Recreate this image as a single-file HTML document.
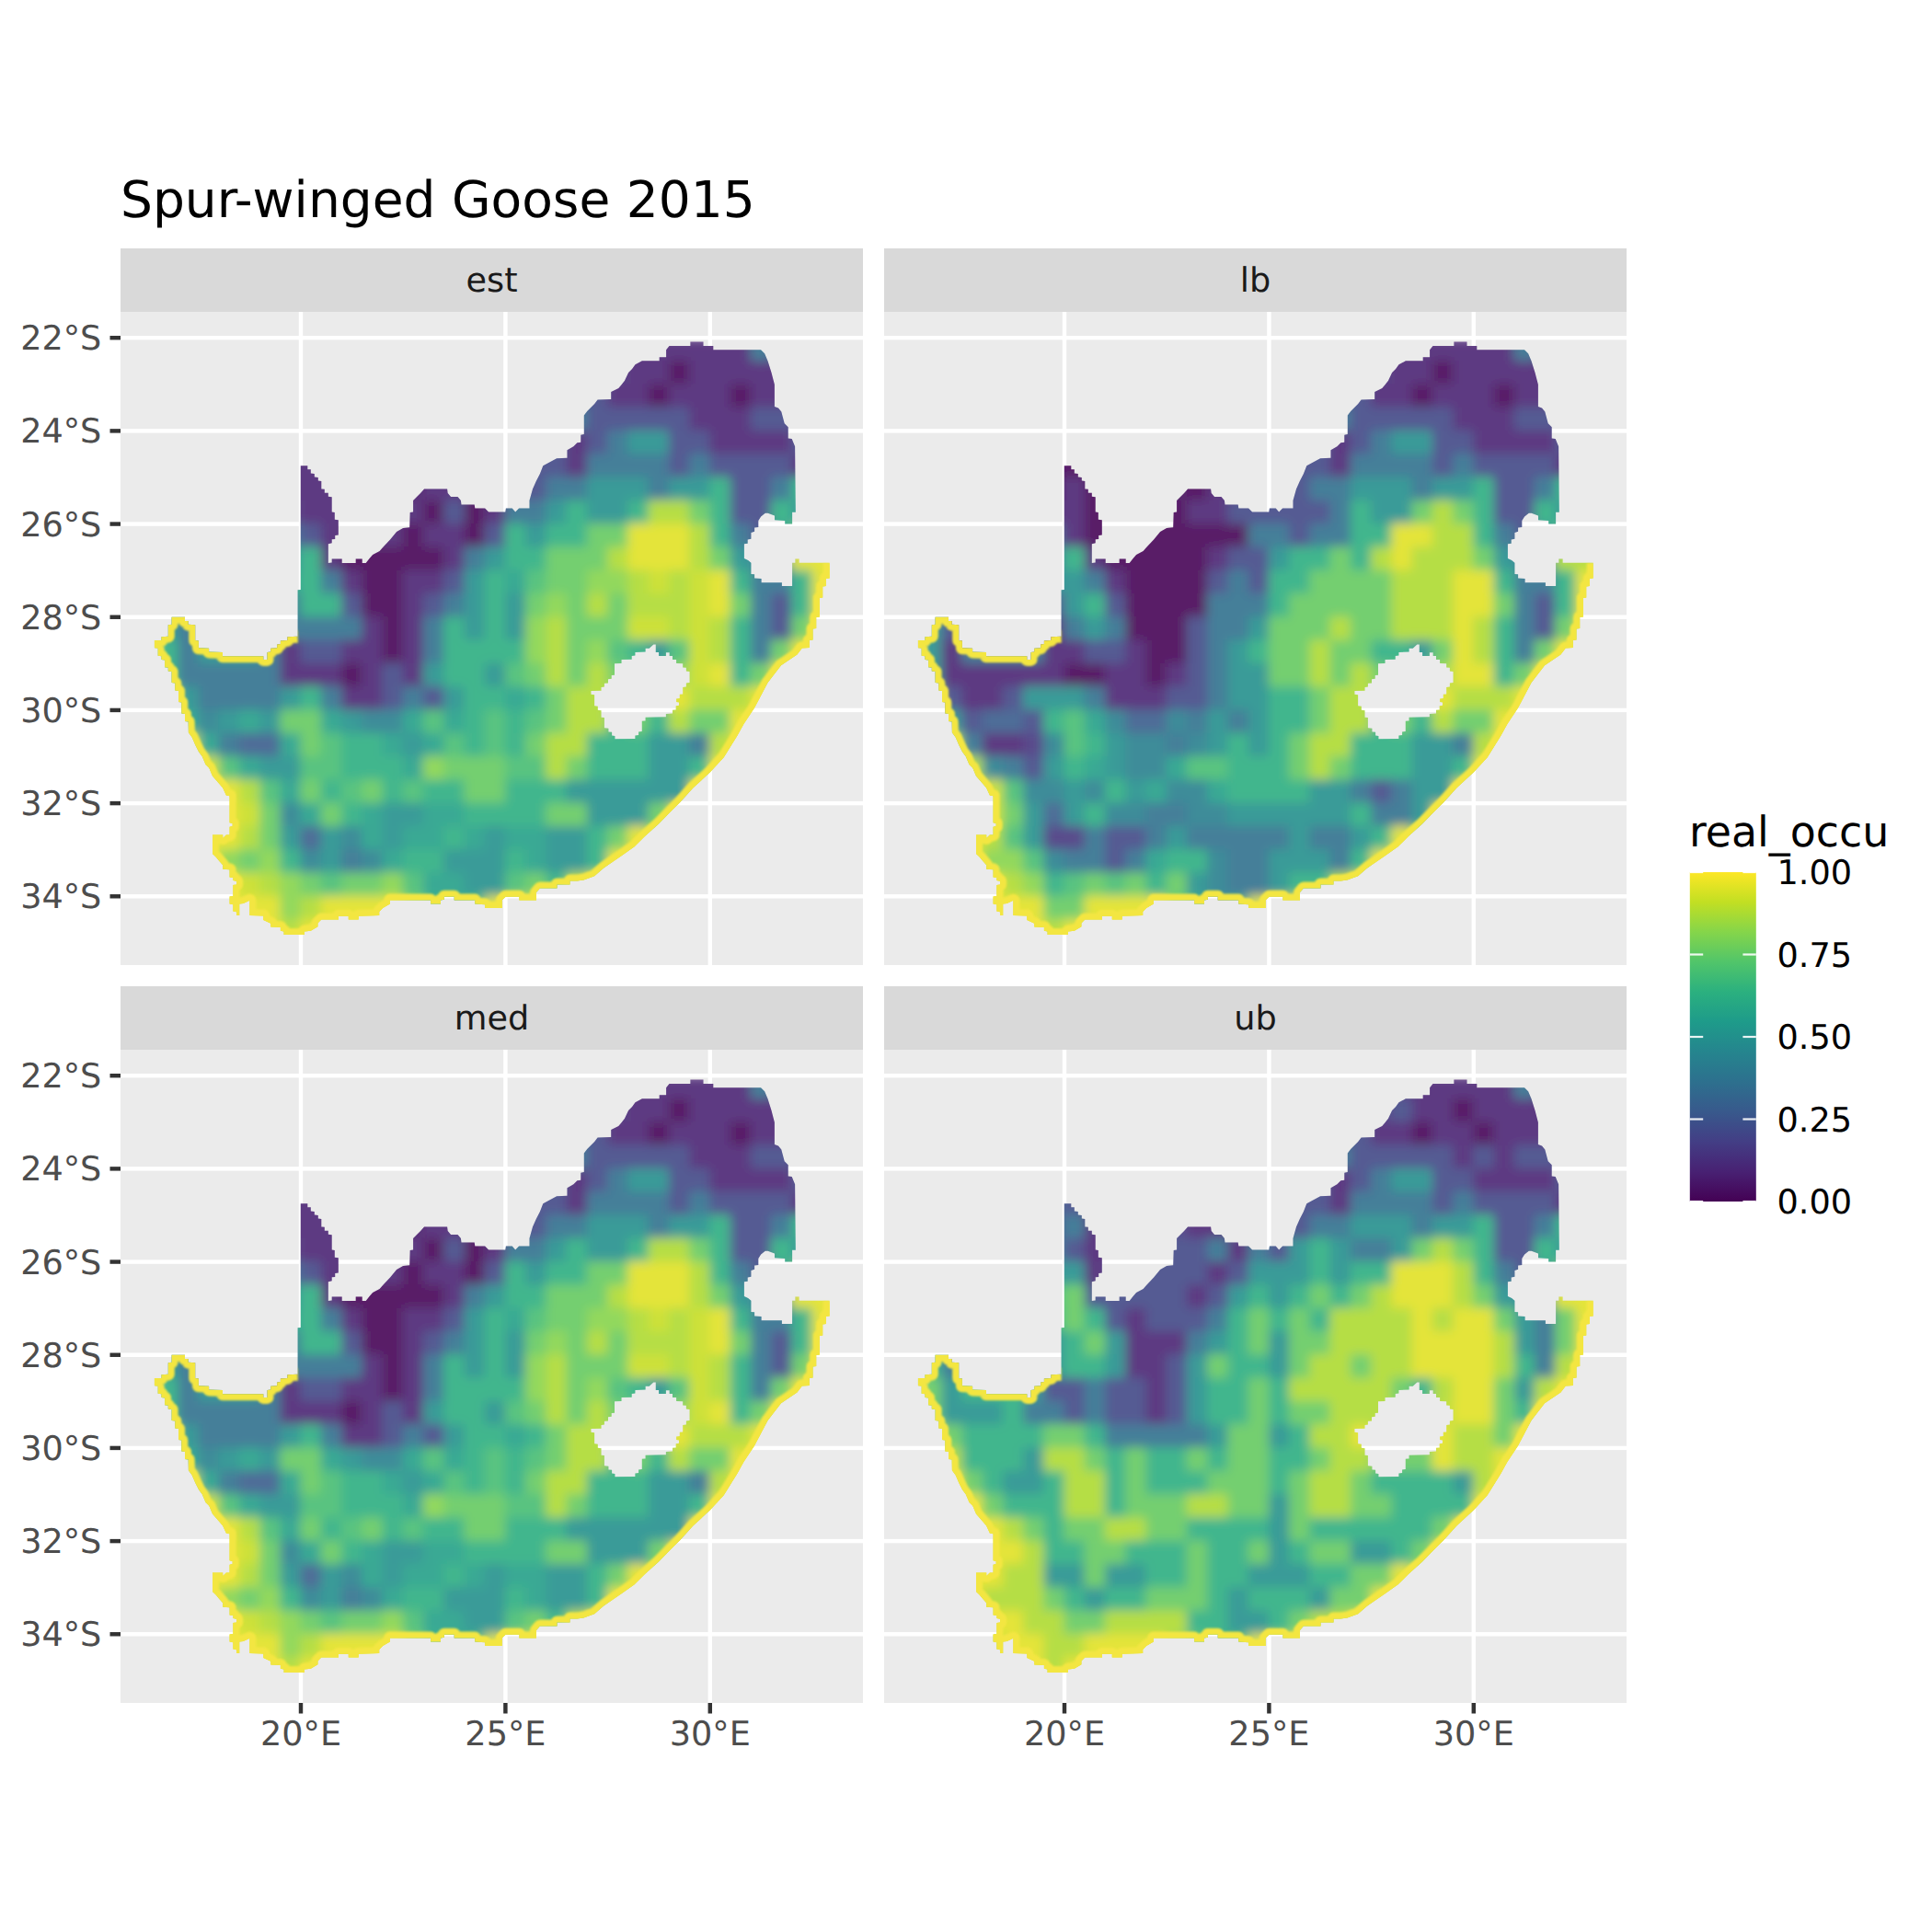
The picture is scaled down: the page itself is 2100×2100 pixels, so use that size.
<!DOCTYPE html>
<html><head><meta charset="utf-8"><title>Spur-winged Goose 2015</title><style>html,body{margin:0;padding:0;background:#fff;}svg{display:block;} text{text-rendering:geometricPrecision;-webkit-font-smoothing:antialiased;}</style></head><body>
<svg width="2100" height="2100" viewBox="0 0 2100 2100">
<defs>
<clipPath id="sa" clipPathUnits="userSpaceOnUse"><path clip-rule="evenodd" d="M727.5 375.9 L750.4 375.9 L750.4 371.4 L764.5 371.4 L764.5 375.9 L775.3 375.9 L775.3 380.2 L827.0 380.2 L831.1 384.2 L834.5 392.3 L838.5 405.0 L841.9 417.9 L841.9 442.1 L846.0 443.4 L849.3 447.5 L852.7 460.3 L856.7 464.3 L856.7 476.4 L860.7 477.1 L864.1 485.2 L864.8 556.8 L861.1 556.8 L861.1 569.4 L853.2 569.4 L853.2 566.1 L842.0 565.2 L842.0 560.5 L834.6 557.7 L831.8 557.7 L827.1 561.4 L824.3 566.1 L824.3 573.1 L820.1 573.6 L820.1 577.7 L816.4 579.1 L816.4 585.7 L812.7 586.6 L812.7 590.8 L808.9 591.3 L808.9 607.1 L813.1 609.0 L816.4 611.8 L816.4 623.9 L820.1 624.3 L820.1 628.5 L827.6 629.0 L827.6 633.2 L849.9 633.2 L849.9 636.9 L861.1 636.9 L861.1 611.8 L864.4 611.8 L864.4 607.6 L868.6 607.6 L868.6 611.8 L901.7 611.8 L901.7 628.5 L897.9 629.0 L897.9 636.9 L894.2 637.4 L894.2 649.5 L890.9 650.0 L890.9 670.5 L887.2 670.9 L887.2 683.1 L883.5 683.5 L883.5 695.6 L879.8 696.1 L879.8 704.0 L871.8 704.5 L866.4 711.6 L849.0 723.2 L834.5 742.0 L820.0 769.6 L808.4 787.0 L801.2 800.0 L786.7 823.2 L772.2 839.1 L753.3 856.5 L738.8 872.5 L727.2 884.1 L715.7 895.7 L701.2 908.7 L689.6 920.3 L675.1 930.4 L656.2 943.5 L646.1 952.2 L634.5 956.5 L627.3 957.6 L619.5 957.6 L619.5 961.5 L605.5 961.5 L605.5 965.4 L586.9 965.4 L583.0 970.1 L583.0 978.6 L564.4 978.6 L564.4 974.7 L549.6 974.7 L545.7 978.6 L545.7 987.1 L527.1 987.1 L527.1 983.3 L516.2 982.5 L516.2 978.6 L493.7 978.6 L493.7 974.7 L482.9 974.7 L482.9 977.8 L479.0 978.6 L479.0 982.5 L468.1 982.5 L468.1 978.6 L423.9 978.6 L423.9 982.5 L416.1 987.1 L412.2 991.0 L412.2 994.9 L389.7 995.7 L389.7 999.6 L378.8 999.6 L378.8 995.7 L368.0 995.7 L368.0 999.6 L349.3 999.6 L345.4 1003.4 L345.4 1007.3 L337.8 1011.7 L331.0 1012.4 L331.0 1016.1 L308.6 1016.1 L308.6 1012.4 L304.9 1011.7 L304.9 1008.0 L294.3 1007.4 L294.3 1003.7 L286.3 999.9 L286.3 995.6 L271.4 995.0 L271.4 978.8 L264.5 981.9 L260.2 982.5 L260.2 995.0 L257.1 995.0 L257.1 991.2 L253.4 990.6 L253.4 983.2 L249.6 982.5 L249.6 974.5 L253.4 973.9 L253.4 962.0 L257.1 961.4 L257.1 957.7 L253.4 957.1 L253.4 954.0 L249.6 953.4 L249.6 945.3 L242.2 944.7 L242.2 940.3 L238.4 936.0 L234.7 931.6 L231.0 927.9 L231.0 907.4 L242.2 907.4 L242.2 911.1 L245.9 907.4 L249.6 907.4 L249.6 898.7 L252.7 898.1 L252.7 895.0 L249.6 894.3 L249.6 865.2 L245.9 864.5 L242.2 856.5 L238.4 852.1 L234.7 847.8 L231.0 843.4 L227.3 834.7 L223.5 831.0 L219.8 822.3 L216.1 817.3 L212.4 809.9 L208.6 801.2 L204.9 796.2 L204.7 784.5 L201.0 784.0 L201.0 776.1 L197.3 775.6 L197.3 763.5 L194.0 763.1 L194.0 751.0 L190.3 750.5 L190.3 742.6 L186.6 742.1 L186.6 730.0 L182.8 729.5 L182.8 725.8 L179.1 725.3 L179.1 717.4 L175.4 716.9 L175.4 713.2 L171.6 712.7 L171.6 704.8 L167.9 704.3 L167.9 696.0 L175.4 696.0 L175.4 692.2 L182.8 691.8 L182.8 679.2 L186.6 678.7 L186.6 670.8 L201.0 670.8 L201.0 675.0 L204.7 675.0 L204.7 678.7 L212.2 679.2 L212.2 696.0 L215.9 696.4 L215.9 704.3 L227.1 704.8 L227.1 708.5 L242.0 709.0 L242.0 713.2 L286.3 713.2 L286.3 716.9 L290.5 716.9 L290.5 709.0 L294.2 708.5 L294.2 704.8 L301.2 704.3 L301.2 700.6 L304.9 700.1 L304.9 696.4 L312.4 696.0 L312.4 692.2 L323.6 691.8 L323.6 641.2 L326.8 641.0 L326.8 506.3 L334.3 506.3 L334.3 510.2 L337.8 510.2 L337.8 514.6 L341.8 515.1 L341.8 518.6 L345.8 519.0 L345.8 522.6 L349.3 523.0 L349.3 531.4 L352.8 531.8 L352.8 535.8 L356.8 535.8 L356.8 539.7 L360.7 540.2 L360.7 556.4 L363.8 556.9 L363.8 564.8 L367.8 565.2 L367.8 581.5 L364.2 582.0 L364.2 585.9 L360.7 586.3 L360.7 590.3 L356.8 591.2 L356.8 611.9 L360.7 611.4 L360.7 607.5 L371.7 607.5 L371.7 611.9 L386.7 611.9 L386.7 607.5 L393.7 607.5 L393.7 611.9 L397.7 611.9 L401.2 607.5 L405.1 603.1 L412.6 599.1 L416.1 595.1 L420.1 590.7 L424.1 586.4 L431.1 578.0 L438.1 574.0 L445.2 573.2 L445.7 557.0 L449.1 556.4 L449.1 543.9 L453.1 539.9 L457.1 535.9 L461.1 531.4 L486.1 531.4 L486.7 535.9 L490.1 539.9 L497.5 539.9 L500.9 543.9 L501.5 548.5 L515.7 548.5 L516.3 552.4 L527.1 552.4 L531.1 556.4 L549.3 556.4 L549.9 552.4 L556.7 552.4 L560.2 556.4 L564.1 552.4 L575.5 552.4 L575.5 543.9 L579.0 531.4 L582.9 522.8 L586.9 514.9 L590.3 506.3 L597.7 502.3 L605.1 498.3 L616.5 497.8 L616.5 489.2 L623.4 485.2 L627.4 481.3 L631.3 480.7 L631.3 472.7 L634.8 472.1 L634.8 451.6 L638.2 447.1 L642.2 443.1 L646.2 439.1 L649.6 434.6 L664.2 434.0 L664.2 425.9 L672.3 421.9 L675.7 417.9 L679.0 413.8 L683.1 405.1 L687.1 401.0 L690.5 396.3 L697.9 392.3 L716.7 392.3 L716.7 388.3 L724.1 388.3 L724.1 380.2 Z M710.3 700.6 L712.8 700.6 L712.8 708.9 L716.1 708.9 L716.1 713.0 L723.9 713.0 L723.9 709.3 L727.7 709.3 L727.7 713.0 L731.0 713.0 L731.0 717.1 L735.1 717.1 L735.1 720.9 L742.2 721.3 L742.2 725.4 L745.9 725.8 L745.9 729.6 L749.6 730.0 L749.6 742.0 L745.9 742.4 L745.9 746.5 L742.2 747.0 L742.2 754.4 L738.8 754.8 L738.8 759.0 L735.1 759.4 L735.1 763.1 L738.0 763.5 L738.0 766.8 L734.7 767.2 L734.7 771.4 L731.0 771.8 L731.0 775.5 L723.9 775.9 L723.9 779.3 L701.6 779.7 L701.6 783.4 L697.8 783.8 L697.8 795.0 L694.1 795.4 L694.1 799.1 L690.4 799.5 L690.4 802.9 L668.4 803.3 L668.4 800.0 L665.1 799.5 L665.1 795.8 L661.4 795.4 L661.4 791.7 L656.9 791.3 L656.9 780.1 L653.5 779.7 L653.5 772.2 L649.8 771.8 L649.8 767.7 L646.1 767.2 L646.1 755.2 L642.4 754.8 L642.4 751.1 L653.5 750.7 L653.5 747.0 L656.9 746.5 L656.9 742.8 L661.0 742.4 L661.0 738.3 L664.7 737.8 L664.7 734.1 L668.0 733.7 L668.0 721.3 L675.5 720.9 L675.5 717.1 L686.7 716.7 L686.7 713.0 L690.4 712.6 L690.4 708.9 L701.6 708.4 L701.6 704.7 L705.7 704.7 Z"/></clipPath>
<filter id="bl" x="-5%" y="-5%" width="110%" height="110%"><feGaussianBlur stdDeviation="6"/></filter>
<filter id="bl2" x="-5%" y="-5%" width="110%" height="110%"><feGaussianBlur stdDeviation="1.2"/></filter>
<linearGradient id="vg" x1="0" y1="1" x2="0" y2="0"><stop offset="0.0000" stop-color="#440154"/><stop offset="0.0909" stop-color="#482173"/><stop offset="0.1818" stop-color="#433E85"/><stop offset="0.2727" stop-color="#38598C"/><stop offset="0.3636" stop-color="#2D708E"/><stop offset="0.4545" stop-color="#25858E"/><stop offset="0.5455" stop-color="#1E9B8A"/><stop offset="0.6364" stop-color="#2BB07F"/><stop offset="0.7273" stop-color="#51C56A"/><stop offset="0.8182" stop-color="#85D54A"/><stop offset="0.9091" stop-color="#C2DF23"/><stop offset="1.0000" stop-color="#FDE725"/></linearGradient>
</defs>
<rect width="2100" height="2100" fill="#FFFFFF"/>
<text x="131" y="236.4" font-family="DejaVu Sans" font-size="55" fill="#000000">Spur-winged Goose 2015</text>
<g transform="translate(0,0)">
<rect x="131" y="270" width="807" height="69" fill="#D9D9D9"/>
<text x="534.5" y="316.8" text-anchor="middle" font-family="DejaVu Sans" font-size="36.67" fill="#1A1A1A">est</text>
<rect x="131" y="339" width="807" height="710" fill="#EBEBEB"/>
<rect x="324.78" y="339" width="4.44" height="710" fill="#FFFFFF"/>
<rect x="547.18" y="339" width="4.44" height="710" fill="#FFFFFF"/>
<rect x="769.58" y="339" width="4.44" height="710" fill="#FFFFFF"/>
<rect x="131" y="364.98" width="807" height="4.44" fill="#FFFFFF"/>
<rect x="131" y="466.16" width="807" height="4.44" fill="#FFFFFF"/>
<rect x="131" y="567.34" width="807" height="4.44" fill="#FFFFFF"/>
<rect x="131" y="668.52" width="807" height="4.44" fill="#FFFFFF"/>
<rect x="131" y="769.70" width="807" height="4.44" fill="#FFFFFF"/>
<rect x="131" y="870.88" width="807" height="4.44" fill="#FFFFFF"/>
<rect x="131" y="972.06" width="807" height="4.44" fill="#FFFFFF"/>
<g clip-path="url(#sa)"><g>
<g filter="url(#bl)">
<rect x="170.8" y="366.7" width="23.2" height="26.3" fill="#482173"/>
<rect x="193.1" y="366.7" width="23.2" height="26.3" fill="#482173"/>
<rect x="215.3" y="366.7" width="23.2" height="26.3" fill="#482173"/>
<rect x="237.5" y="366.7" width="23.2" height="26.3" fill="#482173"/>
<rect x="259.8" y="366.7" width="23.2" height="26.3" fill="#482173"/>
<rect x="282.0" y="366.7" width="23.2" height="26.3" fill="#482173"/>
<rect x="304.3" y="366.7" width="23.2" height="26.3" fill="#482173"/>
<rect x="326.5" y="366.7" width="23.2" height="26.3" fill="#482173"/>
<rect x="348.7" y="366.7" width="23.2" height="26.3" fill="#482173"/>
<rect x="371.0" y="366.7" width="23.2" height="26.3" fill="#482173"/>
<rect x="393.2" y="366.7" width="23.2" height="26.3" fill="#482173"/>
<rect x="415.5" y="366.7" width="23.2" height="26.3" fill="#482173"/>
<rect x="437.7" y="366.7" width="23.2" height="26.3" fill="#482173"/>
<rect x="459.9" y="366.7" width="23.2" height="26.3" fill="#45347F"/>
<rect x="482.2" y="366.7" width="23.2" height="26.3" fill="#404687"/>
<rect x="504.4" y="366.7" width="23.2" height="26.3" fill="#404687"/>
<rect x="526.7" y="366.7" width="23.2" height="26.3" fill="#375B8C"/>
<rect x="548.9" y="366.7" width="23.2" height="26.3" fill="#2D6F8E"/>
<rect x="571.1" y="366.7" width="23.2" height="26.3" fill="#375B8C"/>
<rect x="593.4" y="366.7" width="23.2" height="26.3" fill="#404687"/>
<rect x="615.6" y="366.7" width="23.2" height="26.3" fill="#433D85"/>
<rect x="637.9" y="366.7" width="23.2" height="26.3" fill="#45317D"/>
<rect x="660.1" y="366.7" width="23.2" height="26.3" fill="#482173"/>
<rect x="682.3" y="366.7" width="23.2" height="26.3" fill="#482173"/>
<rect x="704.6" y="366.7" width="23.2" height="26.3" fill="#482173"/>
<rect x="726.8" y="366.7" width="23.2" height="26.3" fill="#482173"/>
<rect x="749.1" y="366.7" width="23.2" height="26.3" fill="#482173"/>
<rect x="771.3" y="366.7" width="23.2" height="26.3" fill="#482173"/>
<rect x="793.5" y="366.7" width="23.2" height="26.3" fill="#482173"/>
<rect x="815.8" y="366.7" width="23.2" height="26.3" fill="#2D6F8E"/>
<rect x="838.0" y="366.7" width="23.2" height="26.3" fill="#443A83"/>
<rect x="860.3" y="366.7" width="23.2" height="26.3" fill="#482173"/>
<rect x="882.5" y="366.7" width="23.2" height="26.3" fill="#482173"/>
<rect x="170.8" y="392.0" width="23.2" height="26.3" fill="#482173"/>
<rect x="193.1" y="392.0" width="23.2" height="26.3" fill="#482173"/>
<rect x="215.3" y="392.0" width="23.2" height="26.3" fill="#482173"/>
<rect x="237.5" y="392.0" width="23.2" height="26.3" fill="#482173"/>
<rect x="259.8" y="392.0" width="23.2" height="26.3" fill="#482173"/>
<rect x="282.0" y="392.0" width="23.2" height="26.3" fill="#482173"/>
<rect x="304.3" y="392.0" width="23.2" height="26.3" fill="#482173"/>
<rect x="326.5" y="392.0" width="23.2" height="26.3" fill="#482173"/>
<rect x="348.7" y="392.0" width="23.2" height="26.3" fill="#482173"/>
<rect x="371.0" y="392.0" width="23.2" height="26.3" fill="#482173"/>
<rect x="393.2" y="392.0" width="23.2" height="26.3" fill="#482173"/>
<rect x="415.5" y="392.0" width="23.2" height="26.3" fill="#482173"/>
<rect x="437.7" y="392.0" width="23.2" height="26.3" fill="#482173"/>
<rect x="459.9" y="392.0" width="23.2" height="26.3" fill="#462B79"/>
<rect x="482.2" y="392.0" width="23.2" height="26.3" fill="#404687"/>
<rect x="504.4" y="392.0" width="23.2" height="26.3" fill="#404687"/>
<rect x="526.7" y="392.0" width="23.2" height="26.3" fill="#404687"/>
<rect x="548.9" y="392.0" width="23.2" height="26.3" fill="#385A8C"/>
<rect x="571.1" y="392.0" width="23.2" height="26.3" fill="#2D6F8E"/>
<rect x="593.4" y="392.0" width="23.2" height="26.3" fill="#385A8C"/>
<rect x="615.6" y="392.0" width="23.2" height="26.3" fill="#404687"/>
<rect x="637.9" y="392.0" width="23.2" height="26.3" fill="#45347F"/>
<rect x="660.1" y="392.0" width="23.2" height="26.3" fill="#462A79"/>
<rect x="682.3" y="392.0" width="23.2" height="26.3" fill="#482173"/>
<rect x="704.6" y="392.0" width="23.2" height="26.3" fill="#482173"/>
<rect x="726.8" y="392.0" width="23.2" height="26.3" fill="#440154"/>
<rect x="749.1" y="392.0" width="23.2" height="26.3" fill="#482173"/>
<rect x="771.3" y="392.0" width="23.2" height="26.3" fill="#482173"/>
<rect x="793.5" y="392.0" width="23.2" height="26.3" fill="#482173"/>
<rect x="815.8" y="392.0" width="23.2" height="26.3" fill="#482173"/>
<rect x="838.0" y="392.0" width="23.2" height="26.3" fill="#482173"/>
<rect x="860.3" y="392.0" width="23.2" height="26.3" fill="#482173"/>
<rect x="882.5" y="392.0" width="23.2" height="26.3" fill="#472575"/>
<rect x="170.8" y="417.3" width="23.2" height="26.3" fill="#482173"/>
<rect x="193.1" y="417.3" width="23.2" height="26.3" fill="#482173"/>
<rect x="215.3" y="417.3" width="23.2" height="26.3" fill="#482173"/>
<rect x="237.5" y="417.3" width="23.2" height="26.3" fill="#482173"/>
<rect x="259.8" y="417.3" width="23.2" height="26.3" fill="#482173"/>
<rect x="282.0" y="417.3" width="23.2" height="26.3" fill="#482173"/>
<rect x="304.3" y="417.3" width="23.2" height="26.3" fill="#482173"/>
<rect x="326.5" y="417.3" width="23.2" height="26.3" fill="#482173"/>
<rect x="348.7" y="417.3" width="23.2" height="26.3" fill="#482173"/>
<rect x="371.0" y="417.3" width="23.2" height="26.3" fill="#482173"/>
<rect x="393.2" y="417.3" width="23.2" height="26.3" fill="#482173"/>
<rect x="415.5" y="417.3" width="23.2" height="26.3" fill="#482173"/>
<rect x="437.7" y="417.3" width="23.2" height="26.3" fill="#482173"/>
<rect x="459.9" y="417.3" width="23.2" height="26.3" fill="#482173"/>
<rect x="482.2" y="417.3" width="23.2" height="26.3" fill="#462E7B"/>
<rect x="504.4" y="417.3" width="23.2" height="26.3" fill="#404687"/>
<rect x="526.7" y="417.3" width="23.2" height="26.3" fill="#404687"/>
<rect x="548.9" y="417.3" width="23.2" height="26.3" fill="#404687"/>
<rect x="571.1" y="417.3" width="23.2" height="26.3" fill="#3A558B"/>
<rect x="593.4" y="417.3" width="23.2" height="26.3" fill="#2D6F8E"/>
<rect x="615.6" y="417.3" width="23.2" height="26.3" fill="#3A558B"/>
<rect x="637.9" y="417.3" width="23.2" height="26.3" fill="#404687"/>
<rect x="660.1" y="417.3" width="23.2" height="26.3" fill="#482173"/>
<rect x="682.3" y="417.3" width="23.2" height="26.3" fill="#482173"/>
<rect x="704.6" y="417.3" width="23.2" height="26.3" fill="#440154"/>
<rect x="726.8" y="417.3" width="23.2" height="26.3" fill="#482173"/>
<rect x="749.1" y="417.3" width="23.2" height="26.3" fill="#482173"/>
<rect x="771.3" y="417.3" width="23.2" height="26.3" fill="#482173"/>
<rect x="793.5" y="417.3" width="23.2" height="26.3" fill="#440154"/>
<rect x="815.8" y="417.3" width="23.2" height="26.3" fill="#482173"/>
<rect x="838.0" y="417.3" width="23.2" height="26.3" fill="#482173"/>
<rect x="860.3" y="417.3" width="23.2" height="26.3" fill="#462D7B"/>
<rect x="882.5" y="417.3" width="23.2" height="26.3" fill="#45327E"/>
<rect x="170.8" y="442.6" width="23.2" height="26.3" fill="#482273"/>
<rect x="193.1" y="442.6" width="23.2" height="26.3" fill="#482173"/>
<rect x="215.3" y="442.6" width="23.2" height="26.3" fill="#482173"/>
<rect x="237.5" y="442.6" width="23.2" height="26.3" fill="#482173"/>
<rect x="259.8" y="442.6" width="23.2" height="26.3" fill="#482173"/>
<rect x="282.0" y="442.6" width="23.2" height="26.3" fill="#482173"/>
<rect x="304.3" y="442.6" width="23.2" height="26.3" fill="#482173"/>
<rect x="326.5" y="442.6" width="23.2" height="26.3" fill="#482173"/>
<rect x="348.7" y="442.6" width="23.2" height="26.3" fill="#482173"/>
<rect x="371.0" y="442.6" width="23.2" height="26.3" fill="#482173"/>
<rect x="393.2" y="442.6" width="23.2" height="26.3" fill="#482173"/>
<rect x="415.5" y="442.6" width="23.2" height="26.3" fill="#482173"/>
<rect x="437.7" y="442.6" width="23.2" height="26.3" fill="#482173"/>
<rect x="459.9" y="442.6" width="23.2" height="26.3" fill="#482173"/>
<rect x="482.2" y="442.6" width="23.2" height="26.3" fill="#482173"/>
<rect x="504.4" y="442.6" width="23.2" height="26.3" fill="#462F7C"/>
<rect x="526.7" y="442.6" width="23.2" height="26.3" fill="#404687"/>
<rect x="548.9" y="442.6" width="23.2" height="26.3" fill="#404687"/>
<rect x="571.1" y="442.6" width="23.2" height="26.3" fill="#404687"/>
<rect x="593.4" y="442.6" width="23.2" height="26.3" fill="#404687"/>
<rect x="615.6" y="442.6" width="23.2" height="26.3" fill="#2D6F8E"/>
<rect x="637.9" y="442.6" width="23.2" height="26.3" fill="#404687"/>
<rect x="660.1" y="442.6" width="23.2" height="26.3" fill="#404687"/>
<rect x="682.3" y="442.6" width="23.2" height="26.3" fill="#404687"/>
<rect x="704.6" y="442.6" width="23.2" height="26.3" fill="#404687"/>
<rect x="726.8" y="442.6" width="23.2" height="26.3" fill="#404687"/>
<rect x="749.1" y="442.6" width="23.2" height="26.3" fill="#482173"/>
<rect x="771.3" y="442.6" width="23.2" height="26.3" fill="#482173"/>
<rect x="793.5" y="442.6" width="23.2" height="26.3" fill="#482173"/>
<rect x="815.8" y="442.6" width="23.2" height="26.3" fill="#404687"/>
<rect x="838.0" y="442.6" width="23.2" height="26.3" fill="#404687"/>
<rect x="860.3" y="442.6" width="23.2" height="26.3" fill="#45347F"/>
<rect x="882.5" y="442.6" width="23.2" height="26.3" fill="#404687"/>
<rect x="170.8" y="467.9" width="23.2" height="26.3" fill="#433C84"/>
<rect x="193.1" y="467.9" width="23.2" height="26.3" fill="#482374"/>
<rect x="215.3" y="467.9" width="23.2" height="26.3" fill="#482274"/>
<rect x="237.5" y="467.9" width="23.2" height="26.3" fill="#482173"/>
<rect x="259.8" y="467.9" width="23.2" height="26.3" fill="#482173"/>
<rect x="282.0" y="467.9" width="23.2" height="26.3" fill="#482173"/>
<rect x="304.3" y="467.9" width="23.2" height="26.3" fill="#482173"/>
<rect x="326.5" y="467.9" width="23.2" height="26.3" fill="#482173"/>
<rect x="348.7" y="467.9" width="23.2" height="26.3" fill="#482173"/>
<rect x="371.0" y="467.9" width="23.2" height="26.3" fill="#482173"/>
<rect x="393.2" y="467.9" width="23.2" height="26.3" fill="#482173"/>
<rect x="415.5" y="467.9" width="23.2" height="26.3" fill="#482173"/>
<rect x="437.7" y="467.9" width="23.2" height="26.3" fill="#482173"/>
<rect x="459.9" y="467.9" width="23.2" height="26.3" fill="#482173"/>
<rect x="482.2" y="467.9" width="23.2" height="26.3" fill="#482173"/>
<rect x="504.4" y="467.9" width="23.2" height="26.3" fill="#482173"/>
<rect x="526.7" y="467.9" width="23.2" height="26.3" fill="#45347F"/>
<rect x="548.9" y="467.9" width="23.2" height="26.3" fill="#404687"/>
<rect x="571.1" y="467.9" width="23.2" height="26.3" fill="#404687"/>
<rect x="593.4" y="467.9" width="23.2" height="26.3" fill="#404687"/>
<rect x="615.6" y="467.9" width="23.2" height="26.3" fill="#482173"/>
<rect x="637.9" y="467.9" width="23.2" height="26.3" fill="#404687"/>
<rect x="660.1" y="467.9" width="23.2" height="26.3" fill="#2D6F8E"/>
<rect x="682.3" y="467.9" width="23.2" height="26.3" fill="#22908C"/>
<rect x="704.6" y="467.9" width="23.2" height="26.3" fill="#22908C"/>
<rect x="726.8" y="467.9" width="23.2" height="26.3" fill="#404687"/>
<rect x="749.1" y="467.9" width="23.2" height="26.3" fill="#404687"/>
<rect x="771.3" y="467.9" width="23.2" height="26.3" fill="#482173"/>
<rect x="793.5" y="467.9" width="23.2" height="26.3" fill="#482173"/>
<rect x="815.8" y="467.9" width="23.2" height="26.3" fill="#482173"/>
<rect x="838.0" y="467.9" width="23.2" height="26.3" fill="#482173"/>
<rect x="860.3" y="467.9" width="23.2" height="26.3" fill="#404687"/>
<rect x="882.5" y="467.9" width="23.2" height="26.3" fill="#45347F"/>
<rect x="170.8" y="493.2" width="23.2" height="26.3" fill="#2D6F8E"/>
<rect x="193.1" y="493.2" width="23.2" height="26.3" fill="#433E85"/>
<rect x="215.3" y="493.2" width="23.2" height="26.3" fill="#472777"/>
<rect x="237.5" y="493.2" width="23.2" height="26.3" fill="#472475"/>
<rect x="259.8" y="493.2" width="23.2" height="26.3" fill="#482274"/>
<rect x="282.0" y="493.2" width="23.2" height="26.3" fill="#482173"/>
<rect x="304.3" y="493.2" width="23.2" height="26.3" fill="#482173"/>
<rect x="326.5" y="493.2" width="23.2" height="26.3" fill="#482173"/>
<rect x="348.7" y="493.2" width="23.2" height="26.3" fill="#482173"/>
<rect x="371.0" y="493.2" width="23.2" height="26.3" fill="#482173"/>
<rect x="393.2" y="493.2" width="23.2" height="26.3" fill="#482173"/>
<rect x="415.5" y="493.2" width="23.2" height="26.3" fill="#481D6F"/>
<rect x="437.7" y="493.2" width="23.2" height="26.3" fill="#482173"/>
<rect x="459.9" y="493.2" width="23.2" height="26.3" fill="#482173"/>
<rect x="482.2" y="493.2" width="23.2" height="26.3" fill="#482173"/>
<rect x="504.4" y="493.2" width="23.2" height="26.3" fill="#482173"/>
<rect x="526.7" y="493.2" width="23.2" height="26.3" fill="#482173"/>
<rect x="548.9" y="493.2" width="23.2" height="26.3" fill="#404687"/>
<rect x="571.1" y="493.2" width="23.2" height="26.3" fill="#404687"/>
<rect x="593.4" y="493.2" width="23.2" height="26.3" fill="#404687"/>
<rect x="615.6" y="493.2" width="23.2" height="26.3" fill="#482173"/>
<rect x="637.9" y="493.2" width="23.2" height="26.3" fill="#2D6F8E"/>
<rect x="660.1" y="493.2" width="23.2" height="26.3" fill="#2D6F8E"/>
<rect x="682.3" y="493.2" width="23.2" height="26.3" fill="#2D6F8E"/>
<rect x="704.6" y="493.2" width="23.2" height="26.3" fill="#2D6F8E"/>
<rect x="726.8" y="493.2" width="23.2" height="26.3" fill="#404687"/>
<rect x="749.1" y="493.2" width="23.2" height="26.3" fill="#2D6F8E"/>
<rect x="771.3" y="493.2" width="23.2" height="26.3" fill="#404687"/>
<rect x="793.5" y="493.2" width="23.2" height="26.3" fill="#404687"/>
<rect x="815.8" y="493.2" width="23.2" height="26.3" fill="#404687"/>
<rect x="838.0" y="493.2" width="23.2" height="26.3" fill="#404687"/>
<rect x="860.3" y="493.2" width="23.2" height="26.3" fill="#482173"/>
<rect x="882.5" y="493.2" width="23.2" height="26.3" fill="#33628D"/>
<rect x="170.8" y="518.5" width="23.2" height="26.3" fill="#2B758E"/>
<rect x="193.1" y="518.5" width="23.2" height="26.3" fill="#2D6F8E"/>
<rect x="215.3" y="518.5" width="23.2" height="26.3" fill="#414386"/>
<rect x="237.5" y="518.5" width="23.2" height="26.3" fill="#462F7C"/>
<rect x="259.8" y="518.5" width="23.2" height="26.3" fill="#462B79"/>
<rect x="282.0" y="518.5" width="23.2" height="26.3" fill="#472575"/>
<rect x="304.3" y="518.5" width="23.2" height="26.3" fill="#482173"/>
<rect x="326.5" y="518.5" width="23.2" height="26.3" fill="#482173"/>
<rect x="348.7" y="518.5" width="23.2" height="26.3" fill="#482173"/>
<rect x="371.0" y="518.5" width="23.2" height="26.3" fill="#482173"/>
<rect x="393.2" y="518.5" width="23.2" height="26.3" fill="#481F71"/>
<rect x="415.5" y="518.5" width="23.2" height="26.3" fill="#482173"/>
<rect x="437.7" y="518.5" width="23.2" height="26.3" fill="#471668"/>
<rect x="459.9" y="518.5" width="23.2" height="26.3" fill="#482173"/>
<rect x="482.2" y="518.5" width="23.2" height="26.3" fill="#482173"/>
<rect x="504.4" y="518.5" width="23.2" height="26.3" fill="#482173"/>
<rect x="526.7" y="518.5" width="23.2" height="26.3" fill="#462A79"/>
<rect x="548.9" y="518.5" width="23.2" height="26.3" fill="#3C4F89"/>
<rect x="571.1" y="518.5" width="23.2" height="26.3" fill="#404687"/>
<rect x="593.4" y="518.5" width="23.2" height="26.3" fill="#2D6F8E"/>
<rect x="615.6" y="518.5" width="23.2" height="26.3" fill="#2D6F8E"/>
<rect x="637.9" y="518.5" width="23.2" height="26.3" fill="#22908C"/>
<rect x="660.1" y="518.5" width="23.2" height="26.3" fill="#22908C"/>
<rect x="682.3" y="518.5" width="23.2" height="26.3" fill="#22908C"/>
<rect x="704.6" y="518.5" width="23.2" height="26.3" fill="#2D6F8E"/>
<rect x="726.8" y="518.5" width="23.2" height="26.3" fill="#22908C"/>
<rect x="749.1" y="518.5" width="23.2" height="26.3" fill="#22908C"/>
<rect x="771.3" y="518.5" width="23.2" height="26.3" fill="#2AAF80"/>
<rect x="793.5" y="518.5" width="23.2" height="26.3" fill="#404687"/>
<rect x="815.8" y="518.5" width="23.2" height="26.3" fill="#404687"/>
<rect x="838.0" y="518.5" width="23.2" height="26.3" fill="#2D6F8E"/>
<rect x="860.3" y="518.5" width="23.2" height="26.3" fill="#2AAF80"/>
<rect x="882.5" y="518.5" width="23.2" height="26.3" fill="#297A8E"/>
<rect x="170.8" y="543.8" width="23.2" height="26.3" fill="#297B8E"/>
<rect x="193.1" y="543.8" width="23.2" height="26.3" fill="#2B768E"/>
<rect x="215.3" y="543.8" width="23.2" height="26.3" fill="#2D6F8E"/>
<rect x="237.5" y="543.8" width="23.2" height="26.3" fill="#3C4F89"/>
<rect x="259.8" y="543.8" width="23.2" height="26.3" fill="#424085"/>
<rect x="282.0" y="543.8" width="23.2" height="26.3" fill="#443A83"/>
<rect x="304.3" y="543.8" width="23.2" height="26.3" fill="#462D7B"/>
<rect x="326.5" y="543.8" width="23.2" height="26.3" fill="#482173"/>
<rect x="348.7" y="543.8" width="23.2" height="26.3" fill="#482173"/>
<rect x="371.0" y="543.8" width="23.2" height="26.3" fill="#482173"/>
<rect x="393.2" y="543.8" width="23.2" height="26.3" fill="#482173"/>
<rect x="415.5" y="543.8" width="23.2" height="26.3" fill="#47196B"/>
<rect x="437.7" y="543.8" width="23.2" height="26.3" fill="#482173"/>
<rect x="459.9" y="543.8" width="23.2" height="26.3" fill="#440154"/>
<rect x="482.2" y="543.8" width="23.2" height="26.3" fill="#404687"/>
<rect x="504.4" y="543.8" width="23.2" height="26.3" fill="#440154"/>
<rect x="526.7" y="543.8" width="23.2" height="26.3" fill="#482173"/>
<rect x="548.9" y="543.8" width="23.2" height="26.3" fill="#2D6F8E"/>
<rect x="571.1" y="543.8" width="23.2" height="26.3" fill="#2D6F8E"/>
<rect x="593.4" y="543.8" width="23.2" height="26.3" fill="#22908C"/>
<rect x="615.6" y="543.8" width="23.2" height="26.3" fill="#2AAF80"/>
<rect x="637.9" y="543.8" width="23.2" height="26.3" fill="#22908C"/>
<rect x="660.1" y="543.8" width="23.2" height="26.3" fill="#22908C"/>
<rect x="682.3" y="543.8" width="23.2" height="26.3" fill="#2AAF80"/>
<rect x="704.6" y="543.8" width="23.2" height="26.3" fill="#AEDC2F"/>
<rect x="726.8" y="543.8" width="23.2" height="26.3" fill="#AEDC2F"/>
<rect x="749.1" y="543.8" width="23.2" height="26.3" fill="#64CB5E"/>
<rect x="771.3" y="543.8" width="23.2" height="26.3" fill="#2AAF80"/>
<rect x="793.5" y="543.8" width="23.2" height="26.3" fill="#404687"/>
<rect x="815.8" y="543.8" width="23.2" height="26.3" fill="#404687"/>
<rect x="838.0" y="543.8" width="23.2" height="26.3" fill="#2AAF80"/>
<rect x="860.3" y="543.8" width="23.2" height="26.3" fill="#22908C"/>
<rect x="882.5" y="543.8" width="23.2" height="26.3" fill="#21A088"/>
<rect x="170.8" y="569.1" width="23.2" height="26.3" fill="#297C8E"/>
<rect x="193.1" y="569.1" width="23.2" height="26.3" fill="#297A8E"/>
<rect x="215.3" y="569.1" width="23.2" height="26.3" fill="#2B748E"/>
<rect x="237.5" y="569.1" width="23.2" height="26.3" fill="#2D6F8E"/>
<rect x="259.8" y="569.1" width="23.2" height="26.3" fill="#33648D"/>
<rect x="282.0" y="569.1" width="23.2" height="26.3" fill="#33628D"/>
<rect x="304.3" y="569.1" width="23.2" height="26.3" fill="#33628D"/>
<rect x="326.5" y="569.1" width="23.2" height="26.3" fill="#404687"/>
<rect x="348.7" y="569.1" width="23.2" height="26.3" fill="#482173"/>
<rect x="371.0" y="569.1" width="23.2" height="26.3" fill="#471668"/>
<rect x="393.2" y="569.1" width="23.2" height="26.3" fill="#482173"/>
<rect x="415.5" y="569.1" width="23.2" height="26.3" fill="#482173"/>
<rect x="437.7" y="569.1" width="23.2" height="26.3" fill="#440154"/>
<rect x="459.9" y="569.1" width="23.2" height="26.3" fill="#482173"/>
<rect x="482.2" y="569.1" width="23.2" height="26.3" fill="#482173"/>
<rect x="504.4" y="569.1" width="23.2" height="26.3" fill="#440154"/>
<rect x="526.7" y="569.1" width="23.2" height="26.3" fill="#404687"/>
<rect x="548.9" y="569.1" width="23.2" height="26.3" fill="#2AAF80"/>
<rect x="571.1" y="569.1" width="23.2" height="26.3" fill="#22908C"/>
<rect x="593.4" y="569.1" width="23.2" height="26.3" fill="#2AAF80"/>
<rect x="615.6" y="569.1" width="23.2" height="26.3" fill="#2AAF80"/>
<rect x="637.9" y="569.1" width="23.2" height="26.3" fill="#64CB5E"/>
<rect x="660.1" y="569.1" width="23.2" height="26.3" fill="#64CB5E"/>
<rect x="682.3" y="569.1" width="23.2" height="26.3" fill="#E3E324"/>
<rect x="704.6" y="569.1" width="23.2" height="26.3" fill="#E3E324"/>
<rect x="726.8" y="569.1" width="23.2" height="26.3" fill="#E3E324"/>
<rect x="749.1" y="569.1" width="23.2" height="26.3" fill="#AEDC2F"/>
<rect x="771.3" y="569.1" width="23.2" height="26.3" fill="#2AAF80"/>
<rect x="793.5" y="569.1" width="23.2" height="26.3" fill="#2D6F8E"/>
<rect x="815.8" y="569.1" width="23.2" height="26.3" fill="#404687"/>
<rect x="838.0" y="569.1" width="23.2" height="26.3" fill="#1F968B"/>
<rect x="860.3" y="569.1" width="23.2" height="26.3" fill="#75D054"/>
<rect x="882.5" y="569.1" width="23.2" height="26.3" fill="#94D741"/>
<rect x="170.8" y="594.4" width="23.2" height="26.3" fill="#287D8E"/>
<rect x="193.1" y="594.4" width="23.2" height="26.3" fill="#297B8E"/>
<rect x="215.3" y="594.4" width="23.2" height="26.3" fill="#2B758E"/>
<rect x="237.5" y="594.4" width="23.2" height="26.3" fill="#2D718E"/>
<rect x="259.8" y="594.4" width="23.2" height="26.3" fill="#2D6F8E"/>
<rect x="282.0" y="594.4" width="23.2" height="26.3" fill="#27818E"/>
<rect x="304.3" y="594.4" width="23.2" height="26.3" fill="#22908C"/>
<rect x="326.5" y="594.4" width="23.2" height="26.3" fill="#2AAF80"/>
<rect x="348.7" y="594.4" width="23.2" height="26.3" fill="#482173"/>
<rect x="371.0" y="594.4" width="23.2" height="26.3" fill="#440154"/>
<rect x="393.2" y="594.4" width="23.2" height="26.3" fill="#440154"/>
<rect x="415.5" y="594.4" width="23.2" height="26.3" fill="#440154"/>
<rect x="437.7" y="594.4" width="23.2" height="26.3" fill="#440154"/>
<rect x="459.9" y="594.4" width="23.2" height="26.3" fill="#440154"/>
<rect x="482.2" y="594.4" width="23.2" height="26.3" fill="#482173"/>
<rect x="504.4" y="594.4" width="23.2" height="26.3" fill="#2D6F8E"/>
<rect x="526.7" y="594.4" width="23.2" height="26.3" fill="#22908C"/>
<rect x="548.9" y="594.4" width="23.2" height="26.3" fill="#2AAF80"/>
<rect x="571.1" y="594.4" width="23.2" height="26.3" fill="#2AAF80"/>
<rect x="593.4" y="594.4" width="23.2" height="26.3" fill="#64CB5E"/>
<rect x="615.6" y="594.4" width="23.2" height="26.3" fill="#64CB5E"/>
<rect x="637.9" y="594.4" width="23.2" height="26.3" fill="#64CB5E"/>
<rect x="660.1" y="594.4" width="23.2" height="26.3" fill="#AEDC2F"/>
<rect x="682.3" y="594.4" width="23.2" height="26.3" fill="#E3E324"/>
<rect x="704.6" y="594.4" width="23.2" height="26.3" fill="#E3E324"/>
<rect x="726.8" y="594.4" width="23.2" height="26.3" fill="#E3E324"/>
<rect x="749.1" y="594.4" width="23.2" height="26.3" fill="#AEDC2F"/>
<rect x="771.3" y="594.4" width="23.2" height="26.3" fill="#64CB5E"/>
<rect x="793.5" y="594.4" width="23.2" height="26.3" fill="#22908C"/>
<rect x="815.8" y="594.4" width="23.2" height="26.3" fill="#297A8E"/>
<rect x="838.0" y="594.4" width="23.2" height="26.3" fill="#1F968B"/>
<rect x="860.3" y="594.4" width="23.2" height="26.3" fill="#E3E324"/>
<rect x="882.5" y="594.4" width="23.2" height="26.3" fill="#E3E324"/>
<rect x="170.8" y="619.6" width="23.2" height="26.3" fill="#277F8E"/>
<rect x="193.1" y="619.6" width="23.2" height="26.3" fill="#297A8E"/>
<rect x="215.3" y="619.6" width="23.2" height="26.3" fill="#2A778E"/>
<rect x="237.5" y="619.6" width="23.2" height="26.3" fill="#2D6F8E"/>
<rect x="259.8" y="619.6" width="23.2" height="26.3" fill="#2D6F8E"/>
<rect x="282.0" y="619.6" width="23.2" height="26.3" fill="#2D6F8E"/>
<rect x="304.3" y="619.6" width="23.2" height="26.3" fill="#21A088"/>
<rect x="326.5" y="619.6" width="23.2" height="26.3" fill="#2AAF80"/>
<rect x="348.7" y="619.6" width="23.2" height="26.3" fill="#2D6F8E"/>
<rect x="371.0" y="619.6" width="23.2" height="26.3" fill="#482173"/>
<rect x="393.2" y="619.6" width="23.2" height="26.3" fill="#440154"/>
<rect x="415.5" y="619.6" width="23.2" height="26.3" fill="#440154"/>
<rect x="437.7" y="619.6" width="23.2" height="26.3" fill="#482173"/>
<rect x="459.9" y="619.6" width="23.2" height="26.3" fill="#482173"/>
<rect x="482.2" y="619.6" width="23.2" height="26.3" fill="#404687"/>
<rect x="504.4" y="619.6" width="23.2" height="26.3" fill="#22908C"/>
<rect x="526.7" y="619.6" width="23.2" height="26.3" fill="#2AAF80"/>
<rect x="548.9" y="619.6" width="23.2" height="26.3" fill="#21A088"/>
<rect x="571.1" y="619.6" width="23.2" height="26.3" fill="#44BE71"/>
<rect x="593.4" y="619.6" width="23.2" height="26.3" fill="#64CB5E"/>
<rect x="615.6" y="619.6" width="23.2" height="26.3" fill="#64CB5E"/>
<rect x="637.9" y="619.6" width="23.2" height="26.3" fill="#86D549"/>
<rect x="660.1" y="619.6" width="23.2" height="26.3" fill="#86D549"/>
<rect x="682.3" y="619.6" width="23.2" height="26.3" fill="#AEDC2F"/>
<rect x="704.6" y="619.6" width="23.2" height="26.3" fill="#C9E023"/>
<rect x="726.8" y="619.6" width="23.2" height="26.3" fill="#AEDC2F"/>
<rect x="749.1" y="619.6" width="23.2" height="26.3" fill="#C9E023"/>
<rect x="771.3" y="619.6" width="23.2" height="26.3" fill="#E3E324"/>
<rect x="793.5" y="619.6" width="23.2" height="26.3" fill="#2AAF80"/>
<rect x="815.8" y="619.6" width="23.2" height="26.3" fill="#2D6F8E"/>
<rect x="838.0" y="619.6" width="23.2" height="26.3" fill="#2D6F8E"/>
<rect x="860.3" y="619.6" width="23.2" height="26.3" fill="#2AAF80"/>
<rect x="882.5" y="619.6" width="23.2" height="26.3" fill="#E3E324"/>
<rect x="170.8" y="644.9" width="23.2" height="26.3" fill="#277F8E"/>
<rect x="193.1" y="644.9" width="23.2" height="26.3" fill="#277F8E"/>
<rect x="215.3" y="644.9" width="23.2" height="26.3" fill="#2D6F8E"/>
<rect x="237.5" y="644.9" width="23.2" height="26.3" fill="#27818E"/>
<rect x="259.8" y="644.9" width="23.2" height="26.3" fill="#2A798E"/>
<rect x="282.0" y="644.9" width="23.2" height="26.3" fill="#2D6F8E"/>
<rect x="304.3" y="644.9" width="23.2" height="26.3" fill="#2D6F8E"/>
<rect x="326.5" y="644.9" width="23.2" height="26.3" fill="#2AAF80"/>
<rect x="348.7" y="644.9" width="23.2" height="26.3" fill="#2AAF80"/>
<rect x="371.0" y="644.9" width="23.2" height="26.3" fill="#404687"/>
<rect x="393.2" y="644.9" width="23.2" height="26.3" fill="#440154"/>
<rect x="415.5" y="644.9" width="23.2" height="26.3" fill="#440154"/>
<rect x="437.7" y="644.9" width="23.2" height="26.3" fill="#482173"/>
<rect x="459.9" y="644.9" width="23.2" height="26.3" fill="#404687"/>
<rect x="482.2" y="644.9" width="23.2" height="26.3" fill="#2D6F8E"/>
<rect x="504.4" y="644.9" width="23.2" height="26.3" fill="#22908C"/>
<rect x="526.7" y="644.9" width="23.2" height="26.3" fill="#2AAF80"/>
<rect x="548.9" y="644.9" width="23.2" height="26.3" fill="#22908C"/>
<rect x="571.1" y="644.9" width="23.2" height="26.3" fill="#64CB5E"/>
<rect x="593.4" y="644.9" width="23.2" height="26.3" fill="#86D549"/>
<rect x="615.6" y="644.9" width="23.2" height="26.3" fill="#64CB5E"/>
<rect x="637.9" y="644.9" width="23.2" height="26.3" fill="#AEDC2F"/>
<rect x="660.1" y="644.9" width="23.2" height="26.3" fill="#64CB5E"/>
<rect x="682.3" y="644.9" width="23.2" height="26.3" fill="#AEDC2F"/>
<rect x="704.6" y="644.9" width="23.2" height="26.3" fill="#AEDC2F"/>
<rect x="726.8" y="644.9" width="23.2" height="26.3" fill="#AEDC2F"/>
<rect x="749.1" y="644.9" width="23.2" height="26.3" fill="#C9E023"/>
<rect x="771.3" y="644.9" width="23.2" height="26.3" fill="#E3E324"/>
<rect x="793.5" y="644.9" width="23.2" height="26.3" fill="#64CB5E"/>
<rect x="815.8" y="644.9" width="23.2" height="26.3" fill="#2D6F8E"/>
<rect x="838.0" y="644.9" width="23.2" height="26.3" fill="#404687"/>
<rect x="860.3" y="644.9" width="23.2" height="26.3" fill="#2AAF80"/>
<rect x="882.5" y="644.9" width="23.2" height="26.3" fill="#E3E324"/>
<rect x="170.8" y="670.2" width="23.2" height="26.3" fill="#22908C"/>
<rect x="193.1" y="670.2" width="23.2" height="26.3" fill="#2D6F8E"/>
<rect x="215.3" y="670.2" width="23.2" height="26.3" fill="#277F8E"/>
<rect x="237.5" y="670.2" width="23.2" height="26.3" fill="#22908C"/>
<rect x="259.8" y="670.2" width="23.2" height="26.3" fill="#25858E"/>
<rect x="282.0" y="670.2" width="23.2" height="26.3" fill="#31678D"/>
<rect x="304.3" y="670.2" width="23.2" height="26.3" fill="#2D6F8E"/>
<rect x="326.5" y="670.2" width="23.2" height="26.3" fill="#2D6F8E"/>
<rect x="348.7" y="670.2" width="23.2" height="26.3" fill="#2D6F8E"/>
<rect x="371.0" y="670.2" width="23.2" height="26.3" fill="#2D6F8E"/>
<rect x="393.2" y="670.2" width="23.2" height="26.3" fill="#482173"/>
<rect x="415.5" y="670.2" width="23.2" height="26.3" fill="#440154"/>
<rect x="437.7" y="670.2" width="23.2" height="26.3" fill="#482173"/>
<rect x="459.9" y="670.2" width="23.2" height="26.3" fill="#2D6F8E"/>
<rect x="482.2" y="670.2" width="23.2" height="26.3" fill="#2AAF80"/>
<rect x="504.4" y="670.2" width="23.2" height="26.3" fill="#22908C"/>
<rect x="526.7" y="670.2" width="23.2" height="26.3" fill="#2AAF80"/>
<rect x="548.9" y="670.2" width="23.2" height="26.3" fill="#22908C"/>
<rect x="571.1" y="670.2" width="23.2" height="26.3" fill="#86D549"/>
<rect x="593.4" y="670.2" width="23.2" height="26.3" fill="#AEDC2F"/>
<rect x="615.6" y="670.2" width="23.2" height="26.3" fill="#64CB5E"/>
<rect x="637.9" y="670.2" width="23.2" height="26.3" fill="#64CB5E"/>
<rect x="660.1" y="670.2" width="23.2" height="26.3" fill="#64CB5E"/>
<rect x="682.3" y="670.2" width="23.2" height="26.3" fill="#C9E023"/>
<rect x="704.6" y="670.2" width="23.2" height="26.3" fill="#C9E023"/>
<rect x="726.8" y="670.2" width="23.2" height="26.3" fill="#AEDC2F"/>
<rect x="749.1" y="670.2" width="23.2" height="26.3" fill="#C9E023"/>
<rect x="771.3" y="670.2" width="23.2" height="26.3" fill="#AEDC2F"/>
<rect x="793.5" y="670.2" width="23.2" height="26.3" fill="#2AAF80"/>
<rect x="815.8" y="670.2" width="23.2" height="26.3" fill="#2D6F8E"/>
<rect x="838.0" y="670.2" width="23.2" height="26.3" fill="#404687"/>
<rect x="860.3" y="670.2" width="23.2" height="26.3" fill="#64CB5E"/>
<rect x="882.5" y="670.2" width="23.2" height="26.3" fill="#E3E324"/>
<rect x="170.8" y="695.5" width="23.2" height="26.3" fill="#2AAF80"/>
<rect x="193.1" y="695.5" width="23.2" height="26.3" fill="#2D6F8E"/>
<rect x="215.3" y="695.5" width="23.2" height="26.3" fill="#22908C"/>
<rect x="237.5" y="695.5" width="23.2" height="26.3" fill="#22908C"/>
<rect x="259.8" y="695.5" width="23.2" height="26.3" fill="#22908C"/>
<rect x="282.0" y="695.5" width="23.2" height="26.3" fill="#2D6F8E"/>
<rect x="304.3" y="695.5" width="23.2" height="26.3" fill="#482173"/>
<rect x="326.5" y="695.5" width="23.2" height="26.3" fill="#404687"/>
<rect x="348.7" y="695.5" width="23.2" height="26.3" fill="#404687"/>
<rect x="371.0" y="695.5" width="23.2" height="26.3" fill="#482173"/>
<rect x="393.2" y="695.5" width="23.2" height="26.3" fill="#482173"/>
<rect x="415.5" y="695.5" width="23.2" height="26.3" fill="#440154"/>
<rect x="437.7" y="695.5" width="23.2" height="26.3" fill="#482173"/>
<rect x="459.9" y="695.5" width="23.2" height="26.3" fill="#2D6F8E"/>
<rect x="482.2" y="695.5" width="23.2" height="26.3" fill="#2AAF80"/>
<rect x="504.4" y="695.5" width="23.2" height="26.3" fill="#2AAF80"/>
<rect x="526.7" y="695.5" width="23.2" height="26.3" fill="#2AAF80"/>
<rect x="548.9" y="695.5" width="23.2" height="26.3" fill="#2AAF80"/>
<rect x="571.1" y="695.5" width="23.2" height="26.3" fill="#86D549"/>
<rect x="593.4" y="695.5" width="23.2" height="26.3" fill="#AEDC2F"/>
<rect x="615.6" y="695.5" width="23.2" height="26.3" fill="#64CB5E"/>
<rect x="637.9" y="695.5" width="23.2" height="26.3" fill="#86D549"/>
<rect x="660.1" y="695.5" width="23.2" height="26.3" fill="#44BE71"/>
<rect x="682.3" y="695.5" width="23.2" height="26.3" fill="#2AAF80"/>
<rect x="704.6" y="695.5" width="23.2" height="26.3" fill="#22908C"/>
<rect x="726.8" y="695.5" width="23.2" height="26.3" fill="#44BE71"/>
<rect x="749.1" y="695.5" width="23.2" height="26.3" fill="#C9E023"/>
<rect x="771.3" y="695.5" width="23.2" height="26.3" fill="#AEDC2F"/>
<rect x="793.5" y="695.5" width="23.2" height="26.3" fill="#2AAF80"/>
<rect x="815.8" y="695.5" width="23.2" height="26.3" fill="#2D6F8E"/>
<rect x="838.0" y="695.5" width="23.2" height="26.3" fill="#64CB5E"/>
<rect x="860.3" y="695.5" width="23.2" height="26.3" fill="#E3E324"/>
<rect x="882.5" y="695.5" width="23.2" height="26.3" fill="#C9E023"/>
<rect x="170.8" y="720.8" width="23.2" height="26.3" fill="#2AAF80"/>
<rect x="193.1" y="720.8" width="23.2" height="26.3" fill="#2D6F8E"/>
<rect x="215.3" y="720.8" width="23.2" height="26.3" fill="#2D6F8E"/>
<rect x="237.5" y="720.8" width="23.2" height="26.3" fill="#2D6F8E"/>
<rect x="259.8" y="720.8" width="23.2" height="26.3" fill="#2D6F8E"/>
<rect x="282.0" y="720.8" width="23.2" height="26.3" fill="#2D6F8E"/>
<rect x="304.3" y="720.8" width="23.2" height="26.3" fill="#482173"/>
<rect x="326.5" y="720.8" width="23.2" height="26.3" fill="#482173"/>
<rect x="348.7" y="720.8" width="23.2" height="26.3" fill="#482173"/>
<rect x="371.0" y="720.8" width="23.2" height="26.3" fill="#440154"/>
<rect x="393.2" y="720.8" width="23.2" height="26.3" fill="#482173"/>
<rect x="415.5" y="720.8" width="23.2" height="26.3" fill="#404687"/>
<rect x="437.7" y="720.8" width="23.2" height="26.3" fill="#482173"/>
<rect x="459.9" y="720.8" width="23.2" height="26.3" fill="#22908C"/>
<rect x="482.2" y="720.8" width="23.2" height="26.3" fill="#2AAF80"/>
<rect x="504.4" y="720.8" width="23.2" height="26.3" fill="#2AAF80"/>
<rect x="526.7" y="720.8" width="23.2" height="26.3" fill="#22908C"/>
<rect x="548.9" y="720.8" width="23.2" height="26.3" fill="#44BE71"/>
<rect x="571.1" y="720.8" width="23.2" height="26.3" fill="#64CB5E"/>
<rect x="593.4" y="720.8" width="23.2" height="26.3" fill="#AEDC2F"/>
<rect x="615.6" y="720.8" width="23.2" height="26.3" fill="#64CB5E"/>
<rect x="637.9" y="720.8" width="23.2" height="26.3" fill="#AEDC2F"/>
<rect x="660.1" y="720.8" width="23.2" height="26.3" fill="#64CB5E"/>
<rect x="682.3" y="720.8" width="23.2" height="26.3" fill="#44BE71"/>
<rect x="704.6" y="720.8" width="23.2" height="26.3" fill="#4AC16E"/>
<rect x="726.8" y="720.8" width="23.2" height="26.3" fill="#8DD645"/>
<rect x="749.1" y="720.8" width="23.2" height="26.3" fill="#C9E023"/>
<rect x="771.3" y="720.8" width="23.2" height="26.3" fill="#E3E324"/>
<rect x="793.5" y="720.8" width="23.2" height="26.3" fill="#2AAF80"/>
<rect x="815.8" y="720.8" width="23.2" height="26.3" fill="#64CB5E"/>
<rect x="838.0" y="720.8" width="23.2" height="26.3" fill="#E3E324"/>
<rect x="860.3" y="720.8" width="23.2" height="26.3" fill="#E3E324"/>
<rect x="882.5" y="720.8" width="23.2" height="26.3" fill="#E3E324"/>
<rect x="170.8" y="746.1" width="23.2" height="26.3" fill="#AEDC2F"/>
<rect x="193.1" y="746.1" width="23.2" height="26.3" fill="#22908C"/>
<rect x="215.3" y="746.1" width="23.2" height="26.3" fill="#2D6F8E"/>
<rect x="237.5" y="746.1" width="23.2" height="26.3" fill="#2D6F8E"/>
<rect x="259.8" y="746.1" width="23.2" height="26.3" fill="#2D6F8E"/>
<rect x="282.0" y="746.1" width="23.2" height="26.3" fill="#2D6F8E"/>
<rect x="304.3" y="746.1" width="23.2" height="26.3" fill="#22908C"/>
<rect x="326.5" y="746.1" width="23.2" height="26.3" fill="#2AAF80"/>
<rect x="348.7" y="746.1" width="23.2" height="26.3" fill="#2D6F8E"/>
<rect x="371.0" y="746.1" width="23.2" height="26.3" fill="#482173"/>
<rect x="393.2" y="746.1" width="23.2" height="26.3" fill="#482173"/>
<rect x="415.5" y="746.1" width="23.2" height="26.3" fill="#404687"/>
<rect x="437.7" y="746.1" width="23.2" height="26.3" fill="#2D6F8E"/>
<rect x="459.9" y="746.1" width="23.2" height="26.3" fill="#404687"/>
<rect x="482.2" y="746.1" width="23.2" height="26.3" fill="#22908C"/>
<rect x="504.4" y="746.1" width="23.2" height="26.3" fill="#2AAF80"/>
<rect x="526.7" y="746.1" width="23.2" height="26.3" fill="#2AAF80"/>
<rect x="548.9" y="746.1" width="23.2" height="26.3" fill="#21A088"/>
<rect x="571.1" y="746.1" width="23.2" height="26.3" fill="#2AAF80"/>
<rect x="593.4" y="746.1" width="23.2" height="26.3" fill="#64CB5E"/>
<rect x="615.6" y="746.1" width="23.2" height="26.3" fill="#AEDC2F"/>
<rect x="637.9" y="746.1" width="23.2" height="26.3" fill="#AEDC2F"/>
<rect x="660.1" y="746.1" width="23.2" height="26.3" fill="#AEDC2F"/>
<rect x="682.3" y="746.1" width="23.2" height="26.3" fill="#55C668"/>
<rect x="704.6" y="746.1" width="23.2" height="26.3" fill="#86D549"/>
<rect x="726.8" y="746.1" width="23.2" height="26.3" fill="#E3E324"/>
<rect x="749.1" y="746.1" width="23.2" height="26.3" fill="#AEDC2F"/>
<rect x="771.3" y="746.1" width="23.2" height="26.3" fill="#AEDC2F"/>
<rect x="793.5" y="746.1" width="23.2" height="26.3" fill="#AEDC2F"/>
<rect x="815.8" y="746.1" width="23.2" height="26.3" fill="#E3E324"/>
<rect x="838.0" y="746.1" width="23.2" height="26.3" fill="#E3E324"/>
<rect x="860.3" y="746.1" width="23.2" height="26.3" fill="#E3E324"/>
<rect x="882.5" y="746.1" width="23.2" height="26.3" fill="#E3E324"/>
<rect x="170.8" y="771.4" width="23.2" height="26.3" fill="#51C56A"/>
<rect x="193.1" y="771.4" width="23.2" height="26.3" fill="#21A088"/>
<rect x="215.3" y="771.4" width="23.2" height="26.3" fill="#277F8E"/>
<rect x="237.5" y="771.4" width="23.2" height="26.3" fill="#22908C"/>
<rect x="259.8" y="771.4" width="23.2" height="26.3" fill="#21A088"/>
<rect x="282.0" y="771.4" width="23.2" height="26.3" fill="#22908C"/>
<rect x="304.3" y="771.4" width="23.2" height="26.3" fill="#64CB5E"/>
<rect x="326.5" y="771.4" width="23.2" height="26.3" fill="#64CB5E"/>
<rect x="348.7" y="771.4" width="23.2" height="26.3" fill="#21A088"/>
<rect x="371.0" y="771.4" width="23.2" height="26.3" fill="#22908C"/>
<rect x="393.2" y="771.4" width="23.2" height="26.3" fill="#277F8E"/>
<rect x="415.5" y="771.4" width="23.2" height="26.3" fill="#277F8E"/>
<rect x="437.7" y="771.4" width="23.2" height="26.3" fill="#21A088"/>
<rect x="459.9" y="771.4" width="23.2" height="26.3" fill="#44BE71"/>
<rect x="482.2" y="771.4" width="23.2" height="26.3" fill="#21A088"/>
<rect x="504.4" y="771.4" width="23.2" height="26.3" fill="#2AAF80"/>
<rect x="526.7" y="771.4" width="23.2" height="26.3" fill="#44BE71"/>
<rect x="548.9" y="771.4" width="23.2" height="26.3" fill="#2AAF80"/>
<rect x="571.1" y="771.4" width="23.2" height="26.3" fill="#44BE71"/>
<rect x="593.4" y="771.4" width="23.2" height="26.3" fill="#64CB5E"/>
<rect x="615.6" y="771.4" width="23.2" height="26.3" fill="#AEDC2F"/>
<rect x="637.9" y="771.4" width="23.2" height="26.3" fill="#AEDC2F"/>
<rect x="660.1" y="771.4" width="23.2" height="26.3" fill="#2AAF80"/>
<rect x="682.3" y="771.4" width="23.2" height="26.3" fill="#64CB5E"/>
<rect x="704.6" y="771.4" width="23.2" height="26.3" fill="#2AAF80"/>
<rect x="726.8" y="771.4" width="23.2" height="26.3" fill="#AEDC2F"/>
<rect x="749.1" y="771.4" width="23.2" height="26.3" fill="#64CB5E"/>
<rect x="771.3" y="771.4" width="23.2" height="26.3" fill="#64CB5E"/>
<rect x="793.5" y="771.4" width="23.2" height="26.3" fill="#E3E324"/>
<rect x="815.8" y="771.4" width="23.2" height="26.3" fill="#E3E324"/>
<rect x="838.0" y="771.4" width="23.2" height="26.3" fill="#E3E324"/>
<rect x="860.3" y="771.4" width="23.2" height="26.3" fill="#E3E324"/>
<rect x="882.5" y="771.4" width="23.2" height="26.3" fill="#E3E324"/>
<rect x="170.8" y="796.7" width="23.2" height="26.3" fill="#64CB5E"/>
<rect x="193.1" y="796.7" width="23.2" height="26.3" fill="#C9E023"/>
<rect x="215.3" y="796.7" width="23.2" height="26.3" fill="#21A088"/>
<rect x="237.5" y="796.7" width="23.2" height="26.3" fill="#2D6F8E"/>
<rect x="259.8" y="796.7" width="23.2" height="26.3" fill="#375C8C"/>
<rect x="282.0" y="796.7" width="23.2" height="26.3" fill="#375C8C"/>
<rect x="304.3" y="796.7" width="23.2" height="26.3" fill="#21A088"/>
<rect x="326.5" y="796.7" width="23.2" height="26.3" fill="#64CB5E"/>
<rect x="348.7" y="796.7" width="23.2" height="26.3" fill="#44BE71"/>
<rect x="371.0" y="796.7" width="23.2" height="26.3" fill="#2AAF80"/>
<rect x="393.2" y="796.7" width="23.2" height="26.3" fill="#2AAF80"/>
<rect x="415.5" y="796.7" width="23.2" height="26.3" fill="#21A088"/>
<rect x="437.7" y="796.7" width="23.2" height="26.3" fill="#22908C"/>
<rect x="459.9" y="796.7" width="23.2" height="26.3" fill="#21A088"/>
<rect x="482.2" y="796.7" width="23.2" height="26.3" fill="#44BE71"/>
<rect x="504.4" y="796.7" width="23.2" height="26.3" fill="#2AAF80"/>
<rect x="526.7" y="796.7" width="23.2" height="26.3" fill="#44BE71"/>
<rect x="548.9" y="796.7" width="23.2" height="26.3" fill="#2AAF80"/>
<rect x="571.1" y="796.7" width="23.2" height="26.3" fill="#64CB5E"/>
<rect x="593.4" y="796.7" width="23.2" height="26.3" fill="#AEDC2F"/>
<rect x="615.6" y="796.7" width="23.2" height="26.3" fill="#AEDC2F"/>
<rect x="637.9" y="796.7" width="23.2" height="26.3" fill="#2AAF80"/>
<rect x="660.1" y="796.7" width="23.2" height="26.3" fill="#2AAF80"/>
<rect x="682.3" y="796.7" width="23.2" height="26.3" fill="#2AAF80"/>
<rect x="704.6" y="796.7" width="23.2" height="26.3" fill="#22908C"/>
<rect x="726.8" y="796.7" width="23.2" height="26.3" fill="#22908C"/>
<rect x="749.1" y="796.7" width="23.2" height="26.3" fill="#2D6F8E"/>
<rect x="771.3" y="796.7" width="23.2" height="26.3" fill="#AEDC2F"/>
<rect x="793.5" y="796.7" width="23.2" height="26.3" fill="#E3E324"/>
<rect x="815.8" y="796.7" width="23.2" height="26.3" fill="#E3E324"/>
<rect x="838.0" y="796.7" width="23.2" height="26.3" fill="#E3E324"/>
<rect x="860.3" y="796.7" width="23.2" height="26.3" fill="#E3E324"/>
<rect x="882.5" y="796.7" width="23.2" height="26.3" fill="#E3E324"/>
<rect x="170.8" y="822.0" width="23.2" height="26.3" fill="#C9E023"/>
<rect x="193.1" y="822.0" width="23.2" height="26.3" fill="#86D549"/>
<rect x="215.3" y="822.0" width="23.2" height="26.3" fill="#C9E023"/>
<rect x="237.5" y="822.0" width="23.2" height="26.3" fill="#44BE71"/>
<rect x="259.8" y="822.0" width="23.2" height="26.3" fill="#21A088"/>
<rect x="282.0" y="822.0" width="23.2" height="26.3" fill="#22908C"/>
<rect x="304.3" y="822.0" width="23.2" height="26.3" fill="#22908C"/>
<rect x="326.5" y="822.0" width="23.2" height="26.3" fill="#44BE71"/>
<rect x="348.7" y="822.0" width="23.2" height="26.3" fill="#44BE71"/>
<rect x="371.0" y="822.0" width="23.2" height="26.3" fill="#2AAF80"/>
<rect x="393.2" y="822.0" width="23.2" height="26.3" fill="#2AAF80"/>
<rect x="415.5" y="822.0" width="23.2" height="26.3" fill="#2AAF80"/>
<rect x="437.7" y="822.0" width="23.2" height="26.3" fill="#21A088"/>
<rect x="459.9" y="822.0" width="23.2" height="26.3" fill="#86D549"/>
<rect x="482.2" y="822.0" width="23.2" height="26.3" fill="#64CB5E"/>
<rect x="504.4" y="822.0" width="23.2" height="26.3" fill="#64CB5E"/>
<rect x="526.7" y="822.0" width="23.2" height="26.3" fill="#64CB5E"/>
<rect x="548.9" y="822.0" width="23.2" height="26.3" fill="#44BE71"/>
<rect x="571.1" y="822.0" width="23.2" height="26.3" fill="#44BE71"/>
<rect x="593.4" y="822.0" width="23.2" height="26.3" fill="#AEDC2F"/>
<rect x="615.6" y="822.0" width="23.2" height="26.3" fill="#64CB5E"/>
<rect x="637.9" y="822.0" width="23.2" height="26.3" fill="#2AAF80"/>
<rect x="660.1" y="822.0" width="23.2" height="26.3" fill="#2AAF80"/>
<rect x="682.3" y="822.0" width="23.2" height="26.3" fill="#2AAF80"/>
<rect x="704.6" y="822.0" width="23.2" height="26.3" fill="#22908C"/>
<rect x="726.8" y="822.0" width="23.2" height="26.3" fill="#22908C"/>
<rect x="749.1" y="822.0" width="23.2" height="26.3" fill="#2AAF80"/>
<rect x="771.3" y="822.0" width="23.2" height="26.3" fill="#E3E324"/>
<rect x="793.5" y="822.0" width="23.2" height="26.3" fill="#D2E124"/>
<rect x="815.8" y="822.0" width="23.2" height="26.3" fill="#E3E324"/>
<rect x="838.0" y="822.0" width="23.2" height="26.3" fill="#E3E324"/>
<rect x="860.3" y="822.0" width="23.2" height="26.3" fill="#E3E324"/>
<rect x="882.5" y="822.0" width="23.2" height="26.3" fill="#E3E324"/>
<rect x="170.8" y="847.3" width="23.2" height="26.3" fill="#C3DF23"/>
<rect x="193.1" y="847.3" width="23.2" height="26.3" fill="#C9E023"/>
<rect x="215.3" y="847.3" width="23.2" height="26.3" fill="#BCDE27"/>
<rect x="237.5" y="847.3" width="23.2" height="26.3" fill="#E3E324"/>
<rect x="259.8" y="847.3" width="23.2" height="26.3" fill="#AEDC2F"/>
<rect x="282.0" y="847.3" width="23.2" height="26.3" fill="#44BE71"/>
<rect x="304.3" y="847.3" width="23.2" height="26.3" fill="#21A088"/>
<rect x="326.5" y="847.3" width="23.2" height="26.3" fill="#64CB5E"/>
<rect x="348.7" y="847.3" width="23.2" height="26.3" fill="#2AAF80"/>
<rect x="371.0" y="847.3" width="23.2" height="26.3" fill="#44BE71"/>
<rect x="393.2" y="847.3" width="23.2" height="26.3" fill="#64CB5E"/>
<rect x="415.5" y="847.3" width="23.2" height="26.3" fill="#2AAF80"/>
<rect x="437.7" y="847.3" width="23.2" height="26.3" fill="#44BE71"/>
<rect x="459.9" y="847.3" width="23.2" height="26.3" fill="#2AAF80"/>
<rect x="482.2" y="847.3" width="23.2" height="26.3" fill="#2AAF80"/>
<rect x="504.4" y="847.3" width="23.2" height="26.3" fill="#64CB5E"/>
<rect x="526.7" y="847.3" width="23.2" height="26.3" fill="#64CB5E"/>
<rect x="548.9" y="847.3" width="23.2" height="26.3" fill="#2AAF80"/>
<rect x="571.1" y="847.3" width="23.2" height="26.3" fill="#2AAF80"/>
<rect x="593.4" y="847.3" width="23.2" height="26.3" fill="#2AAF80"/>
<rect x="615.6" y="847.3" width="23.2" height="26.3" fill="#22908C"/>
<rect x="637.9" y="847.3" width="23.2" height="26.3" fill="#22908C"/>
<rect x="660.1" y="847.3" width="23.2" height="26.3" fill="#22908C"/>
<rect x="682.3" y="847.3" width="23.2" height="26.3" fill="#22908C"/>
<rect x="704.6" y="847.3" width="23.2" height="26.3" fill="#22908C"/>
<rect x="726.8" y="847.3" width="23.2" height="26.3" fill="#22908C"/>
<rect x="749.1" y="847.3" width="23.2" height="26.3" fill="#E3E324"/>
<rect x="771.3" y="847.3" width="23.2" height="26.3" fill="#AEDC2F"/>
<rect x="793.5" y="847.3" width="23.2" height="26.3" fill="#E3E324"/>
<rect x="815.8" y="847.3" width="23.2" height="26.3" fill="#DDE324"/>
<rect x="838.0" y="847.3" width="23.2" height="26.3" fill="#E3E324"/>
<rect x="860.3" y="847.3" width="23.2" height="26.3" fill="#E3E324"/>
<rect x="882.5" y="847.3" width="23.2" height="26.3" fill="#E3E324"/>
<rect x="170.8" y="872.6" width="23.2" height="26.3" fill="#DAE224"/>
<rect x="193.1" y="872.6" width="23.2" height="26.3" fill="#E3E324"/>
<rect x="215.3" y="872.6" width="23.2" height="26.3" fill="#E3E324"/>
<rect x="237.5" y="872.6" width="23.2" height="26.3" fill="#E3E324"/>
<rect x="259.8" y="872.6" width="23.2" height="26.3" fill="#C9E023"/>
<rect x="282.0" y="872.6" width="23.2" height="26.3" fill="#64CB5E"/>
<rect x="304.3" y="872.6" width="23.2" height="26.3" fill="#277F8E"/>
<rect x="326.5" y="872.6" width="23.2" height="26.3" fill="#21A088"/>
<rect x="348.7" y="872.6" width="23.2" height="26.3" fill="#64CB5E"/>
<rect x="371.0" y="872.6" width="23.2" height="26.3" fill="#2AAF80"/>
<rect x="393.2" y="872.6" width="23.2" height="26.3" fill="#21A088"/>
<rect x="415.5" y="872.6" width="23.2" height="26.3" fill="#22908C"/>
<rect x="437.7" y="872.6" width="23.2" height="26.3" fill="#22908C"/>
<rect x="459.9" y="872.6" width="23.2" height="26.3" fill="#21A088"/>
<rect x="482.2" y="872.6" width="23.2" height="26.3" fill="#21A088"/>
<rect x="504.4" y="872.6" width="23.2" height="26.3" fill="#2AAF80"/>
<rect x="526.7" y="872.6" width="23.2" height="26.3" fill="#2AAF80"/>
<rect x="548.9" y="872.6" width="23.2" height="26.3" fill="#2AAF80"/>
<rect x="571.1" y="872.6" width="23.2" height="26.3" fill="#2AAF80"/>
<rect x="593.4" y="872.6" width="23.2" height="26.3" fill="#64CB5E"/>
<rect x="615.6" y="872.6" width="23.2" height="26.3" fill="#64CB5E"/>
<rect x="637.9" y="872.6" width="23.2" height="26.3" fill="#22908C"/>
<rect x="660.1" y="872.6" width="23.2" height="26.3" fill="#22908C"/>
<rect x="682.3" y="872.6" width="23.2" height="26.3" fill="#22908C"/>
<rect x="704.6" y="872.6" width="23.2" height="26.3" fill="#64CB5E"/>
<rect x="726.8" y="872.6" width="23.2" height="26.3" fill="#E3E324"/>
<rect x="749.1" y="872.6" width="23.2" height="26.3" fill="#94D741"/>
<rect x="771.3" y="872.6" width="23.2" height="26.3" fill="#E3E324"/>
<rect x="793.5" y="872.6" width="23.2" height="26.3" fill="#D2E124"/>
<rect x="815.8" y="872.6" width="23.2" height="26.3" fill="#E3E324"/>
<rect x="838.0" y="872.6" width="23.2" height="26.3" fill="#E1E324"/>
<rect x="860.3" y="872.6" width="23.2" height="26.3" fill="#E3E324"/>
<rect x="882.5" y="872.6" width="23.2" height="26.3" fill="#E3E324"/>
<rect x="170.8" y="897.9" width="23.2" height="26.3" fill="#E3E324"/>
<rect x="193.1" y="897.9" width="23.2" height="26.3" fill="#E3E324"/>
<rect x="215.3" y="897.9" width="23.2" height="26.3" fill="#E3E324"/>
<rect x="237.5" y="897.9" width="23.2" height="26.3" fill="#E3E324"/>
<rect x="259.8" y="897.9" width="23.2" height="26.3" fill="#AEDC2F"/>
<rect x="282.0" y="897.9" width="23.2" height="26.3" fill="#64CB5E"/>
<rect x="304.3" y="897.9" width="23.2" height="26.3" fill="#22908C"/>
<rect x="326.5" y="897.9" width="23.2" height="26.3" fill="#375C8C"/>
<rect x="348.7" y="897.9" width="23.2" height="26.3" fill="#22908C"/>
<rect x="371.0" y="897.9" width="23.2" height="26.3" fill="#277F8E"/>
<rect x="393.2" y="897.9" width="23.2" height="26.3" fill="#21A088"/>
<rect x="415.5" y="897.9" width="23.2" height="26.3" fill="#22908C"/>
<rect x="437.7" y="897.9" width="23.2" height="26.3" fill="#21A088"/>
<rect x="459.9" y="897.9" width="23.2" height="26.3" fill="#21A088"/>
<rect x="482.2" y="897.9" width="23.2" height="26.3" fill="#2AAF80"/>
<rect x="504.4" y="897.9" width="23.2" height="26.3" fill="#21A088"/>
<rect x="526.7" y="897.9" width="23.2" height="26.3" fill="#22908C"/>
<rect x="548.9" y="897.9" width="23.2" height="26.3" fill="#21A088"/>
<rect x="571.1" y="897.9" width="23.2" height="26.3" fill="#21A088"/>
<rect x="593.4" y="897.9" width="23.2" height="26.3" fill="#22908C"/>
<rect x="615.6" y="897.9" width="23.2" height="26.3" fill="#22908C"/>
<rect x="637.9" y="897.9" width="23.2" height="26.3" fill="#2AAF80"/>
<rect x="660.1" y="897.9" width="23.2" height="26.3" fill="#64CB5E"/>
<rect x="682.3" y="897.9" width="23.2" height="26.3" fill="#E3E324"/>
<rect x="704.6" y="897.9" width="23.2" height="26.3" fill="#86D549"/>
<rect x="726.8" y="897.9" width="23.2" height="26.3" fill="#AEDC2F"/>
<rect x="749.1" y="897.9" width="23.2" height="26.3" fill="#E3E324"/>
<rect x="771.3" y="897.9" width="23.2" height="26.3" fill="#CCE023"/>
<rect x="793.5" y="897.9" width="23.2" height="26.3" fill="#E3E324"/>
<rect x="815.8" y="897.9" width="23.2" height="26.3" fill="#DDE324"/>
<rect x="838.0" y="897.9" width="23.2" height="26.3" fill="#E3E324"/>
<rect x="860.3" y="897.9" width="23.2" height="26.3" fill="#E2E324"/>
<rect x="882.5" y="897.9" width="23.2" height="26.3" fill="#E3E324"/>
<rect x="170.8" y="923.2" width="23.2" height="26.3" fill="#E3E324"/>
<rect x="193.1" y="923.2" width="23.2" height="26.3" fill="#E3E324"/>
<rect x="215.3" y="923.2" width="23.2" height="26.3" fill="#E3E324"/>
<rect x="237.5" y="923.2" width="23.2" height="26.3" fill="#86D549"/>
<rect x="259.8" y="923.2" width="23.2" height="26.3" fill="#64CB5E"/>
<rect x="282.0" y="923.2" width="23.2" height="26.3" fill="#86D549"/>
<rect x="304.3" y="923.2" width="23.2" height="26.3" fill="#2AAF80"/>
<rect x="326.5" y="923.2" width="23.2" height="26.3" fill="#277F8E"/>
<rect x="348.7" y="923.2" width="23.2" height="26.3" fill="#22908C"/>
<rect x="371.0" y="923.2" width="23.2" height="26.3" fill="#2D6F8E"/>
<rect x="393.2" y="923.2" width="23.2" height="26.3" fill="#277F8E"/>
<rect x="415.5" y="923.2" width="23.2" height="26.3" fill="#21A088"/>
<rect x="437.7" y="923.2" width="23.2" height="26.3" fill="#2AAF80"/>
<rect x="459.9" y="923.2" width="23.2" height="26.3" fill="#2AAF80"/>
<rect x="482.2" y="923.2" width="23.2" height="26.3" fill="#22908C"/>
<rect x="504.4" y="923.2" width="23.2" height="26.3" fill="#22908C"/>
<rect x="526.7" y="923.2" width="23.2" height="26.3" fill="#22908C"/>
<rect x="548.9" y="923.2" width="23.2" height="26.3" fill="#2AAF80"/>
<rect x="571.1" y="923.2" width="23.2" height="26.3" fill="#21A088"/>
<rect x="593.4" y="923.2" width="23.2" height="26.3" fill="#22908C"/>
<rect x="615.6" y="923.2" width="23.2" height="26.3" fill="#22908C"/>
<rect x="637.9" y="923.2" width="23.2" height="26.3" fill="#2AAF80"/>
<rect x="660.1" y="923.2" width="23.2" height="26.3" fill="#E3E324"/>
<rect x="682.3" y="923.2" width="23.2" height="26.3" fill="#C0DF24"/>
<rect x="704.6" y="923.2" width="23.2" height="26.3" fill="#E3E324"/>
<rect x="726.8" y="923.2" width="23.2" height="26.3" fill="#C3DF23"/>
<rect x="749.1" y="923.2" width="23.2" height="26.3" fill="#C9E023"/>
<rect x="771.3" y="923.2" width="23.2" height="26.3" fill="#E3E324"/>
<rect x="793.5" y="923.2" width="23.2" height="26.3" fill="#DBE224"/>
<rect x="815.8" y="923.2" width="23.2" height="26.3" fill="#E3E324"/>
<rect x="838.0" y="923.2" width="23.2" height="26.3" fill="#E1E324"/>
<rect x="860.3" y="923.2" width="23.2" height="26.3" fill="#E3E324"/>
<rect x="882.5" y="923.2" width="23.2" height="26.3" fill="#E3E324"/>
<rect x="170.8" y="948.5" width="23.2" height="26.3" fill="#E3E324"/>
<rect x="193.1" y="948.5" width="23.2" height="26.3" fill="#E3E324"/>
<rect x="215.3" y="948.5" width="23.2" height="26.3" fill="#D0E123"/>
<rect x="237.5" y="948.5" width="23.2" height="26.3" fill="#E3E324"/>
<rect x="259.8" y="948.5" width="23.2" height="26.3" fill="#C9E023"/>
<rect x="282.0" y="948.5" width="23.2" height="26.3" fill="#AEDC2F"/>
<rect x="304.3" y="948.5" width="23.2" height="26.3" fill="#86D549"/>
<rect x="326.5" y="948.5" width="23.2" height="26.3" fill="#64CB5E"/>
<rect x="348.7" y="948.5" width="23.2" height="26.3" fill="#44BE71"/>
<rect x="371.0" y="948.5" width="23.2" height="26.3" fill="#64CB5E"/>
<rect x="393.2" y="948.5" width="23.2" height="26.3" fill="#64CB5E"/>
<rect x="415.5" y="948.5" width="23.2" height="26.3" fill="#86D549"/>
<rect x="437.7" y="948.5" width="23.2" height="26.3" fill="#44BE71"/>
<rect x="459.9" y="948.5" width="23.2" height="26.3" fill="#21A088"/>
<rect x="482.2" y="948.5" width="23.2" height="26.3" fill="#21A088"/>
<rect x="504.4" y="948.5" width="23.2" height="26.3" fill="#22908C"/>
<rect x="526.7" y="948.5" width="23.2" height="26.3" fill="#22908C"/>
<rect x="548.9" y="948.5" width="23.2" height="26.3" fill="#44BE71"/>
<rect x="571.1" y="948.5" width="23.2" height="26.3" fill="#64CB5E"/>
<rect x="593.4" y="948.5" width="23.2" height="26.3" fill="#2AAF80"/>
<rect x="615.6" y="948.5" width="23.2" height="26.3" fill="#AEDC2F"/>
<rect x="637.9" y="948.5" width="23.2" height="26.3" fill="#E3E324"/>
<rect x="660.1" y="948.5" width="23.2" height="26.3" fill="#AEDC2F"/>
<rect x="682.3" y="948.5" width="23.2" height="26.3" fill="#E3E324"/>
<rect x="704.6" y="948.5" width="23.2" height="26.3" fill="#D8E224"/>
<rect x="726.8" y="948.5" width="23.2" height="26.3" fill="#E3E324"/>
<rect x="749.1" y="948.5" width="23.2" height="26.3" fill="#D4E224"/>
<rect x="771.3" y="948.5" width="23.2" height="26.3" fill="#D6E224"/>
<rect x="793.5" y="948.5" width="23.2" height="26.3" fill="#E3E324"/>
<rect x="815.8" y="948.5" width="23.2" height="26.3" fill="#E0E324"/>
<rect x="838.0" y="948.5" width="23.2" height="26.3" fill="#E3E324"/>
<rect x="860.3" y="948.5" width="23.2" height="26.3" fill="#E2E324"/>
<rect x="882.5" y="948.5" width="23.2" height="26.3" fill="#E3E324"/>
<rect x="170.8" y="973.8" width="23.2" height="26.3" fill="#E3E324"/>
<rect x="193.1" y="973.8" width="23.2" height="26.3" fill="#DEE324"/>
<rect x="215.3" y="973.8" width="23.2" height="26.3" fill="#E3E324"/>
<rect x="237.5" y="973.8" width="23.2" height="26.3" fill="#E3E324"/>
<rect x="259.8" y="973.8" width="23.2" height="26.3" fill="#E3E324"/>
<rect x="282.0" y="973.8" width="23.2" height="26.3" fill="#E3E324"/>
<rect x="304.3" y="973.8" width="23.2" height="26.3" fill="#86D549"/>
<rect x="326.5" y="973.8" width="23.2" height="26.3" fill="#AEDC2F"/>
<rect x="348.7" y="973.8" width="23.2" height="26.3" fill="#E3E324"/>
<rect x="371.0" y="973.8" width="23.2" height="26.3" fill="#E3E324"/>
<rect x="393.2" y="973.8" width="23.2" height="26.3" fill="#E3E324"/>
<rect x="415.5" y="973.8" width="23.2" height="26.3" fill="#E3E324"/>
<rect x="437.7" y="973.8" width="23.2" height="26.3" fill="#6CCD59"/>
<rect x="459.9" y="973.8" width="23.2" height="26.3" fill="#27AA82"/>
<rect x="482.2" y="973.8" width="23.2" height="26.3" fill="#1E9A8A"/>
<rect x="504.4" y="973.8" width="23.2" height="26.3" fill="#2FB27D"/>
<rect x="526.7" y="973.8" width="23.2" height="26.3" fill="#E3E324"/>
<rect x="548.9" y="973.8" width="23.2" height="26.3" fill="#E3E324"/>
<rect x="571.1" y="973.8" width="23.2" height="26.3" fill="#E3E324"/>
<rect x="593.4" y="973.8" width="23.2" height="26.3" fill="#86D549"/>
<rect x="615.6" y="973.8" width="23.2" height="26.3" fill="#94D741"/>
<rect x="637.9" y="973.8" width="23.2" height="26.3" fill="#C9E023"/>
<rect x="660.1" y="973.8" width="23.2" height="26.3" fill="#E3E324"/>
<rect x="682.3" y="973.8" width="23.2" height="26.3" fill="#D2E124"/>
<rect x="704.6" y="973.8" width="23.2" height="26.3" fill="#E3E324"/>
<rect x="726.8" y="973.8" width="23.2" height="26.3" fill="#DFE324"/>
<rect x="749.1" y="973.8" width="23.2" height="26.3" fill="#E3E324"/>
<rect x="771.3" y="973.8" width="23.2" height="26.3" fill="#DCE324"/>
<rect x="793.5" y="973.8" width="23.2" height="26.3" fill="#DDE324"/>
<rect x="815.8" y="973.8" width="23.2" height="26.3" fill="#E3E324"/>
<rect x="838.0" y="973.8" width="23.2" height="26.3" fill="#E2E324"/>
<rect x="860.3" y="973.8" width="23.2" height="26.3" fill="#E3E324"/>
<rect x="882.5" y="973.8" width="23.2" height="26.3" fill="#E3E324"/>
<rect x="170.8" y="999.1" width="23.2" height="26.3" fill="#E1E324"/>
<rect x="193.1" y="999.1" width="23.2" height="26.3" fill="#E3E324"/>
<rect x="215.3" y="999.1" width="23.2" height="26.3" fill="#E3E324"/>
<rect x="237.5" y="999.1" width="23.2" height="26.3" fill="#E3E324"/>
<rect x="259.8" y="999.1" width="23.2" height="26.3" fill="#E3E324"/>
<rect x="282.0" y="999.1" width="23.2" height="26.3" fill="#E3E324"/>
<rect x="304.3" y="999.1" width="23.2" height="26.3" fill="#AEDC2F"/>
<rect x="326.5" y="999.1" width="23.2" height="26.3" fill="#E3E324"/>
<rect x="348.7" y="999.1" width="23.2" height="26.3" fill="#D6E224"/>
<rect x="371.0" y="999.1" width="23.2" height="26.3" fill="#E3E324"/>
<rect x="393.2" y="999.1" width="23.2" height="26.3" fill="#E3E324"/>
<rect x="415.5" y="999.1" width="23.2" height="26.3" fill="#E3E324"/>
<rect x="437.7" y="999.1" width="23.2" height="26.3" fill="#E3E324"/>
<rect x="459.9" y="999.1" width="23.2" height="26.3" fill="#57C767"/>
<rect x="482.2" y="999.1" width="23.2" height="26.3" fill="#47C06F"/>
<rect x="504.4" y="999.1" width="23.2" height="26.3" fill="#E3E324"/>
<rect x="526.7" y="999.1" width="23.2" height="26.3" fill="#E3E324"/>
<rect x="548.9" y="999.1" width="23.2" height="26.3" fill="#E3E324"/>
<rect x="571.1" y="999.1" width="23.2" height="26.3" fill="#E3E324"/>
<rect x="593.4" y="999.1" width="23.2" height="26.3" fill="#E3E324"/>
<rect x="615.6" y="999.1" width="23.2" height="26.3" fill="#B7DD2A"/>
<rect x="637.9" y="999.1" width="23.2" height="26.3" fill="#C3DF23"/>
<rect x="660.1" y="999.1" width="23.2" height="26.3" fill="#D6E224"/>
<rect x="682.3" y="999.1" width="23.2" height="26.3" fill="#E3E324"/>
<rect x="704.6" y="999.1" width="23.2" height="26.3" fill="#DDE324"/>
<rect x="726.8" y="999.1" width="23.2" height="26.3" fill="#E3E324"/>
<rect x="749.1" y="999.1" width="23.2" height="26.3" fill="#E2E324"/>
<rect x="771.3" y="999.1" width="23.2" height="26.3" fill="#E3E324"/>
<rect x="793.5" y="999.1" width="23.2" height="26.3" fill="#E0E324"/>
<rect x="815.8" y="999.1" width="23.2" height="26.3" fill="#E0E324"/>
<rect x="838.0" y="999.1" width="23.2" height="26.3" fill="#E3E324"/>
<rect x="860.3" y="999.1" width="23.2" height="26.3" fill="#E3E324"/>
<rect x="882.5" y="999.1" width="23.2" height="26.3" fill="#E3E324"/>
</g>
<polyline points="901.7,611.8 901.7,628.5 897.9,629.0 897.9,636.9 894.2,637.4 894.2,649.5 890.9,650.0 890.9,670.5 887.2,670.9 887.2,683.1 883.5,683.5 883.5,695.6 879.8,696.1 879.8,704.0 871.8,704.5 866.4,711.6 849.0,723.2 834.5,742.0 820.0,769.6 808.4,787.0 801.2,800.0 786.7,823.2 772.2,839.1 753.3,856.5 738.8,872.5 727.2,884.1 715.7,895.7 701.2,908.7 689.6,920.3 675.1,930.4 656.2,943.5 646.1,952.2 634.5,956.5 627.3,957.6 619.5,957.6 619.5,961.5 605.5,961.5 605.5,965.4 586.9,965.4 583.0,970.1 583.0,978.6 564.4,978.6 564.4,974.7 549.6,974.7 545.7,978.6 545.7,987.1 527.1,987.1 527.1,983.3 516.2,982.5 516.2,978.6 493.7,978.6 493.7,974.7 482.9,974.7 482.9,977.8 479.0,978.6 479.0,982.5 468.1,982.5 468.1,978.6 423.9,978.6 423.9,982.5 416.1,987.1 412.2,991.0 412.2,994.9 389.7,995.7 389.7,999.6 378.8,999.6 378.8,995.7 368.0,995.7 368.0,999.6 349.3,999.6 345.4,1003.4 345.4,1007.3 337.8,1011.7 331.0,1012.4 331.0,1016.1 308.6,1016.1 308.6,1012.4 304.9,1011.7 304.9,1008.0 294.3,1007.4 294.3,1003.7 286.3,999.9 286.3,995.6 271.4,995.0 271.4,978.8 264.5,981.9 260.2,982.5 260.2,995.0 257.1,995.0 257.1,991.2 253.4,990.6 253.4,983.2 249.6,982.5 249.6,974.5 253.4,973.9 253.4,962.0 257.1,961.4 257.1,957.7 253.4,957.1 253.4,954.0 249.6,953.4 249.6,945.3 242.2,944.7 242.2,940.3 238.4,936.0 234.7,931.6 231.0,927.9 231.0,907.4 242.2,907.4 242.2,911.1 245.9,907.4 249.6,907.4 249.6,898.7 252.7,898.1 252.7,895.0 249.6,894.3 249.6,865.2 245.9,864.5 242.2,856.5 238.4,852.1 234.7,847.8 231.0,843.4 227.3,834.7 223.5,831.0 219.8,822.3 216.1,817.3 212.4,809.9 208.6,801.2 204.9,796.2 204.7,784.5 201.0,784.0 201.0,776.1 197.3,775.6 197.3,763.5 194.0,763.1 194.0,751.0 190.3,750.5 190.3,742.6 186.6,742.1 186.6,730.0 182.8,729.5 182.8,725.8 179.1,725.3 179.1,717.4 175.4,716.9 175.4,713.2 171.6,712.7 171.6,704.8 167.9,704.3 167.9,696.0 175.4,696.0 175.4,692.2 182.8,691.8 182.8,679.2 186.6,678.7 186.6,670.8 201.0,670.8 201.0,675.0 204.7,675.0 204.7,678.7 212.2,679.2 212.2,696.0 215.9,696.4 215.9,704.3 227.1,704.8 227.1,708.5 242.0,709.0 242.0,713.2 286.3,713.2 286.3,716.9 290.5,716.9 290.5,709.0 294.2,708.5 294.2,704.8 301.2,704.3 301.2,700.6 304.9,700.1 304.9,696.4 312.4,696.0 312.4,692.2 323.6,691.8" fill="none" stroke="#F4E52A" stroke-width="14" stroke-linejoin="round" filter="url(#bl2)"/>
<rect x="160" y="360" width="750" height="670" fill="#EBEBEB" fill-opacity="0.12"/>
</g></g>
</g>
<g transform="translate(830,0)">
<rect x="131" y="270" width="807" height="69" fill="#D9D9D9"/>
<text x="534.5" y="316.8" text-anchor="middle" font-family="DejaVu Sans" font-size="36.67" fill="#1A1A1A">lb</text>
<rect x="131" y="339" width="807" height="710" fill="#EBEBEB"/>
<rect x="324.78" y="339" width="4.44" height="710" fill="#FFFFFF"/>
<rect x="547.18" y="339" width="4.44" height="710" fill="#FFFFFF"/>
<rect x="769.58" y="339" width="4.44" height="710" fill="#FFFFFF"/>
<rect x="131" y="364.98" width="807" height="4.44" fill="#FFFFFF"/>
<rect x="131" y="466.16" width="807" height="4.44" fill="#FFFFFF"/>
<rect x="131" y="567.34" width="807" height="4.44" fill="#FFFFFF"/>
<rect x="131" y="668.52" width="807" height="4.44" fill="#FFFFFF"/>
<rect x="131" y="769.70" width="807" height="4.44" fill="#FFFFFF"/>
<rect x="131" y="870.88" width="807" height="4.44" fill="#FFFFFF"/>
<rect x="131" y="972.06" width="807" height="4.44" fill="#FFFFFF"/>
<g clip-path="url(#sa)"><g>
<g filter="url(#bl)">
<rect x="170.8" y="366.7" width="23.2" height="26.3" fill="#440255"/>
<rect x="193.1" y="366.7" width="23.2" height="26.3" fill="#440154"/>
<rect x="215.3" y="366.7" width="23.2" height="26.3" fill="#440154"/>
<rect x="237.5" y="366.7" width="23.2" height="26.3" fill="#440154"/>
<rect x="259.8" y="366.7" width="23.2" height="26.3" fill="#440154"/>
<rect x="282.0" y="366.7" width="23.2" height="26.3" fill="#440154"/>
<rect x="304.3" y="366.7" width="23.2" height="26.3" fill="#440154"/>
<rect x="326.5" y="366.7" width="23.2" height="26.3" fill="#440154"/>
<rect x="348.7" y="366.7" width="23.2" height="26.3" fill="#440154"/>
<rect x="371.0" y="366.7" width="23.2" height="26.3" fill="#440154"/>
<rect x="393.2" y="366.7" width="23.2" height="26.3" fill="#440154"/>
<rect x="415.5" y="366.7" width="23.2" height="26.3" fill="#440154"/>
<rect x="437.7" y="366.7" width="23.2" height="26.3" fill="#440154"/>
<rect x="459.9" y="366.7" width="23.2" height="26.3" fill="#482173"/>
<rect x="482.2" y="366.7" width="23.2" height="26.3" fill="#404687"/>
<rect x="504.4" y="366.7" width="23.2" height="26.3" fill="#404687"/>
<rect x="526.7" y="366.7" width="23.2" height="26.3" fill="#375B8C"/>
<rect x="548.9" y="366.7" width="23.2" height="26.3" fill="#2D6F8E"/>
<rect x="571.1" y="366.7" width="23.2" height="26.3" fill="#375B8C"/>
<rect x="593.4" y="366.7" width="23.2" height="26.3" fill="#404687"/>
<rect x="615.6" y="366.7" width="23.2" height="26.3" fill="#433D85"/>
<rect x="637.9" y="366.7" width="23.2" height="26.3" fill="#45317D"/>
<rect x="660.1" y="366.7" width="23.2" height="26.3" fill="#482173"/>
<rect x="682.3" y="366.7" width="23.2" height="26.3" fill="#482173"/>
<rect x="704.6" y="366.7" width="23.2" height="26.3" fill="#482173"/>
<rect x="726.8" y="366.7" width="23.2" height="26.3" fill="#482173"/>
<rect x="749.1" y="366.7" width="23.2" height="26.3" fill="#482173"/>
<rect x="771.3" y="366.7" width="23.2" height="26.3" fill="#482173"/>
<rect x="793.5" y="366.7" width="23.2" height="26.3" fill="#482173"/>
<rect x="815.8" y="366.7" width="23.2" height="26.3" fill="#2D6F8E"/>
<rect x="838.0" y="366.7" width="23.2" height="26.3" fill="#443A83"/>
<rect x="860.3" y="366.7" width="23.2" height="26.3" fill="#482173"/>
<rect x="882.5" y="366.7" width="23.2" height="26.3" fill="#482173"/>
<rect x="170.8" y="392.0" width="23.2" height="26.3" fill="#440255"/>
<rect x="193.1" y="392.0" width="23.2" height="26.3" fill="#440255"/>
<rect x="215.3" y="392.0" width="23.2" height="26.3" fill="#440255"/>
<rect x="237.5" y="392.0" width="23.2" height="26.3" fill="#440154"/>
<rect x="259.8" y="392.0" width="23.2" height="26.3" fill="#440154"/>
<rect x="282.0" y="392.0" width="23.2" height="26.3" fill="#440154"/>
<rect x="304.3" y="392.0" width="23.2" height="26.3" fill="#440154"/>
<rect x="326.5" y="392.0" width="23.2" height="26.3" fill="#440154"/>
<rect x="348.7" y="392.0" width="23.2" height="26.3" fill="#440154"/>
<rect x="371.0" y="392.0" width="23.2" height="26.3" fill="#440154"/>
<rect x="393.2" y="392.0" width="23.2" height="26.3" fill="#440154"/>
<rect x="415.5" y="392.0" width="23.2" height="26.3" fill="#440154"/>
<rect x="437.7" y="392.0" width="23.2" height="26.3" fill="#440154"/>
<rect x="459.9" y="392.0" width="23.2" height="26.3" fill="#47196B"/>
<rect x="482.2" y="392.0" width="23.2" height="26.3" fill="#404687"/>
<rect x="504.4" y="392.0" width="23.2" height="26.3" fill="#404687"/>
<rect x="526.7" y="392.0" width="23.2" height="26.3" fill="#404687"/>
<rect x="548.9" y="392.0" width="23.2" height="26.3" fill="#385A8C"/>
<rect x="571.1" y="392.0" width="23.2" height="26.3" fill="#2D6F8E"/>
<rect x="593.4" y="392.0" width="23.2" height="26.3" fill="#385A8C"/>
<rect x="615.6" y="392.0" width="23.2" height="26.3" fill="#404687"/>
<rect x="637.9" y="392.0" width="23.2" height="26.3" fill="#45347F"/>
<rect x="660.1" y="392.0" width="23.2" height="26.3" fill="#462A79"/>
<rect x="682.3" y="392.0" width="23.2" height="26.3" fill="#482173"/>
<rect x="704.6" y="392.0" width="23.2" height="26.3" fill="#482173"/>
<rect x="726.8" y="392.0" width="23.2" height="26.3" fill="#440154"/>
<rect x="749.1" y="392.0" width="23.2" height="26.3" fill="#482173"/>
<rect x="771.3" y="392.0" width="23.2" height="26.3" fill="#482173"/>
<rect x="793.5" y="392.0" width="23.2" height="26.3" fill="#482173"/>
<rect x="815.8" y="392.0" width="23.2" height="26.3" fill="#482173"/>
<rect x="838.0" y="392.0" width="23.2" height="26.3" fill="#482173"/>
<rect x="860.3" y="392.0" width="23.2" height="26.3" fill="#482173"/>
<rect x="882.5" y="392.0" width="23.2" height="26.3" fill="#472575"/>
<rect x="170.8" y="417.3" width="23.2" height="26.3" fill="#440457"/>
<rect x="193.1" y="417.3" width="23.2" height="26.3" fill="#440356"/>
<rect x="215.3" y="417.3" width="23.2" height="26.3" fill="#440356"/>
<rect x="237.5" y="417.3" width="23.2" height="26.3" fill="#440356"/>
<rect x="259.8" y="417.3" width="23.2" height="26.3" fill="#440154"/>
<rect x="282.0" y="417.3" width="23.2" height="26.3" fill="#440154"/>
<rect x="304.3" y="417.3" width="23.2" height="26.3" fill="#440154"/>
<rect x="326.5" y="417.3" width="23.2" height="26.3" fill="#440154"/>
<rect x="348.7" y="417.3" width="23.2" height="26.3" fill="#440154"/>
<rect x="371.0" y="417.3" width="23.2" height="26.3" fill="#440154"/>
<rect x="393.2" y="417.3" width="23.2" height="26.3" fill="#440154"/>
<rect x="415.5" y="417.3" width="23.2" height="26.3" fill="#440154"/>
<rect x="437.7" y="417.3" width="23.2" height="26.3" fill="#45075A"/>
<rect x="459.9" y="417.3" width="23.2" height="26.3" fill="#460F62"/>
<rect x="482.2" y="417.3" width="23.2" height="26.3" fill="#472575"/>
<rect x="504.4" y="417.3" width="23.2" height="26.3" fill="#404687"/>
<rect x="526.7" y="417.3" width="23.2" height="26.3" fill="#404687"/>
<rect x="548.9" y="417.3" width="23.2" height="26.3" fill="#404687"/>
<rect x="571.1" y="417.3" width="23.2" height="26.3" fill="#3A558B"/>
<rect x="593.4" y="417.3" width="23.2" height="26.3" fill="#2D6F8E"/>
<rect x="615.6" y="417.3" width="23.2" height="26.3" fill="#3A558B"/>
<rect x="637.9" y="417.3" width="23.2" height="26.3" fill="#404687"/>
<rect x="660.1" y="417.3" width="23.2" height="26.3" fill="#482173"/>
<rect x="682.3" y="417.3" width="23.2" height="26.3" fill="#482173"/>
<rect x="704.6" y="417.3" width="23.2" height="26.3" fill="#440154"/>
<rect x="726.8" y="417.3" width="23.2" height="26.3" fill="#482173"/>
<rect x="749.1" y="417.3" width="23.2" height="26.3" fill="#482173"/>
<rect x="771.3" y="417.3" width="23.2" height="26.3" fill="#482173"/>
<rect x="793.5" y="417.3" width="23.2" height="26.3" fill="#440154"/>
<rect x="815.8" y="417.3" width="23.2" height="26.3" fill="#482173"/>
<rect x="838.0" y="417.3" width="23.2" height="26.3" fill="#482173"/>
<rect x="860.3" y="417.3" width="23.2" height="26.3" fill="#462D7B"/>
<rect x="882.5" y="417.3" width="23.2" height="26.3" fill="#45327E"/>
<rect x="170.8" y="442.6" width="23.2" height="26.3" fill="#45075A"/>
<rect x="193.1" y="442.6" width="23.2" height="26.3" fill="#450659"/>
<rect x="215.3" y="442.6" width="23.2" height="26.3" fill="#450658"/>
<rect x="237.5" y="442.6" width="23.2" height="26.3" fill="#440557"/>
<rect x="259.8" y="442.6" width="23.2" height="26.3" fill="#440558"/>
<rect x="282.0" y="442.6" width="23.2" height="26.3" fill="#440154"/>
<rect x="304.3" y="442.6" width="23.2" height="26.3" fill="#440154"/>
<rect x="326.5" y="442.6" width="23.2" height="26.3" fill="#440154"/>
<rect x="348.7" y="442.6" width="23.2" height="26.3" fill="#440154"/>
<rect x="371.0" y="442.6" width="23.2" height="26.3" fill="#440154"/>
<rect x="393.2" y="442.6" width="23.2" height="26.3" fill="#440154"/>
<rect x="415.5" y="442.6" width="23.2" height="26.3" fill="#440356"/>
<rect x="437.7" y="442.6" width="23.2" height="26.3" fill="#45085B"/>
<rect x="459.9" y="442.6" width="23.2" height="26.3" fill="#460F62"/>
<rect x="482.2" y="442.6" width="23.2" height="26.3" fill="#471668"/>
<rect x="504.4" y="442.6" width="23.2" height="26.3" fill="#462B79"/>
<rect x="526.7" y="442.6" width="23.2" height="26.3" fill="#404687"/>
<rect x="548.9" y="442.6" width="23.2" height="26.3" fill="#404687"/>
<rect x="571.1" y="442.6" width="23.2" height="26.3" fill="#404687"/>
<rect x="593.4" y="442.6" width="23.2" height="26.3" fill="#404687"/>
<rect x="615.6" y="442.6" width="23.2" height="26.3" fill="#2D6F8E"/>
<rect x="637.9" y="442.6" width="23.2" height="26.3" fill="#404687"/>
<rect x="660.1" y="442.6" width="23.2" height="26.3" fill="#404687"/>
<rect x="682.3" y="442.6" width="23.2" height="26.3" fill="#404687"/>
<rect x="704.6" y="442.6" width="23.2" height="26.3" fill="#404687"/>
<rect x="726.8" y="442.6" width="23.2" height="26.3" fill="#404687"/>
<rect x="749.1" y="442.6" width="23.2" height="26.3" fill="#482173"/>
<rect x="771.3" y="442.6" width="23.2" height="26.3" fill="#482173"/>
<rect x="793.5" y="442.6" width="23.2" height="26.3" fill="#482173"/>
<rect x="815.8" y="442.6" width="23.2" height="26.3" fill="#404687"/>
<rect x="838.0" y="442.6" width="23.2" height="26.3" fill="#404687"/>
<rect x="860.3" y="442.6" width="23.2" height="26.3" fill="#45347F"/>
<rect x="882.5" y="442.6" width="23.2" height="26.3" fill="#404687"/>
<rect x="170.8" y="467.9" width="23.2" height="26.3" fill="#471D6F"/>
<rect x="193.1" y="467.9" width="23.2" height="26.3" fill="#450B5E"/>
<rect x="215.3" y="467.9" width="23.2" height="26.3" fill="#450A5D"/>
<rect x="237.5" y="467.9" width="23.2" height="26.3" fill="#45095C"/>
<rect x="259.8" y="467.9" width="23.2" height="26.3" fill="#45085B"/>
<rect x="282.0" y="467.9" width="23.2" height="26.3" fill="#45095C"/>
<rect x="304.3" y="467.9" width="23.2" height="26.3" fill="#440154"/>
<rect x="326.5" y="467.9" width="23.2" height="26.3" fill="#440154"/>
<rect x="348.7" y="467.9" width="23.2" height="26.3" fill="#440154"/>
<rect x="371.0" y="467.9" width="23.2" height="26.3" fill="#440154"/>
<rect x="393.2" y="467.9" width="23.2" height="26.3" fill="#440154"/>
<rect x="415.5" y="467.9" width="23.2" height="26.3" fill="#440154"/>
<rect x="437.7" y="467.9" width="23.2" height="26.3" fill="#45095C"/>
<rect x="459.9" y="467.9" width="23.2" height="26.3" fill="#460D60"/>
<rect x="482.2" y="467.9" width="23.2" height="26.3" fill="#47186A"/>
<rect x="504.4" y="467.9" width="23.2" height="26.3" fill="#481D6F"/>
<rect x="526.7" y="467.9" width="23.2" height="26.3" fill="#45347F"/>
<rect x="548.9" y="467.9" width="23.2" height="26.3" fill="#404687"/>
<rect x="571.1" y="467.9" width="23.2" height="26.3" fill="#404687"/>
<rect x="593.4" y="467.9" width="23.2" height="26.3" fill="#404687"/>
<rect x="615.6" y="467.9" width="23.2" height="26.3" fill="#482173"/>
<rect x="637.9" y="467.9" width="23.2" height="26.3" fill="#404687"/>
<rect x="660.1" y="467.9" width="23.2" height="26.3" fill="#2D6F8E"/>
<rect x="682.3" y="467.9" width="23.2" height="26.3" fill="#22908C"/>
<rect x="704.6" y="467.9" width="23.2" height="26.3" fill="#22908C"/>
<rect x="726.8" y="467.9" width="23.2" height="26.3" fill="#404687"/>
<rect x="749.1" y="467.9" width="23.2" height="26.3" fill="#404687"/>
<rect x="771.3" y="467.9" width="23.2" height="26.3" fill="#482173"/>
<rect x="793.5" y="467.9" width="23.2" height="26.3" fill="#482173"/>
<rect x="815.8" y="467.9" width="23.2" height="26.3" fill="#482173"/>
<rect x="838.0" y="467.9" width="23.2" height="26.3" fill="#482173"/>
<rect x="860.3" y="467.9" width="23.2" height="26.3" fill="#404687"/>
<rect x="882.5" y="467.9" width="23.2" height="26.3" fill="#45347F"/>
<rect x="170.8" y="493.2" width="23.2" height="26.3" fill="#404687"/>
<rect x="193.1" y="493.2" width="23.2" height="26.3" fill="#482273"/>
<rect x="215.3" y="493.2" width="23.2" height="26.3" fill="#461265"/>
<rect x="237.5" y="493.2" width="23.2" height="26.3" fill="#461163"/>
<rect x="259.8" y="493.2" width="23.2" height="26.3" fill="#460F62"/>
<rect x="282.0" y="493.2" width="23.2" height="26.3" fill="#460D60"/>
<rect x="304.3" y="493.2" width="23.2" height="26.3" fill="#461163"/>
<rect x="326.5" y="493.2" width="23.2" height="26.3" fill="#440154"/>
<rect x="348.7" y="493.2" width="23.2" height="26.3" fill="#440154"/>
<rect x="371.0" y="493.2" width="23.2" height="26.3" fill="#440154"/>
<rect x="393.2" y="493.2" width="23.2" height="26.3" fill="#440154"/>
<rect x="415.5" y="493.2" width="23.2" height="26.3" fill="#440557"/>
<rect x="437.7" y="493.2" width="23.2" height="26.3" fill="#440154"/>
<rect x="459.9" y="493.2" width="23.2" height="26.3" fill="#461163"/>
<rect x="482.2" y="493.2" width="23.2" height="26.3" fill="#471668"/>
<rect x="504.4" y="493.2" width="23.2" height="26.3" fill="#482173"/>
<rect x="526.7" y="493.2" width="23.2" height="26.3" fill="#482173"/>
<rect x="548.9" y="493.2" width="23.2" height="26.3" fill="#404687"/>
<rect x="571.1" y="493.2" width="23.2" height="26.3" fill="#404687"/>
<rect x="593.4" y="493.2" width="23.2" height="26.3" fill="#404687"/>
<rect x="615.6" y="493.2" width="23.2" height="26.3" fill="#482173"/>
<rect x="637.9" y="493.2" width="23.2" height="26.3" fill="#2D6F8E"/>
<rect x="660.1" y="493.2" width="23.2" height="26.3" fill="#2D6F8E"/>
<rect x="682.3" y="493.2" width="23.2" height="26.3" fill="#2D6F8E"/>
<rect x="704.6" y="493.2" width="23.2" height="26.3" fill="#2D6F8E"/>
<rect x="726.8" y="493.2" width="23.2" height="26.3" fill="#404687"/>
<rect x="749.1" y="493.2" width="23.2" height="26.3" fill="#2D6F8E"/>
<rect x="771.3" y="493.2" width="23.2" height="26.3" fill="#404687"/>
<rect x="793.5" y="493.2" width="23.2" height="26.3" fill="#404687"/>
<rect x="815.8" y="493.2" width="23.2" height="26.3" fill="#404687"/>
<rect x="838.0" y="493.2" width="23.2" height="26.3" fill="#404687"/>
<rect x="860.3" y="493.2" width="23.2" height="26.3" fill="#482173"/>
<rect x="882.5" y="493.2" width="23.2" height="26.3" fill="#33628D"/>
<rect x="170.8" y="518.5" width="23.2" height="26.3" fill="#39578C"/>
<rect x="193.1" y="518.5" width="23.2" height="26.3" fill="#404687"/>
<rect x="215.3" y="518.5" width="23.2" height="26.3" fill="#462A79"/>
<rect x="237.5" y="518.5" width="23.2" height="26.3" fill="#481D70"/>
<rect x="259.8" y="518.5" width="23.2" height="26.3" fill="#471B6D"/>
<rect x="282.0" y="518.5" width="23.2" height="26.3" fill="#47186A"/>
<rect x="304.3" y="518.5" width="23.2" height="26.3" fill="#471668"/>
<rect x="326.5" y="518.5" width="23.2" height="26.3" fill="#482173"/>
<rect x="348.7" y="518.5" width="23.2" height="26.3" fill="#440154"/>
<rect x="371.0" y="518.5" width="23.2" height="26.3" fill="#440154"/>
<rect x="393.2" y="518.5" width="23.2" height="26.3" fill="#440154"/>
<rect x="415.5" y="518.5" width="23.2" height="26.3" fill="#440154"/>
<rect x="437.7" y="518.5" width="23.2" height="26.3" fill="#450C5E"/>
<rect x="459.9" y="518.5" width="23.2" height="26.3" fill="#440154"/>
<rect x="482.2" y="518.5" width="23.2" height="26.3" fill="#482173"/>
<rect x="504.4" y="518.5" width="23.2" height="26.3" fill="#482173"/>
<rect x="526.7" y="518.5" width="23.2" height="26.3" fill="#433D85"/>
<rect x="548.9" y="518.5" width="23.2" height="26.3" fill="#404687"/>
<rect x="571.1" y="518.5" width="23.2" height="26.3" fill="#404687"/>
<rect x="593.4" y="518.5" width="23.2" height="26.3" fill="#2D6F8E"/>
<rect x="615.6" y="518.5" width="23.2" height="26.3" fill="#2D6F8E"/>
<rect x="637.9" y="518.5" width="23.2" height="26.3" fill="#22908C"/>
<rect x="660.1" y="518.5" width="23.2" height="26.3" fill="#22908C"/>
<rect x="682.3" y="518.5" width="23.2" height="26.3" fill="#22908C"/>
<rect x="704.6" y="518.5" width="23.2" height="26.3" fill="#2D6F8E"/>
<rect x="726.8" y="518.5" width="23.2" height="26.3" fill="#22908C"/>
<rect x="749.1" y="518.5" width="23.2" height="26.3" fill="#22908C"/>
<rect x="771.3" y="518.5" width="23.2" height="26.3" fill="#2AAF80"/>
<rect x="793.5" y="518.5" width="23.2" height="26.3" fill="#404687"/>
<rect x="815.8" y="518.5" width="23.2" height="26.3" fill="#404687"/>
<rect x="838.0" y="518.5" width="23.2" height="26.3" fill="#2D6F8E"/>
<rect x="860.3" y="518.5" width="23.2" height="26.3" fill="#2AAF80"/>
<rect x="882.5" y="518.5" width="23.2" height="26.3" fill="#297A8E"/>
<rect x="170.8" y="543.8" width="23.2" height="26.3" fill="#33648D"/>
<rect x="193.1" y="543.8" width="23.2" height="26.3" fill="#38598C"/>
<rect x="215.3" y="543.8" width="23.2" height="26.3" fill="#404687"/>
<rect x="237.5" y="543.8" width="23.2" height="26.3" fill="#443781"/>
<rect x="259.8" y="543.8" width="23.2" height="26.3" fill="#45317D"/>
<rect x="282.0" y="543.8" width="23.2" height="26.3" fill="#462D7B"/>
<rect x="304.3" y="543.8" width="23.2" height="26.3" fill="#482173"/>
<rect x="326.5" y="543.8" width="23.2" height="26.3" fill="#482173"/>
<rect x="348.7" y="543.8" width="23.2" height="26.3" fill="#440154"/>
<rect x="371.0" y="543.8" width="23.2" height="26.3" fill="#440154"/>
<rect x="393.2" y="543.8" width="23.2" height="26.3" fill="#440154"/>
<rect x="415.5" y="543.8" width="23.2" height="26.3" fill="#440154"/>
<rect x="437.7" y="543.8" width="23.2" height="26.3" fill="#440154"/>
<rect x="459.9" y="543.8" width="23.2" height="26.3" fill="#482173"/>
<rect x="482.2" y="543.8" width="23.2" height="26.3" fill="#482173"/>
<rect x="504.4" y="543.8" width="23.2" height="26.3" fill="#404687"/>
<rect x="526.7" y="543.8" width="23.2" height="26.3" fill="#404687"/>
<rect x="548.9" y="543.8" width="23.2" height="26.3" fill="#404687"/>
<rect x="571.1" y="543.8" width="23.2" height="26.3" fill="#404687"/>
<rect x="593.4" y="543.8" width="23.2" height="26.3" fill="#404687"/>
<rect x="615.6" y="543.8" width="23.2" height="26.3" fill="#2D6F8E"/>
<rect x="637.9" y="543.8" width="23.2" height="26.3" fill="#2AAF80"/>
<rect x="660.1" y="543.8" width="23.2" height="26.3" fill="#22908C"/>
<rect x="682.3" y="543.8" width="23.2" height="26.3" fill="#22908C"/>
<rect x="704.6" y="543.8" width="23.2" height="26.3" fill="#64CB5E"/>
<rect x="726.8" y="543.8" width="23.2" height="26.3" fill="#AEDC2F"/>
<rect x="749.1" y="543.8" width="23.2" height="26.3" fill="#64CB5E"/>
<rect x="771.3" y="543.8" width="23.2" height="26.3" fill="#2AAF80"/>
<rect x="793.5" y="543.8" width="23.2" height="26.3" fill="#404687"/>
<rect x="815.8" y="543.8" width="23.2" height="26.3" fill="#404687"/>
<rect x="838.0" y="543.8" width="23.2" height="26.3" fill="#2AAF80"/>
<rect x="860.3" y="543.8" width="23.2" height="26.3" fill="#22908C"/>
<rect x="882.5" y="543.8" width="23.2" height="26.3" fill="#21A088"/>
<rect x="170.8" y="569.1" width="23.2" height="26.3" fill="#31678D"/>
<rect x="193.1" y="569.1" width="23.2" height="26.3" fill="#34628D"/>
<rect x="215.3" y="569.1" width="23.2" height="26.3" fill="#3A538B"/>
<rect x="237.5" y="569.1" width="23.2" height="26.3" fill="#404687"/>
<rect x="259.8" y="569.1" width="23.2" height="26.3" fill="#3E4B88"/>
<rect x="282.0" y="569.1" width="23.2" height="26.3" fill="#3C508A"/>
<rect x="304.3" y="569.1" width="23.2" height="26.3" fill="#3A558B"/>
<rect x="326.5" y="569.1" width="23.2" height="26.3" fill="#482173"/>
<rect x="348.7" y="569.1" width="23.2" height="26.3" fill="#440154"/>
<rect x="371.0" y="569.1" width="23.2" height="26.3" fill="#45075A"/>
<rect x="393.2" y="569.1" width="23.2" height="26.3" fill="#440154"/>
<rect x="415.5" y="569.1" width="23.2" height="26.3" fill="#440154"/>
<rect x="437.7" y="569.1" width="23.2" height="26.3" fill="#440154"/>
<rect x="459.9" y="569.1" width="23.2" height="26.3" fill="#440154"/>
<rect x="482.2" y="569.1" width="23.2" height="26.3" fill="#440154"/>
<rect x="504.4" y="569.1" width="23.2" height="26.3" fill="#440154"/>
<rect x="526.7" y="569.1" width="23.2" height="26.3" fill="#2D6F8E"/>
<rect x="548.9" y="569.1" width="23.2" height="26.3" fill="#2D6F8E"/>
<rect x="571.1" y="569.1" width="23.2" height="26.3" fill="#404687"/>
<rect x="593.4" y="569.1" width="23.2" height="26.3" fill="#2D6F8E"/>
<rect x="615.6" y="569.1" width="23.2" height="26.3" fill="#2D6F8E"/>
<rect x="637.9" y="569.1" width="23.2" height="26.3" fill="#2AAF80"/>
<rect x="660.1" y="569.1" width="23.2" height="26.3" fill="#2AAF80"/>
<rect x="682.3" y="569.1" width="23.2" height="26.3" fill="#E3E324"/>
<rect x="704.6" y="569.1" width="23.2" height="26.3" fill="#E3E324"/>
<rect x="726.8" y="569.1" width="23.2" height="26.3" fill="#AEDC2F"/>
<rect x="749.1" y="569.1" width="23.2" height="26.3" fill="#AEDC2F"/>
<rect x="771.3" y="569.1" width="23.2" height="26.3" fill="#2AAF80"/>
<rect x="793.5" y="569.1" width="23.2" height="26.3" fill="#2D6F8E"/>
<rect x="815.8" y="569.1" width="23.2" height="26.3" fill="#404687"/>
<rect x="838.0" y="569.1" width="23.2" height="26.3" fill="#22908C"/>
<rect x="860.3" y="569.1" width="23.2" height="26.3" fill="#51C56A"/>
<rect x="882.5" y="569.1" width="23.2" height="26.3" fill="#64CB5E"/>
<rect x="170.8" y="594.4" width="23.2" height="26.3" fill="#30698D"/>
<rect x="193.1" y="594.4" width="23.2" height="26.3" fill="#32658D"/>
<rect x="215.3" y="594.4" width="23.2" height="26.3" fill="#39588C"/>
<rect x="237.5" y="594.4" width="23.2" height="26.3" fill="#3E4988"/>
<rect x="259.8" y="594.4" width="23.2" height="26.3" fill="#404687"/>
<rect x="282.0" y="594.4" width="23.2" height="26.3" fill="#306A8D"/>
<rect x="304.3" y="594.4" width="23.2" height="26.3" fill="#297A8E"/>
<rect x="326.5" y="594.4" width="23.2" height="26.3" fill="#2AAF80"/>
<rect x="348.7" y="594.4" width="23.2" height="26.3" fill="#482173"/>
<rect x="371.0" y="594.4" width="23.2" height="26.3" fill="#440154"/>
<rect x="393.2" y="594.4" width="23.2" height="26.3" fill="#440154"/>
<rect x="415.5" y="594.4" width="23.2" height="26.3" fill="#440154"/>
<rect x="437.7" y="594.4" width="23.2" height="26.3" fill="#440154"/>
<rect x="459.9" y="594.4" width="23.2" height="26.3" fill="#440154"/>
<rect x="482.2" y="594.4" width="23.2" height="26.3" fill="#482173"/>
<rect x="504.4" y="594.4" width="23.2" height="26.3" fill="#404687"/>
<rect x="526.7" y="594.4" width="23.2" height="26.3" fill="#404687"/>
<rect x="548.9" y="594.4" width="23.2" height="26.3" fill="#22908C"/>
<rect x="571.1" y="594.4" width="23.2" height="26.3" fill="#2AAF80"/>
<rect x="593.4" y="594.4" width="23.2" height="26.3" fill="#2AAF80"/>
<rect x="615.6" y="594.4" width="23.2" height="26.3" fill="#64CB5E"/>
<rect x="637.9" y="594.4" width="23.2" height="26.3" fill="#2AAF80"/>
<rect x="660.1" y="594.4" width="23.2" height="26.3" fill="#AEDC2F"/>
<rect x="682.3" y="594.4" width="23.2" height="26.3" fill="#E3E324"/>
<rect x="704.6" y="594.4" width="23.2" height="26.3" fill="#AEDC2F"/>
<rect x="726.8" y="594.4" width="23.2" height="26.3" fill="#AEDC2F"/>
<rect x="749.1" y="594.4" width="23.2" height="26.3" fill="#AEDC2F"/>
<rect x="771.3" y="594.4" width="23.2" height="26.3" fill="#64CB5E"/>
<rect x="793.5" y="594.4" width="23.2" height="26.3" fill="#22908C"/>
<rect x="815.8" y="594.4" width="23.2" height="26.3" fill="#297A8E"/>
<rect x="838.0" y="594.4" width="23.2" height="26.3" fill="#22908C"/>
<rect x="860.3" y="594.4" width="23.2" height="26.3" fill="#AEDC2F"/>
<rect x="882.5" y="594.4" width="23.2" height="26.3" fill="#AEDC2F"/>
<rect x="170.8" y="619.6" width="23.2" height="26.3" fill="#2D6F8E"/>
<rect x="193.1" y="619.6" width="23.2" height="26.3" fill="#33628D"/>
<rect x="215.3" y="619.6" width="23.2" height="26.3" fill="#375C8C"/>
<rect x="237.5" y="619.6" width="23.2" height="26.3" fill="#404687"/>
<rect x="259.8" y="619.6" width="23.2" height="26.3" fill="#433D85"/>
<rect x="282.0" y="619.6" width="23.2" height="26.3" fill="#404687"/>
<rect x="304.3" y="619.6" width="23.2" height="26.3" fill="#24888E"/>
<rect x="326.5" y="619.6" width="23.2" height="26.3" fill="#22908C"/>
<rect x="348.7" y="619.6" width="23.2" height="26.3" fill="#2D6F8E"/>
<rect x="371.0" y="619.6" width="23.2" height="26.3" fill="#482173"/>
<rect x="393.2" y="619.6" width="23.2" height="26.3" fill="#440154"/>
<rect x="415.5" y="619.6" width="23.2" height="26.3" fill="#440154"/>
<rect x="437.7" y="619.6" width="23.2" height="26.3" fill="#440154"/>
<rect x="459.9" y="619.6" width="23.2" height="26.3" fill="#440154"/>
<rect x="482.2" y="619.6" width="23.2" height="26.3" fill="#404687"/>
<rect x="504.4" y="619.6" width="23.2" height="26.3" fill="#2D6F8E"/>
<rect x="526.7" y="619.6" width="23.2" height="26.3" fill="#404687"/>
<rect x="548.9" y="619.6" width="23.2" height="26.3" fill="#2AAF80"/>
<rect x="571.1" y="619.6" width="23.2" height="26.3" fill="#2AAF80"/>
<rect x="593.4" y="619.6" width="23.2" height="26.3" fill="#64CB5E"/>
<rect x="615.6" y="619.6" width="23.2" height="26.3" fill="#64CB5E"/>
<rect x="637.9" y="619.6" width="23.2" height="26.3" fill="#64CB5E"/>
<rect x="660.1" y="619.6" width="23.2" height="26.3" fill="#64CB5E"/>
<rect x="682.3" y="619.6" width="23.2" height="26.3" fill="#AEDC2F"/>
<rect x="704.6" y="619.6" width="23.2" height="26.3" fill="#AEDC2F"/>
<rect x="726.8" y="619.6" width="23.2" height="26.3" fill="#AEDC2F"/>
<rect x="749.1" y="619.6" width="23.2" height="26.3" fill="#E3E324"/>
<rect x="771.3" y="619.6" width="23.2" height="26.3" fill="#E3E324"/>
<rect x="793.5" y="619.6" width="23.2" height="26.3" fill="#2AAF80"/>
<rect x="815.8" y="619.6" width="23.2" height="26.3" fill="#2D6F8E"/>
<rect x="838.0" y="619.6" width="23.2" height="26.3" fill="#2D6F8E"/>
<rect x="860.3" y="619.6" width="23.2" height="26.3" fill="#2AAF80"/>
<rect x="882.5" y="619.6" width="23.2" height="26.3" fill="#E3E324"/>
<rect x="170.8" y="644.9" width="23.2" height="26.3" fill="#2D6F8E"/>
<rect x="193.1" y="644.9" width="23.2" height="26.3" fill="#2D6F8E"/>
<rect x="215.3" y="644.9" width="23.2" height="26.3" fill="#404687"/>
<rect x="237.5" y="644.9" width="23.2" height="26.3" fill="#355E8C"/>
<rect x="259.8" y="644.9" width="23.2" height="26.3" fill="#3A548B"/>
<rect x="282.0" y="644.9" width="23.2" height="26.3" fill="#45347F"/>
<rect x="304.3" y="644.9" width="23.2" height="26.3" fill="#404687"/>
<rect x="326.5" y="644.9" width="23.2" height="26.3" fill="#22908C"/>
<rect x="348.7" y="644.9" width="23.2" height="26.3" fill="#2AAF80"/>
<rect x="371.0" y="644.9" width="23.2" height="26.3" fill="#404687"/>
<rect x="393.2" y="644.9" width="23.2" height="26.3" fill="#440154"/>
<rect x="415.5" y="644.9" width="23.2" height="26.3" fill="#440154"/>
<rect x="437.7" y="644.9" width="23.2" height="26.3" fill="#440154"/>
<rect x="459.9" y="644.9" width="23.2" height="26.3" fill="#440154"/>
<rect x="482.2" y="644.9" width="23.2" height="26.3" fill="#2D6F8E"/>
<rect x="504.4" y="644.9" width="23.2" height="26.3" fill="#2D6F8E"/>
<rect x="526.7" y="644.9" width="23.2" height="26.3" fill="#2D6F8E"/>
<rect x="548.9" y="644.9" width="23.2" height="26.3" fill="#2AAF80"/>
<rect x="571.1" y="644.9" width="23.2" height="26.3" fill="#64CB5E"/>
<rect x="593.4" y="644.9" width="23.2" height="26.3" fill="#64CB5E"/>
<rect x="615.6" y="644.9" width="23.2" height="26.3" fill="#64CB5E"/>
<rect x="637.9" y="644.9" width="23.2" height="26.3" fill="#64CB5E"/>
<rect x="660.1" y="644.9" width="23.2" height="26.3" fill="#64CB5E"/>
<rect x="682.3" y="644.9" width="23.2" height="26.3" fill="#AEDC2F"/>
<rect x="704.6" y="644.9" width="23.2" height="26.3" fill="#AEDC2F"/>
<rect x="726.8" y="644.9" width="23.2" height="26.3" fill="#AEDC2F"/>
<rect x="749.1" y="644.9" width="23.2" height="26.3" fill="#E3E324"/>
<rect x="771.3" y="644.9" width="23.2" height="26.3" fill="#E3E324"/>
<rect x="793.5" y="644.9" width="23.2" height="26.3" fill="#64CB5E"/>
<rect x="815.8" y="644.9" width="23.2" height="26.3" fill="#2D6F8E"/>
<rect x="838.0" y="644.9" width="23.2" height="26.3" fill="#404687"/>
<rect x="860.3" y="644.9" width="23.2" height="26.3" fill="#2AAF80"/>
<rect x="882.5" y="644.9" width="23.2" height="26.3" fill="#E3E324"/>
<rect x="170.8" y="670.2" width="23.2" height="26.3" fill="#22908C"/>
<rect x="193.1" y="670.2" width="23.2" height="26.3" fill="#404687"/>
<rect x="215.3" y="670.2" width="23.2" height="26.3" fill="#3B528A"/>
<rect x="237.5" y="670.2" width="23.2" height="26.3" fill="#2D6F8E"/>
<rect x="259.8" y="670.2" width="23.2" height="26.3" fill="#2D6F8E"/>
<rect x="282.0" y="670.2" width="23.2" height="26.3" fill="#404687"/>
<rect x="304.3" y="670.2" width="23.2" height="26.3" fill="#482173"/>
<rect x="326.5" y="670.2" width="23.2" height="26.3" fill="#2D6F8E"/>
<rect x="348.7" y="670.2" width="23.2" height="26.3" fill="#22908C"/>
<rect x="371.0" y="670.2" width="23.2" height="26.3" fill="#2D6F8E"/>
<rect x="393.2" y="670.2" width="23.2" height="26.3" fill="#440154"/>
<rect x="415.5" y="670.2" width="23.2" height="26.3" fill="#440154"/>
<rect x="437.7" y="670.2" width="23.2" height="26.3" fill="#440154"/>
<rect x="459.9" y="670.2" width="23.2" height="26.3" fill="#404687"/>
<rect x="482.2" y="670.2" width="23.2" height="26.3" fill="#2D6F8E"/>
<rect x="504.4" y="670.2" width="23.2" height="26.3" fill="#2D6F8E"/>
<rect x="526.7" y="670.2" width="23.2" height="26.3" fill="#22908C"/>
<rect x="548.9" y="670.2" width="23.2" height="26.3" fill="#64CB5E"/>
<rect x="571.1" y="670.2" width="23.2" height="26.3" fill="#64CB5E"/>
<rect x="593.4" y="670.2" width="23.2" height="26.3" fill="#64CB5E"/>
<rect x="615.6" y="670.2" width="23.2" height="26.3" fill="#AEDC2F"/>
<rect x="637.9" y="670.2" width="23.2" height="26.3" fill="#64CB5E"/>
<rect x="660.1" y="670.2" width="23.2" height="26.3" fill="#64CB5E"/>
<rect x="682.3" y="670.2" width="23.2" height="26.3" fill="#AEDC2F"/>
<rect x="704.6" y="670.2" width="23.2" height="26.3" fill="#AEDC2F"/>
<rect x="726.8" y="670.2" width="23.2" height="26.3" fill="#AEDC2F"/>
<rect x="749.1" y="670.2" width="23.2" height="26.3" fill="#E3E324"/>
<rect x="771.3" y="670.2" width="23.2" height="26.3" fill="#AEDC2F"/>
<rect x="793.5" y="670.2" width="23.2" height="26.3" fill="#2AAF80"/>
<rect x="815.8" y="670.2" width="23.2" height="26.3" fill="#2D6F8E"/>
<rect x="838.0" y="670.2" width="23.2" height="26.3" fill="#404687"/>
<rect x="860.3" y="670.2" width="23.2" height="26.3" fill="#64CB5E"/>
<rect x="882.5" y="670.2" width="23.2" height="26.3" fill="#E3E324"/>
<rect x="170.8" y="695.5" width="23.2" height="26.3" fill="#22908C"/>
<rect x="193.1" y="695.5" width="23.2" height="26.3" fill="#482173"/>
<rect x="215.3" y="695.5" width="23.2" height="26.3" fill="#2D6F8E"/>
<rect x="237.5" y="695.5" width="23.2" height="26.3" fill="#2D6F8E"/>
<rect x="259.8" y="695.5" width="23.2" height="26.3" fill="#2D6F8E"/>
<rect x="282.0" y="695.5" width="23.2" height="26.3" fill="#2D6F8E"/>
<rect x="304.3" y="695.5" width="23.2" height="26.3" fill="#482173"/>
<rect x="326.5" y="695.5" width="23.2" height="26.3" fill="#482173"/>
<rect x="348.7" y="695.5" width="23.2" height="26.3" fill="#404687"/>
<rect x="371.0" y="695.5" width="23.2" height="26.3" fill="#404687"/>
<rect x="393.2" y="695.5" width="23.2" height="26.3" fill="#482173"/>
<rect x="415.5" y="695.5" width="23.2" height="26.3" fill="#440154"/>
<rect x="437.7" y="695.5" width="23.2" height="26.3" fill="#440154"/>
<rect x="459.9" y="695.5" width="23.2" height="26.3" fill="#404687"/>
<rect x="482.2" y="695.5" width="23.2" height="26.3" fill="#2D6F8E"/>
<rect x="504.4" y="695.5" width="23.2" height="26.3" fill="#22908C"/>
<rect x="526.7" y="695.5" width="23.2" height="26.3" fill="#2AAF80"/>
<rect x="548.9" y="695.5" width="23.2" height="26.3" fill="#64CB5E"/>
<rect x="571.1" y="695.5" width="23.2" height="26.3" fill="#64CB5E"/>
<rect x="593.4" y="695.5" width="23.2" height="26.3" fill="#AEDC2F"/>
<rect x="615.6" y="695.5" width="23.2" height="26.3" fill="#64CB5E"/>
<rect x="637.9" y="695.5" width="23.2" height="26.3" fill="#64CB5E"/>
<rect x="660.1" y="695.5" width="23.2" height="26.3" fill="#2AAF80"/>
<rect x="682.3" y="695.5" width="23.2" height="26.3" fill="#2AAF80"/>
<rect x="704.6" y="695.5" width="23.2" height="26.3" fill="#22908C"/>
<rect x="726.8" y="695.5" width="23.2" height="26.3" fill="#64CB5E"/>
<rect x="749.1" y="695.5" width="23.2" height="26.3" fill="#E3E324"/>
<rect x="771.3" y="695.5" width="23.2" height="26.3" fill="#AEDC2F"/>
<rect x="793.5" y="695.5" width="23.2" height="26.3" fill="#2AAF80"/>
<rect x="815.8" y="695.5" width="23.2" height="26.3" fill="#2D6F8E"/>
<rect x="838.0" y="695.5" width="23.2" height="26.3" fill="#64CB5E"/>
<rect x="860.3" y="695.5" width="23.2" height="26.3" fill="#E3E324"/>
<rect x="882.5" y="695.5" width="23.2" height="26.3" fill="#C9E023"/>
<rect x="170.8" y="720.8" width="23.2" height="26.3" fill="#22908C"/>
<rect x="193.1" y="720.8" width="23.2" height="26.3" fill="#482173"/>
<rect x="215.3" y="720.8" width="23.2" height="26.3" fill="#482173"/>
<rect x="237.5" y="720.8" width="23.2" height="26.3" fill="#482173"/>
<rect x="259.8" y="720.8" width="23.2" height="26.3" fill="#482173"/>
<rect x="282.0" y="720.8" width="23.2" height="26.3" fill="#482173"/>
<rect x="304.3" y="720.8" width="23.2" height="26.3" fill="#482173"/>
<rect x="326.5" y="720.8" width="23.2" height="26.3" fill="#440154"/>
<rect x="348.7" y="720.8" width="23.2" height="26.3" fill="#440154"/>
<rect x="371.0" y="720.8" width="23.2" height="26.3" fill="#482173"/>
<rect x="393.2" y="720.8" width="23.2" height="26.3" fill="#482173"/>
<rect x="415.5" y="720.8" width="23.2" height="26.3" fill="#440154"/>
<rect x="437.7" y="720.8" width="23.2" height="26.3" fill="#482173"/>
<rect x="459.9" y="720.8" width="23.2" height="26.3" fill="#404687"/>
<rect x="482.2" y="720.8" width="23.2" height="26.3" fill="#2D6F8E"/>
<rect x="504.4" y="720.8" width="23.2" height="26.3" fill="#22908C"/>
<rect x="526.7" y="720.8" width="23.2" height="26.3" fill="#22908C"/>
<rect x="548.9" y="720.8" width="23.2" height="26.3" fill="#64CB5E"/>
<rect x="571.1" y="720.8" width="23.2" height="26.3" fill="#64CB5E"/>
<rect x="593.4" y="720.8" width="23.2" height="26.3" fill="#AEDC2F"/>
<rect x="615.6" y="720.8" width="23.2" height="26.3" fill="#64CB5E"/>
<rect x="637.9" y="720.8" width="23.2" height="26.3" fill="#AEDC2F"/>
<rect x="660.1" y="720.8" width="23.2" height="26.3" fill="#64CB5E"/>
<rect x="682.3" y="720.8" width="23.2" height="26.3" fill="#3EBB74"/>
<rect x="704.6" y="720.8" width="23.2" height="26.3" fill="#51C56A"/>
<rect x="726.8" y="720.8" width="23.2" height="26.3" fill="#A1DA38"/>
<rect x="749.1" y="720.8" width="23.2" height="26.3" fill="#E3E324"/>
<rect x="771.3" y="720.8" width="23.2" height="26.3" fill="#E3E324"/>
<rect x="793.5" y="720.8" width="23.2" height="26.3" fill="#2AAF80"/>
<rect x="815.8" y="720.8" width="23.2" height="26.3" fill="#64CB5E"/>
<rect x="838.0" y="720.8" width="23.2" height="26.3" fill="#E3E324"/>
<rect x="860.3" y="720.8" width="23.2" height="26.3" fill="#E3E324"/>
<rect x="882.5" y="720.8" width="23.2" height="26.3" fill="#E3E324"/>
<rect x="170.8" y="746.1" width="23.2" height="26.3" fill="#AEDC2F"/>
<rect x="193.1" y="746.1" width="23.2" height="26.3" fill="#404687"/>
<rect x="215.3" y="746.1" width="23.2" height="26.3" fill="#482173"/>
<rect x="237.5" y="746.1" width="23.2" height="26.3" fill="#482173"/>
<rect x="259.8" y="746.1" width="23.2" height="26.3" fill="#404687"/>
<rect x="282.0" y="746.1" width="23.2" height="26.3" fill="#22908C"/>
<rect x="304.3" y="746.1" width="23.2" height="26.3" fill="#22908C"/>
<rect x="326.5" y="746.1" width="23.2" height="26.3" fill="#22908C"/>
<rect x="348.7" y="746.1" width="23.2" height="26.3" fill="#2D6F8E"/>
<rect x="371.0" y="746.1" width="23.2" height="26.3" fill="#482173"/>
<rect x="393.2" y="746.1" width="23.2" height="26.3" fill="#482173"/>
<rect x="415.5" y="746.1" width="23.2" height="26.3" fill="#482173"/>
<rect x="437.7" y="746.1" width="23.2" height="26.3" fill="#404687"/>
<rect x="459.9" y="746.1" width="23.2" height="26.3" fill="#404687"/>
<rect x="482.2" y="746.1" width="23.2" height="26.3" fill="#2D6F8E"/>
<rect x="504.4" y="746.1" width="23.2" height="26.3" fill="#22908C"/>
<rect x="526.7" y="746.1" width="23.2" height="26.3" fill="#22908C"/>
<rect x="548.9" y="746.1" width="23.2" height="26.3" fill="#2AAF80"/>
<rect x="571.1" y="746.1" width="23.2" height="26.3" fill="#2AAF80"/>
<rect x="593.4" y="746.1" width="23.2" height="26.3" fill="#64CB5E"/>
<rect x="615.6" y="746.1" width="23.2" height="26.3" fill="#AEDC2F"/>
<rect x="637.9" y="746.1" width="23.2" height="26.3" fill="#AEDC2F"/>
<rect x="660.1" y="746.1" width="23.2" height="26.3" fill="#AEDC2F"/>
<rect x="682.3" y="746.1" width="23.2" height="26.3" fill="#55C668"/>
<rect x="704.6" y="746.1" width="23.2" height="26.3" fill="#86D549"/>
<rect x="726.8" y="746.1" width="23.2" height="26.3" fill="#E3E324"/>
<rect x="749.1" y="746.1" width="23.2" height="26.3" fill="#AEDC2F"/>
<rect x="771.3" y="746.1" width="23.2" height="26.3" fill="#AEDC2F"/>
<rect x="793.5" y="746.1" width="23.2" height="26.3" fill="#AEDC2F"/>
<rect x="815.8" y="746.1" width="23.2" height="26.3" fill="#E3E324"/>
<rect x="838.0" y="746.1" width="23.2" height="26.3" fill="#E3E324"/>
<rect x="860.3" y="746.1" width="23.2" height="26.3" fill="#E3E324"/>
<rect x="882.5" y="746.1" width="23.2" height="26.3" fill="#E3E324"/>
<rect x="170.8" y="771.4" width="23.2" height="26.3" fill="#2AAF80"/>
<rect x="193.1" y="771.4" width="23.2" height="26.3" fill="#22908C"/>
<rect x="215.3" y="771.4" width="23.2" height="26.3" fill="#404687"/>
<rect x="237.5" y="771.4" width="23.2" height="26.3" fill="#375C8C"/>
<rect x="259.8" y="771.4" width="23.2" height="26.3" fill="#375C8C"/>
<rect x="282.0" y="771.4" width="23.2" height="26.3" fill="#404687"/>
<rect x="304.3" y="771.4" width="23.2" height="26.3" fill="#2AAF80"/>
<rect x="326.5" y="771.4" width="23.2" height="26.3" fill="#44BE71"/>
<rect x="348.7" y="771.4" width="23.2" height="26.3" fill="#21A088"/>
<rect x="371.0" y="771.4" width="23.2" height="26.3" fill="#277F8E"/>
<rect x="393.2" y="771.4" width="23.2" height="26.3" fill="#375C8C"/>
<rect x="415.5" y="771.4" width="23.2" height="26.3" fill="#375C8C"/>
<rect x="437.7" y="771.4" width="23.2" height="26.3" fill="#277F8E"/>
<rect x="459.9" y="771.4" width="23.2" height="26.3" fill="#2D6F8E"/>
<rect x="482.2" y="771.4" width="23.2" height="26.3" fill="#22908C"/>
<rect x="504.4" y="771.4" width="23.2" height="26.3" fill="#2D6F8E"/>
<rect x="526.7" y="771.4" width="23.2" height="26.3" fill="#22908C"/>
<rect x="548.9" y="771.4" width="23.2" height="26.3" fill="#2AAF80"/>
<rect x="571.1" y="771.4" width="23.2" height="26.3" fill="#2AAF80"/>
<rect x="593.4" y="771.4" width="23.2" height="26.3" fill="#64CB5E"/>
<rect x="615.6" y="771.4" width="23.2" height="26.3" fill="#AEDC2F"/>
<rect x="637.9" y="771.4" width="23.2" height="26.3" fill="#AEDC2F"/>
<rect x="660.1" y="771.4" width="23.2" height="26.3" fill="#2AAF80"/>
<rect x="682.3" y="771.4" width="23.2" height="26.3" fill="#64CB5E"/>
<rect x="704.6" y="771.4" width="23.2" height="26.3" fill="#2AAF80"/>
<rect x="726.8" y="771.4" width="23.2" height="26.3" fill="#AEDC2F"/>
<rect x="749.1" y="771.4" width="23.2" height="26.3" fill="#64CB5E"/>
<rect x="771.3" y="771.4" width="23.2" height="26.3" fill="#64CB5E"/>
<rect x="793.5" y="771.4" width="23.2" height="26.3" fill="#E3E324"/>
<rect x="815.8" y="771.4" width="23.2" height="26.3" fill="#E3E324"/>
<rect x="838.0" y="771.4" width="23.2" height="26.3" fill="#E3E324"/>
<rect x="860.3" y="771.4" width="23.2" height="26.3" fill="#E3E324"/>
<rect x="882.5" y="771.4" width="23.2" height="26.3" fill="#E3E324"/>
<rect x="170.8" y="796.7" width="23.2" height="26.3" fill="#44BE71"/>
<rect x="193.1" y="796.7" width="23.2" height="26.3" fill="#AEDC2F"/>
<rect x="215.3" y="796.7" width="23.2" height="26.3" fill="#2D6F8E"/>
<rect x="237.5" y="796.7" width="23.2" height="26.3" fill="#482173"/>
<rect x="259.8" y="796.7" width="23.2" height="26.3" fill="#482173"/>
<rect x="282.0" y="796.7" width="23.2" height="26.3" fill="#45347F"/>
<rect x="304.3" y="796.7" width="23.2" height="26.3" fill="#277F8E"/>
<rect x="326.5" y="796.7" width="23.2" height="26.3" fill="#44BE71"/>
<rect x="348.7" y="796.7" width="23.2" height="26.3" fill="#2AAF80"/>
<rect x="371.0" y="796.7" width="23.2" height="26.3" fill="#22908C"/>
<rect x="393.2" y="796.7" width="23.2" height="26.3" fill="#277F8E"/>
<rect x="415.5" y="796.7" width="23.2" height="26.3" fill="#277F8E"/>
<rect x="437.7" y="796.7" width="23.2" height="26.3" fill="#2D6F8E"/>
<rect x="459.9" y="796.7" width="23.2" height="26.3" fill="#277F8E"/>
<rect x="482.2" y="796.7" width="23.2" height="26.3" fill="#22908C"/>
<rect x="504.4" y="796.7" width="23.2" height="26.3" fill="#2AAF80"/>
<rect x="526.7" y="796.7" width="23.2" height="26.3" fill="#22908C"/>
<rect x="548.9" y="796.7" width="23.2" height="26.3" fill="#2AAF80"/>
<rect x="571.1" y="796.7" width="23.2" height="26.3" fill="#64CB5E"/>
<rect x="593.4" y="796.7" width="23.2" height="26.3" fill="#AEDC2F"/>
<rect x="615.6" y="796.7" width="23.2" height="26.3" fill="#AEDC2F"/>
<rect x="637.9" y="796.7" width="23.2" height="26.3" fill="#2AAF80"/>
<rect x="660.1" y="796.7" width="23.2" height="26.3" fill="#2AAF80"/>
<rect x="682.3" y="796.7" width="23.2" height="26.3" fill="#2AAF80"/>
<rect x="704.6" y="796.7" width="23.2" height="26.3" fill="#22908C"/>
<rect x="726.8" y="796.7" width="23.2" height="26.3" fill="#22908C"/>
<rect x="749.1" y="796.7" width="23.2" height="26.3" fill="#2D6F8E"/>
<rect x="771.3" y="796.7" width="23.2" height="26.3" fill="#AEDC2F"/>
<rect x="793.5" y="796.7" width="23.2" height="26.3" fill="#E3E324"/>
<rect x="815.8" y="796.7" width="23.2" height="26.3" fill="#E3E324"/>
<rect x="838.0" y="796.7" width="23.2" height="26.3" fill="#E3E324"/>
<rect x="860.3" y="796.7" width="23.2" height="26.3" fill="#E3E324"/>
<rect x="882.5" y="796.7" width="23.2" height="26.3" fill="#E3E324"/>
<rect x="170.8" y="822.0" width="23.2" height="26.3" fill="#AEDC2F"/>
<rect x="193.1" y="822.0" width="23.2" height="26.3" fill="#4DC36C"/>
<rect x="215.3" y="822.0" width="23.2" height="26.3" fill="#AEDC2F"/>
<rect x="237.5" y="822.0" width="23.2" height="26.3" fill="#277F8E"/>
<rect x="259.8" y="822.0" width="23.2" height="26.3" fill="#2D6F8E"/>
<rect x="282.0" y="822.0" width="23.2" height="26.3" fill="#404687"/>
<rect x="304.3" y="822.0" width="23.2" height="26.3" fill="#22908C"/>
<rect x="326.5" y="822.0" width="23.2" height="26.3" fill="#2AAF80"/>
<rect x="348.7" y="822.0" width="23.2" height="26.3" fill="#21A088"/>
<rect x="371.0" y="822.0" width="23.2" height="26.3" fill="#22908C"/>
<rect x="393.2" y="822.0" width="23.2" height="26.3" fill="#277F8E"/>
<rect x="415.5" y="822.0" width="23.2" height="26.3" fill="#277F8E"/>
<rect x="437.7" y="822.0" width="23.2" height="26.3" fill="#21A088"/>
<rect x="459.9" y="822.0" width="23.2" height="26.3" fill="#44BE71"/>
<rect x="482.2" y="822.0" width="23.2" height="26.3" fill="#44BE71"/>
<rect x="504.4" y="822.0" width="23.2" height="26.3" fill="#2AAF80"/>
<rect x="526.7" y="822.0" width="23.2" height="26.3" fill="#2AAF80"/>
<rect x="548.9" y="822.0" width="23.2" height="26.3" fill="#2AAF80"/>
<rect x="571.1" y="822.0" width="23.2" height="26.3" fill="#64CB5E"/>
<rect x="593.4" y="822.0" width="23.2" height="26.3" fill="#AEDC2F"/>
<rect x="615.6" y="822.0" width="23.2" height="26.3" fill="#64CB5E"/>
<rect x="637.9" y="822.0" width="23.2" height="26.3" fill="#2AAF80"/>
<rect x="660.1" y="822.0" width="23.2" height="26.3" fill="#2AAF80"/>
<rect x="682.3" y="822.0" width="23.2" height="26.3" fill="#2AAF80"/>
<rect x="704.6" y="822.0" width="23.2" height="26.3" fill="#22908C"/>
<rect x="726.8" y="822.0" width="23.2" height="26.3" fill="#22908C"/>
<rect x="749.1" y="822.0" width="23.2" height="26.3" fill="#2AAF80"/>
<rect x="771.3" y="822.0" width="23.2" height="26.3" fill="#E3E324"/>
<rect x="793.5" y="822.0" width="23.2" height="26.3" fill="#D2E124"/>
<rect x="815.8" y="822.0" width="23.2" height="26.3" fill="#E3E324"/>
<rect x="838.0" y="822.0" width="23.2" height="26.3" fill="#E3E324"/>
<rect x="860.3" y="822.0" width="23.2" height="26.3" fill="#E3E324"/>
<rect x="882.5" y="822.0" width="23.2" height="26.3" fill="#E3E324"/>
<rect x="170.8" y="847.3" width="23.2" height="26.3" fill="#A8DB34"/>
<rect x="193.1" y="847.3" width="23.2" height="26.3" fill="#AEDC2F"/>
<rect x="215.3" y="847.3" width="23.2" height="26.3" fill="#7DD34F"/>
<rect x="237.5" y="847.3" width="23.2" height="26.3" fill="#C9E023"/>
<rect x="259.8" y="847.3" width="23.2" height="26.3" fill="#44BE71"/>
<rect x="282.0" y="847.3" width="23.2" height="26.3" fill="#277F8E"/>
<rect x="304.3" y="847.3" width="23.2" height="26.3" fill="#277F8E"/>
<rect x="326.5" y="847.3" width="23.2" height="26.3" fill="#22908C"/>
<rect x="348.7" y="847.3" width="23.2" height="26.3" fill="#277F8E"/>
<rect x="371.0" y="847.3" width="23.2" height="26.3" fill="#2AAF80"/>
<rect x="393.2" y="847.3" width="23.2" height="26.3" fill="#22908C"/>
<rect x="415.5" y="847.3" width="23.2" height="26.3" fill="#21A088"/>
<rect x="437.7" y="847.3" width="23.2" height="26.3" fill="#277F8E"/>
<rect x="459.9" y="847.3" width="23.2" height="26.3" fill="#277F8E"/>
<rect x="482.2" y="847.3" width="23.2" height="26.3" fill="#21A088"/>
<rect x="504.4" y="847.3" width="23.2" height="26.3" fill="#2AAF80"/>
<rect x="526.7" y="847.3" width="23.2" height="26.3" fill="#2AAF80"/>
<rect x="548.9" y="847.3" width="23.2" height="26.3" fill="#2AAF80"/>
<rect x="571.1" y="847.3" width="23.2" height="26.3" fill="#2AAF80"/>
<rect x="593.4" y="847.3" width="23.2" height="26.3" fill="#22908C"/>
<rect x="615.6" y="847.3" width="23.2" height="26.3" fill="#22908C"/>
<rect x="637.9" y="847.3" width="23.2" height="26.3" fill="#2D6F8E"/>
<rect x="660.1" y="847.3" width="23.2" height="26.3" fill="#404687"/>
<rect x="682.3" y="847.3" width="23.2" height="26.3" fill="#2D6F8E"/>
<rect x="704.6" y="847.3" width="23.2" height="26.3" fill="#22908C"/>
<rect x="726.8" y="847.3" width="23.2" height="26.3" fill="#22908C"/>
<rect x="749.1" y="847.3" width="23.2" height="26.3" fill="#E3E324"/>
<rect x="771.3" y="847.3" width="23.2" height="26.3" fill="#AEDC2F"/>
<rect x="793.5" y="847.3" width="23.2" height="26.3" fill="#E3E324"/>
<rect x="815.8" y="847.3" width="23.2" height="26.3" fill="#DDE324"/>
<rect x="838.0" y="847.3" width="23.2" height="26.3" fill="#E3E324"/>
<rect x="860.3" y="847.3" width="23.2" height="26.3" fill="#E3E324"/>
<rect x="882.5" y="847.3" width="23.2" height="26.3" fill="#E3E324"/>
<rect x="170.8" y="872.6" width="23.2" height="26.3" fill="#D2E124"/>
<rect x="193.1" y="872.6" width="23.2" height="26.3" fill="#E3E324"/>
<rect x="215.3" y="872.6" width="23.2" height="26.3" fill="#C9E023"/>
<rect x="237.5" y="872.6" width="23.2" height="26.3" fill="#C9E023"/>
<rect x="259.8" y="872.6" width="23.2" height="26.3" fill="#64CB5E"/>
<rect x="282.0" y="872.6" width="23.2" height="26.3" fill="#22908C"/>
<rect x="304.3" y="872.6" width="23.2" height="26.3" fill="#375C8C"/>
<rect x="326.5" y="872.6" width="23.2" height="26.3" fill="#22908C"/>
<rect x="348.7" y="872.6" width="23.2" height="26.3" fill="#2AAF80"/>
<rect x="371.0" y="872.6" width="23.2" height="26.3" fill="#277F8E"/>
<rect x="393.2" y="872.6" width="23.2" height="26.3" fill="#277F8E"/>
<rect x="415.5" y="872.6" width="23.2" height="26.3" fill="#2D6F8E"/>
<rect x="437.7" y="872.6" width="23.2" height="26.3" fill="#2D6F8E"/>
<rect x="459.9" y="872.6" width="23.2" height="26.3" fill="#277F8E"/>
<rect x="482.2" y="872.6" width="23.2" height="26.3" fill="#277F8E"/>
<rect x="504.4" y="872.6" width="23.2" height="26.3" fill="#22908C"/>
<rect x="526.7" y="872.6" width="23.2" height="26.3" fill="#22908C"/>
<rect x="548.9" y="872.6" width="23.2" height="26.3" fill="#22908C"/>
<rect x="571.1" y="872.6" width="23.2" height="26.3" fill="#22908C"/>
<rect x="593.4" y="872.6" width="23.2" height="26.3" fill="#22908C"/>
<rect x="615.6" y="872.6" width="23.2" height="26.3" fill="#22908C"/>
<rect x="637.9" y="872.6" width="23.2" height="26.3" fill="#2AAF80"/>
<rect x="660.1" y="872.6" width="23.2" height="26.3" fill="#2D6F8E"/>
<rect x="682.3" y="872.6" width="23.2" height="26.3" fill="#2D6F8E"/>
<rect x="704.6" y="872.6" width="23.2" height="26.3" fill="#22908C"/>
<rect x="726.8" y="872.6" width="23.2" height="26.3" fill="#E3E324"/>
<rect x="749.1" y="872.6" width="23.2" height="26.3" fill="#94D741"/>
<rect x="771.3" y="872.6" width="23.2" height="26.3" fill="#E3E324"/>
<rect x="793.5" y="872.6" width="23.2" height="26.3" fill="#D2E124"/>
<rect x="815.8" y="872.6" width="23.2" height="26.3" fill="#E3E324"/>
<rect x="838.0" y="872.6" width="23.2" height="26.3" fill="#E1E324"/>
<rect x="860.3" y="872.6" width="23.2" height="26.3" fill="#E3E324"/>
<rect x="882.5" y="872.6" width="23.2" height="26.3" fill="#E3E324"/>
<rect x="170.8" y="897.9" width="23.2" height="26.3" fill="#E3E324"/>
<rect x="193.1" y="897.9" width="23.2" height="26.3" fill="#E3E324"/>
<rect x="215.3" y="897.9" width="23.2" height="26.3" fill="#E3E324"/>
<rect x="237.5" y="897.9" width="23.2" height="26.3" fill="#AEDC2F"/>
<rect x="259.8" y="897.9" width="23.2" height="26.3" fill="#44BE71"/>
<rect x="282.0" y="897.9" width="23.2" height="26.3" fill="#22908C"/>
<rect x="304.3" y="897.9" width="23.2" height="26.3" fill="#45347F"/>
<rect x="326.5" y="897.9" width="23.2" height="26.3" fill="#45347F"/>
<rect x="348.7" y="897.9" width="23.2" height="26.3" fill="#2D6F8E"/>
<rect x="371.0" y="897.9" width="23.2" height="26.3" fill="#404687"/>
<rect x="393.2" y="897.9" width="23.2" height="26.3" fill="#404687"/>
<rect x="415.5" y="897.9" width="23.2" height="26.3" fill="#2D6F8E"/>
<rect x="437.7" y="897.9" width="23.2" height="26.3" fill="#22908C"/>
<rect x="459.9" y="897.9" width="23.2" height="26.3" fill="#2D6F8E"/>
<rect x="482.2" y="897.9" width="23.2" height="26.3" fill="#2D6F8E"/>
<rect x="504.4" y="897.9" width="23.2" height="26.3" fill="#2D6F8E"/>
<rect x="526.7" y="897.9" width="23.2" height="26.3" fill="#2D6F8E"/>
<rect x="548.9" y="897.9" width="23.2" height="26.3" fill="#2D6F8E"/>
<rect x="571.1" y="897.9" width="23.2" height="26.3" fill="#22908C"/>
<rect x="593.4" y="897.9" width="23.2" height="26.3" fill="#2D6F8E"/>
<rect x="615.6" y="897.9" width="23.2" height="26.3" fill="#2D6F8E"/>
<rect x="637.9" y="897.9" width="23.2" height="26.3" fill="#22908C"/>
<rect x="660.1" y="897.9" width="23.2" height="26.3" fill="#2AAF80"/>
<rect x="682.3" y="897.9" width="23.2" height="26.3" fill="#E3E324"/>
<rect x="704.6" y="897.9" width="23.2" height="26.3" fill="#51C56A"/>
<rect x="726.8" y="897.9" width="23.2" height="26.3" fill="#64CB5E"/>
<rect x="749.1" y="897.9" width="23.2" height="26.3" fill="#E3E324"/>
<rect x="771.3" y="897.9" width="23.2" height="26.3" fill="#CCE023"/>
<rect x="793.5" y="897.9" width="23.2" height="26.3" fill="#E3E324"/>
<rect x="815.8" y="897.9" width="23.2" height="26.3" fill="#DDE324"/>
<rect x="838.0" y="897.9" width="23.2" height="26.3" fill="#E3E324"/>
<rect x="860.3" y="897.9" width="23.2" height="26.3" fill="#E2E324"/>
<rect x="882.5" y="897.9" width="23.2" height="26.3" fill="#E3E324"/>
<rect x="170.8" y="923.2" width="23.2" height="26.3" fill="#E3E324"/>
<rect x="193.1" y="923.2" width="23.2" height="26.3" fill="#E3E324"/>
<rect x="215.3" y="923.2" width="23.2" height="26.3" fill="#E3E324"/>
<rect x="237.5" y="923.2" width="23.2" height="26.3" fill="#86D549"/>
<rect x="259.8" y="923.2" width="23.2" height="26.3" fill="#86D549"/>
<rect x="282.0" y="923.2" width="23.2" height="26.3" fill="#44BE71"/>
<rect x="304.3" y="923.2" width="23.2" height="26.3" fill="#277F8E"/>
<rect x="326.5" y="923.2" width="23.2" height="26.3" fill="#2D6F8E"/>
<rect x="348.7" y="923.2" width="23.2" height="26.3" fill="#2D6F8E"/>
<rect x="371.0" y="923.2" width="23.2" height="26.3" fill="#404687"/>
<rect x="393.2" y="923.2" width="23.2" height="26.3" fill="#2D6F8E"/>
<rect x="415.5" y="923.2" width="23.2" height="26.3" fill="#21A088"/>
<rect x="437.7" y="923.2" width="23.2" height="26.3" fill="#2AAF80"/>
<rect x="459.9" y="923.2" width="23.2" height="26.3" fill="#2AAF80"/>
<rect x="482.2" y="923.2" width="23.2" height="26.3" fill="#277F8E"/>
<rect x="504.4" y="923.2" width="23.2" height="26.3" fill="#2D6F8E"/>
<rect x="526.7" y="923.2" width="23.2" height="26.3" fill="#2D6F8E"/>
<rect x="548.9" y="923.2" width="23.2" height="26.3" fill="#22908C"/>
<rect x="571.1" y="923.2" width="23.2" height="26.3" fill="#22908C"/>
<rect x="593.4" y="923.2" width="23.2" height="26.3" fill="#22908C"/>
<rect x="615.6" y="923.2" width="23.2" height="26.3" fill="#2D6F8E"/>
<rect x="637.9" y="923.2" width="23.2" height="26.3" fill="#2AAF80"/>
<rect x="660.1" y="923.2" width="23.2" height="26.3" fill="#E3E324"/>
<rect x="682.3" y="923.2" width="23.2" height="26.3" fill="#AEDC2F"/>
<rect x="704.6" y="923.2" width="23.2" height="26.3" fill="#E3E324"/>
<rect x="726.8" y="923.2" width="23.2" height="26.3" fill="#A9DB33"/>
<rect x="749.1" y="923.2" width="23.2" height="26.3" fill="#AEDC2F"/>
<rect x="771.3" y="923.2" width="23.2" height="26.3" fill="#E3E324"/>
<rect x="793.5" y="923.2" width="23.2" height="26.3" fill="#DBE224"/>
<rect x="815.8" y="923.2" width="23.2" height="26.3" fill="#E3E324"/>
<rect x="838.0" y="923.2" width="23.2" height="26.3" fill="#E1E324"/>
<rect x="860.3" y="923.2" width="23.2" height="26.3" fill="#E3E324"/>
<rect x="882.5" y="923.2" width="23.2" height="26.3" fill="#E3E324"/>
<rect x="170.8" y="948.5" width="23.2" height="26.3" fill="#E3E324"/>
<rect x="193.1" y="948.5" width="23.2" height="26.3" fill="#E3E324"/>
<rect x="215.3" y="948.5" width="23.2" height="26.3" fill="#D0E123"/>
<rect x="237.5" y="948.5" width="23.2" height="26.3" fill="#E3E324"/>
<rect x="259.8" y="948.5" width="23.2" height="26.3" fill="#AEDC2F"/>
<rect x="282.0" y="948.5" width="23.2" height="26.3" fill="#86D549"/>
<rect x="304.3" y="948.5" width="23.2" height="26.3" fill="#2AAF80"/>
<rect x="326.5" y="948.5" width="23.2" height="26.3" fill="#44BE71"/>
<rect x="348.7" y="948.5" width="23.2" height="26.3" fill="#64CB5E"/>
<rect x="371.0" y="948.5" width="23.2" height="26.3" fill="#44BE71"/>
<rect x="393.2" y="948.5" width="23.2" height="26.3" fill="#64CB5E"/>
<rect x="415.5" y="948.5" width="23.2" height="26.3" fill="#2AAF80"/>
<rect x="437.7" y="948.5" width="23.2" height="26.3" fill="#64CB5E"/>
<rect x="459.9" y="948.5" width="23.2" height="26.3" fill="#22908C"/>
<rect x="482.2" y="948.5" width="23.2" height="26.3" fill="#277F8E"/>
<rect x="504.4" y="948.5" width="23.2" height="26.3" fill="#2D6F8E"/>
<rect x="526.7" y="948.5" width="23.2" height="26.3" fill="#2D6F8E"/>
<rect x="548.9" y="948.5" width="23.2" height="26.3" fill="#22908C"/>
<rect x="571.1" y="948.5" width="23.2" height="26.3" fill="#2AAF80"/>
<rect x="593.4" y="948.5" width="23.2" height="26.3" fill="#2AAF80"/>
<rect x="615.6" y="948.5" width="23.2" height="26.3" fill="#AEDC2F"/>
<rect x="637.9" y="948.5" width="23.2" height="26.3" fill="#E3E324"/>
<rect x="660.1" y="948.5" width="23.2" height="26.3" fill="#AEDC2F"/>
<rect x="682.3" y="948.5" width="23.2" height="26.3" fill="#E3E324"/>
<rect x="704.6" y="948.5" width="23.2" height="26.3" fill="#D2E124"/>
<rect x="726.8" y="948.5" width="23.2" height="26.3" fill="#E3E324"/>
<rect x="749.1" y="948.5" width="23.2" height="26.3" fill="#C8E023"/>
<rect x="771.3" y="948.5" width="23.2" height="26.3" fill="#C9E023"/>
<rect x="793.5" y="948.5" width="23.2" height="26.3" fill="#E3E324"/>
<rect x="815.8" y="948.5" width="23.2" height="26.3" fill="#E0E324"/>
<rect x="838.0" y="948.5" width="23.2" height="26.3" fill="#E3E324"/>
<rect x="860.3" y="948.5" width="23.2" height="26.3" fill="#E2E324"/>
<rect x="882.5" y="948.5" width="23.2" height="26.3" fill="#E3E324"/>
<rect x="170.8" y="973.8" width="23.2" height="26.3" fill="#E3E324"/>
<rect x="193.1" y="973.8" width="23.2" height="26.3" fill="#DEE324"/>
<rect x="215.3" y="973.8" width="23.2" height="26.3" fill="#E3E324"/>
<rect x="237.5" y="973.8" width="23.2" height="26.3" fill="#E3E324"/>
<rect x="259.8" y="973.8" width="23.2" height="26.3" fill="#E3E324"/>
<rect x="282.0" y="973.8" width="23.2" height="26.3" fill="#E3E324"/>
<rect x="304.3" y="973.8" width="23.2" height="26.3" fill="#64CB5E"/>
<rect x="326.5" y="973.8" width="23.2" height="26.3" fill="#64CB5E"/>
<rect x="348.7" y="973.8" width="23.2" height="26.3" fill="#E3E324"/>
<rect x="371.0" y="973.8" width="23.2" height="26.3" fill="#E3E324"/>
<rect x="393.2" y="973.8" width="23.2" height="26.3" fill="#E3E324"/>
<rect x="415.5" y="973.8" width="23.2" height="26.3" fill="#E3E324"/>
<rect x="437.7" y="973.8" width="23.2" height="26.3" fill="#51C56A"/>
<rect x="459.9" y="973.8" width="23.2" height="26.3" fill="#21A088"/>
<rect x="482.2" y="973.8" width="23.2" height="26.3" fill="#277F8E"/>
<rect x="504.4" y="973.8" width="23.2" height="26.3" fill="#1E9C8A"/>
<rect x="526.7" y="973.8" width="23.2" height="26.3" fill="#E3E324"/>
<rect x="548.9" y="973.8" width="23.2" height="26.3" fill="#E3E324"/>
<rect x="571.1" y="973.8" width="23.2" height="26.3" fill="#E3E324"/>
<rect x="593.4" y="973.8" width="23.2" height="26.3" fill="#75D054"/>
<rect x="615.6" y="973.8" width="23.2" height="26.3" fill="#94D741"/>
<rect x="637.9" y="973.8" width="23.2" height="26.3" fill="#C9E023"/>
<rect x="660.1" y="973.8" width="23.2" height="26.3" fill="#E3E324"/>
<rect x="682.3" y="973.8" width="23.2" height="26.3" fill="#D2E124"/>
<rect x="704.6" y="973.8" width="23.2" height="26.3" fill="#E3E324"/>
<rect x="726.8" y="973.8" width="23.2" height="26.3" fill="#DDE324"/>
<rect x="749.1" y="973.8" width="23.2" height="26.3" fill="#E3E324"/>
<rect x="771.3" y="973.8" width="23.2" height="26.3" fill="#D6E224"/>
<rect x="793.5" y="973.8" width="23.2" height="26.3" fill="#D6E224"/>
<rect x="815.8" y="973.8" width="23.2" height="26.3" fill="#E3E324"/>
<rect x="838.0" y="973.8" width="23.2" height="26.3" fill="#E2E324"/>
<rect x="860.3" y="973.8" width="23.2" height="26.3" fill="#E3E324"/>
<rect x="882.5" y="973.8" width="23.2" height="26.3" fill="#E3E324"/>
<rect x="170.8" y="999.1" width="23.2" height="26.3" fill="#E1E324"/>
<rect x="193.1" y="999.1" width="23.2" height="26.3" fill="#E3E324"/>
<rect x="215.3" y="999.1" width="23.2" height="26.3" fill="#E3E324"/>
<rect x="237.5" y="999.1" width="23.2" height="26.3" fill="#E3E324"/>
<rect x="259.8" y="999.1" width="23.2" height="26.3" fill="#E3E324"/>
<rect x="282.0" y="999.1" width="23.2" height="26.3" fill="#E3E324"/>
<rect x="304.3" y="999.1" width="23.2" height="26.3" fill="#AEDC2F"/>
<rect x="326.5" y="999.1" width="23.2" height="26.3" fill="#E3E324"/>
<rect x="348.7" y="999.1" width="23.2" height="26.3" fill="#C9E023"/>
<rect x="371.0" y="999.1" width="23.2" height="26.3" fill="#E3E324"/>
<rect x="393.2" y="999.1" width="23.2" height="26.3" fill="#E3E324"/>
<rect x="415.5" y="999.1" width="23.2" height="26.3" fill="#E3E324"/>
<rect x="437.7" y="999.1" width="23.2" height="26.3" fill="#E3E324"/>
<rect x="459.9" y="999.1" width="23.2" height="26.3" fill="#40BC73"/>
<rect x="482.2" y="999.1" width="23.2" height="26.3" fill="#2DB17E"/>
<rect x="504.4" y="999.1" width="23.2" height="26.3" fill="#E3E324"/>
<rect x="526.7" y="999.1" width="23.2" height="26.3" fill="#E3E324"/>
<rect x="548.9" y="999.1" width="23.2" height="26.3" fill="#E3E324"/>
<rect x="571.1" y="999.1" width="23.2" height="26.3" fill="#E3E324"/>
<rect x="593.4" y="999.1" width="23.2" height="26.3" fill="#E3E324"/>
<rect x="615.6" y="999.1" width="23.2" height="26.3" fill="#B4DD2C"/>
<rect x="637.9" y="999.1" width="23.2" height="26.3" fill="#C3DF23"/>
<rect x="660.1" y="999.1" width="23.2" height="26.3" fill="#D6E224"/>
<rect x="682.3" y="999.1" width="23.2" height="26.3" fill="#E3E324"/>
<rect x="704.6" y="999.1" width="23.2" height="26.3" fill="#DDE324"/>
<rect x="726.8" y="999.1" width="23.2" height="26.3" fill="#E3E324"/>
<rect x="749.1" y="999.1" width="23.2" height="26.3" fill="#E1E324"/>
<rect x="771.3" y="999.1" width="23.2" height="26.3" fill="#E3E324"/>
<rect x="793.5" y="999.1" width="23.2" height="26.3" fill="#DCE324"/>
<rect x="815.8" y="999.1" width="23.2" height="26.3" fill="#DDE324"/>
<rect x="838.0" y="999.1" width="23.2" height="26.3" fill="#E3E324"/>
<rect x="860.3" y="999.1" width="23.2" height="26.3" fill="#E3E324"/>
<rect x="882.5" y="999.1" width="23.2" height="26.3" fill="#E3E324"/>
</g>
<polyline points="901.7,611.8 901.7,628.5 897.9,629.0 897.9,636.9 894.2,637.4 894.2,649.5 890.9,650.0 890.9,670.5 887.2,670.9 887.2,683.1 883.5,683.5 883.5,695.6 879.8,696.1 879.8,704.0 871.8,704.5 866.4,711.6 849.0,723.2 834.5,742.0 820.0,769.6 808.4,787.0 801.2,800.0 786.7,823.2 772.2,839.1 753.3,856.5 738.8,872.5 727.2,884.1 715.7,895.7 701.2,908.7 689.6,920.3 675.1,930.4 656.2,943.5 646.1,952.2 634.5,956.5 627.3,957.6 619.5,957.6 619.5,961.5 605.5,961.5 605.5,965.4 586.9,965.4 583.0,970.1 583.0,978.6 564.4,978.6 564.4,974.7 549.6,974.7 545.7,978.6 545.7,987.1 527.1,987.1 527.1,983.3 516.2,982.5 516.2,978.6 493.7,978.6 493.7,974.7 482.9,974.7 482.9,977.8 479.0,978.6 479.0,982.5 468.1,982.5 468.1,978.6 423.9,978.6 423.9,982.5 416.1,987.1 412.2,991.0 412.2,994.9 389.7,995.7 389.7,999.6 378.8,999.6 378.8,995.7 368.0,995.7 368.0,999.6 349.3,999.6 345.4,1003.4 345.4,1007.3 337.8,1011.7 331.0,1012.4 331.0,1016.1 308.6,1016.1 308.6,1012.4 304.9,1011.7 304.9,1008.0 294.3,1007.4 294.3,1003.7 286.3,999.9 286.3,995.6 271.4,995.0 271.4,978.8 264.5,981.9 260.2,982.5 260.2,995.0 257.1,995.0 257.1,991.2 253.4,990.6 253.4,983.2 249.6,982.5 249.6,974.5 253.4,973.9 253.4,962.0 257.1,961.4 257.1,957.7 253.4,957.1 253.4,954.0 249.6,953.4 249.6,945.3 242.2,944.7 242.2,940.3 238.4,936.0 234.7,931.6 231.0,927.9 231.0,907.4 242.2,907.4 242.2,911.1 245.9,907.4 249.6,907.4 249.6,898.7 252.7,898.1 252.7,895.0 249.6,894.3 249.6,865.2 245.9,864.5 242.2,856.5 238.4,852.1 234.7,847.8 231.0,843.4 227.3,834.7 223.5,831.0 219.8,822.3 216.1,817.3 212.4,809.9 208.6,801.2 204.9,796.2 204.7,784.5 201.0,784.0 201.0,776.1 197.3,775.6 197.3,763.5 194.0,763.1 194.0,751.0 190.3,750.5 190.3,742.6 186.6,742.1 186.6,730.0 182.8,729.5 182.8,725.8 179.1,725.3 179.1,717.4 175.4,716.9 175.4,713.2 171.6,712.7 171.6,704.8 167.9,704.3 167.9,696.0 175.4,696.0 175.4,692.2 182.8,691.8 182.8,679.2 186.6,678.7 186.6,670.8 201.0,670.8 201.0,675.0 204.7,675.0 204.7,678.7 212.2,679.2 212.2,696.0 215.9,696.4 215.9,704.3 227.1,704.8 227.1,708.5 242.0,709.0 242.0,713.2 286.3,713.2 286.3,716.9 290.5,716.9 290.5,709.0 294.2,708.5 294.2,704.8 301.2,704.3 301.2,700.6 304.9,700.1 304.9,696.4 312.4,696.0 312.4,692.2 323.6,691.8" fill="none" stroke="#F4E52A" stroke-width="14" stroke-linejoin="round" filter="url(#bl2)"/>
<rect x="160" y="360" width="750" height="670" fill="#EBEBEB" fill-opacity="0.12"/>
</g></g>
</g>
<g transform="translate(0,802)">
<rect x="131" y="270" width="807" height="69" fill="#D9D9D9"/>
<text x="534.5" y="316.8" text-anchor="middle" font-family="DejaVu Sans" font-size="36.67" fill="#1A1A1A">med</text>
<rect x="131" y="339" width="807" height="710" fill="#EBEBEB"/>
<rect x="324.78" y="339" width="4.44" height="710" fill="#FFFFFF"/>
<rect x="547.18" y="339" width="4.44" height="710" fill="#FFFFFF"/>
<rect x="769.58" y="339" width="4.44" height="710" fill="#FFFFFF"/>
<rect x="131" y="364.98" width="807" height="4.44" fill="#FFFFFF"/>
<rect x="131" y="466.16" width="807" height="4.44" fill="#FFFFFF"/>
<rect x="131" y="567.34" width="807" height="4.44" fill="#FFFFFF"/>
<rect x="131" y="668.52" width="807" height="4.44" fill="#FFFFFF"/>
<rect x="131" y="769.70" width="807" height="4.44" fill="#FFFFFF"/>
<rect x="131" y="870.88" width="807" height="4.44" fill="#FFFFFF"/>
<rect x="131" y="972.06" width="807" height="4.44" fill="#FFFFFF"/>
<g clip-path="url(#sa)"><g>
<g filter="url(#bl)">
<rect x="170.8" y="366.7" width="23.2" height="26.3" fill="#482173"/>
<rect x="193.1" y="366.7" width="23.2" height="26.3" fill="#482173"/>
<rect x="215.3" y="366.7" width="23.2" height="26.3" fill="#482173"/>
<rect x="237.5" y="366.7" width="23.2" height="26.3" fill="#482173"/>
<rect x="259.8" y="366.7" width="23.2" height="26.3" fill="#482173"/>
<rect x="282.0" y="366.7" width="23.2" height="26.3" fill="#482173"/>
<rect x="304.3" y="366.7" width="23.2" height="26.3" fill="#482173"/>
<rect x="326.5" y="366.7" width="23.2" height="26.3" fill="#482173"/>
<rect x="348.7" y="366.7" width="23.2" height="26.3" fill="#482173"/>
<rect x="371.0" y="366.7" width="23.2" height="26.3" fill="#482173"/>
<rect x="393.2" y="366.7" width="23.2" height="26.3" fill="#482173"/>
<rect x="415.5" y="366.7" width="23.2" height="26.3" fill="#482173"/>
<rect x="437.7" y="366.7" width="23.2" height="26.3" fill="#482173"/>
<rect x="459.9" y="366.7" width="23.2" height="26.3" fill="#45347F"/>
<rect x="482.2" y="366.7" width="23.2" height="26.3" fill="#404687"/>
<rect x="504.4" y="366.7" width="23.2" height="26.3" fill="#404687"/>
<rect x="526.7" y="366.7" width="23.2" height="26.3" fill="#375B8C"/>
<rect x="548.9" y="366.7" width="23.2" height="26.3" fill="#2D6F8E"/>
<rect x="571.1" y="366.7" width="23.2" height="26.3" fill="#375B8C"/>
<rect x="593.4" y="366.7" width="23.2" height="26.3" fill="#404687"/>
<rect x="615.6" y="366.7" width="23.2" height="26.3" fill="#433D85"/>
<rect x="637.9" y="366.7" width="23.2" height="26.3" fill="#45317D"/>
<rect x="660.1" y="366.7" width="23.2" height="26.3" fill="#482173"/>
<rect x="682.3" y="366.7" width="23.2" height="26.3" fill="#482173"/>
<rect x="704.6" y="366.7" width="23.2" height="26.3" fill="#482173"/>
<rect x="726.8" y="366.7" width="23.2" height="26.3" fill="#482173"/>
<rect x="749.1" y="366.7" width="23.2" height="26.3" fill="#482173"/>
<rect x="771.3" y="366.7" width="23.2" height="26.3" fill="#482173"/>
<rect x="793.5" y="366.7" width="23.2" height="26.3" fill="#482173"/>
<rect x="815.8" y="366.7" width="23.2" height="26.3" fill="#2D6F8E"/>
<rect x="838.0" y="366.7" width="23.2" height="26.3" fill="#443A83"/>
<rect x="860.3" y="366.7" width="23.2" height="26.3" fill="#482173"/>
<rect x="882.5" y="366.7" width="23.2" height="26.3" fill="#482173"/>
<rect x="170.8" y="392.0" width="23.2" height="26.3" fill="#482173"/>
<rect x="193.1" y="392.0" width="23.2" height="26.3" fill="#482173"/>
<rect x="215.3" y="392.0" width="23.2" height="26.3" fill="#482173"/>
<rect x="237.5" y="392.0" width="23.2" height="26.3" fill="#482173"/>
<rect x="259.8" y="392.0" width="23.2" height="26.3" fill="#482173"/>
<rect x="282.0" y="392.0" width="23.2" height="26.3" fill="#482173"/>
<rect x="304.3" y="392.0" width="23.2" height="26.3" fill="#482173"/>
<rect x="326.5" y="392.0" width="23.2" height="26.3" fill="#482173"/>
<rect x="348.7" y="392.0" width="23.2" height="26.3" fill="#482173"/>
<rect x="371.0" y="392.0" width="23.2" height="26.3" fill="#482173"/>
<rect x="393.2" y="392.0" width="23.2" height="26.3" fill="#482173"/>
<rect x="415.5" y="392.0" width="23.2" height="26.3" fill="#482173"/>
<rect x="437.7" y="392.0" width="23.2" height="26.3" fill="#482173"/>
<rect x="459.9" y="392.0" width="23.2" height="26.3" fill="#462B79"/>
<rect x="482.2" y="392.0" width="23.2" height="26.3" fill="#404687"/>
<rect x="504.4" y="392.0" width="23.2" height="26.3" fill="#404687"/>
<rect x="526.7" y="392.0" width="23.2" height="26.3" fill="#404687"/>
<rect x="548.9" y="392.0" width="23.2" height="26.3" fill="#385A8C"/>
<rect x="571.1" y="392.0" width="23.2" height="26.3" fill="#2D6F8E"/>
<rect x="593.4" y="392.0" width="23.2" height="26.3" fill="#385A8C"/>
<rect x="615.6" y="392.0" width="23.2" height="26.3" fill="#404687"/>
<rect x="637.9" y="392.0" width="23.2" height="26.3" fill="#45347F"/>
<rect x="660.1" y="392.0" width="23.2" height="26.3" fill="#462A79"/>
<rect x="682.3" y="392.0" width="23.2" height="26.3" fill="#482173"/>
<rect x="704.6" y="392.0" width="23.2" height="26.3" fill="#482173"/>
<rect x="726.8" y="392.0" width="23.2" height="26.3" fill="#440154"/>
<rect x="749.1" y="392.0" width="23.2" height="26.3" fill="#482173"/>
<rect x="771.3" y="392.0" width="23.2" height="26.3" fill="#482173"/>
<rect x="793.5" y="392.0" width="23.2" height="26.3" fill="#482173"/>
<rect x="815.8" y="392.0" width="23.2" height="26.3" fill="#482173"/>
<rect x="838.0" y="392.0" width="23.2" height="26.3" fill="#482173"/>
<rect x="860.3" y="392.0" width="23.2" height="26.3" fill="#482173"/>
<rect x="882.5" y="392.0" width="23.2" height="26.3" fill="#472575"/>
<rect x="170.8" y="417.3" width="23.2" height="26.3" fill="#482173"/>
<rect x="193.1" y="417.3" width="23.2" height="26.3" fill="#482173"/>
<rect x="215.3" y="417.3" width="23.2" height="26.3" fill="#482173"/>
<rect x="237.5" y="417.3" width="23.2" height="26.3" fill="#482173"/>
<rect x="259.8" y="417.3" width="23.2" height="26.3" fill="#482173"/>
<rect x="282.0" y="417.3" width="23.2" height="26.3" fill="#482173"/>
<rect x="304.3" y="417.3" width="23.2" height="26.3" fill="#482173"/>
<rect x="326.5" y="417.3" width="23.2" height="26.3" fill="#482173"/>
<rect x="348.7" y="417.3" width="23.2" height="26.3" fill="#482173"/>
<rect x="371.0" y="417.3" width="23.2" height="26.3" fill="#482173"/>
<rect x="393.2" y="417.3" width="23.2" height="26.3" fill="#482173"/>
<rect x="415.5" y="417.3" width="23.2" height="26.3" fill="#482173"/>
<rect x="437.7" y="417.3" width="23.2" height="26.3" fill="#482173"/>
<rect x="459.9" y="417.3" width="23.2" height="26.3" fill="#482173"/>
<rect x="482.2" y="417.3" width="23.2" height="26.3" fill="#462E7B"/>
<rect x="504.4" y="417.3" width="23.2" height="26.3" fill="#404687"/>
<rect x="526.7" y="417.3" width="23.2" height="26.3" fill="#404687"/>
<rect x="548.9" y="417.3" width="23.2" height="26.3" fill="#404687"/>
<rect x="571.1" y="417.3" width="23.2" height="26.3" fill="#3A558B"/>
<rect x="593.4" y="417.3" width="23.2" height="26.3" fill="#2D6F8E"/>
<rect x="615.6" y="417.3" width="23.2" height="26.3" fill="#3A558B"/>
<rect x="637.9" y="417.3" width="23.2" height="26.3" fill="#404687"/>
<rect x="660.1" y="417.3" width="23.2" height="26.3" fill="#482173"/>
<rect x="682.3" y="417.3" width="23.2" height="26.3" fill="#482173"/>
<rect x="704.6" y="417.3" width="23.2" height="26.3" fill="#440154"/>
<rect x="726.8" y="417.3" width="23.2" height="26.3" fill="#482173"/>
<rect x="749.1" y="417.3" width="23.2" height="26.3" fill="#482173"/>
<rect x="771.3" y="417.3" width="23.2" height="26.3" fill="#482173"/>
<rect x="793.5" y="417.3" width="23.2" height="26.3" fill="#440154"/>
<rect x="815.8" y="417.3" width="23.2" height="26.3" fill="#482173"/>
<rect x="838.0" y="417.3" width="23.2" height="26.3" fill="#482173"/>
<rect x="860.3" y="417.3" width="23.2" height="26.3" fill="#462D7B"/>
<rect x="882.5" y="417.3" width="23.2" height="26.3" fill="#45327E"/>
<rect x="170.8" y="442.6" width="23.2" height="26.3" fill="#482273"/>
<rect x="193.1" y="442.6" width="23.2" height="26.3" fill="#482173"/>
<rect x="215.3" y="442.6" width="23.2" height="26.3" fill="#482173"/>
<rect x="237.5" y="442.6" width="23.2" height="26.3" fill="#482173"/>
<rect x="259.8" y="442.6" width="23.2" height="26.3" fill="#482173"/>
<rect x="282.0" y="442.6" width="23.2" height="26.3" fill="#482173"/>
<rect x="304.3" y="442.6" width="23.2" height="26.3" fill="#482173"/>
<rect x="326.5" y="442.6" width="23.2" height="26.3" fill="#482173"/>
<rect x="348.7" y="442.6" width="23.2" height="26.3" fill="#482173"/>
<rect x="371.0" y="442.6" width="23.2" height="26.3" fill="#482173"/>
<rect x="393.2" y="442.6" width="23.2" height="26.3" fill="#482173"/>
<rect x="415.5" y="442.6" width="23.2" height="26.3" fill="#482173"/>
<rect x="437.7" y="442.6" width="23.2" height="26.3" fill="#482173"/>
<rect x="459.9" y="442.6" width="23.2" height="26.3" fill="#482173"/>
<rect x="482.2" y="442.6" width="23.2" height="26.3" fill="#482173"/>
<rect x="504.4" y="442.6" width="23.2" height="26.3" fill="#462F7C"/>
<rect x="526.7" y="442.6" width="23.2" height="26.3" fill="#404687"/>
<rect x="548.9" y="442.6" width="23.2" height="26.3" fill="#404687"/>
<rect x="571.1" y="442.6" width="23.2" height="26.3" fill="#404687"/>
<rect x="593.4" y="442.6" width="23.2" height="26.3" fill="#404687"/>
<rect x="615.6" y="442.6" width="23.2" height="26.3" fill="#2D6F8E"/>
<rect x="637.9" y="442.6" width="23.2" height="26.3" fill="#404687"/>
<rect x="660.1" y="442.6" width="23.2" height="26.3" fill="#404687"/>
<rect x="682.3" y="442.6" width="23.2" height="26.3" fill="#404687"/>
<rect x="704.6" y="442.6" width="23.2" height="26.3" fill="#404687"/>
<rect x="726.8" y="442.6" width="23.2" height="26.3" fill="#404687"/>
<rect x="749.1" y="442.6" width="23.2" height="26.3" fill="#482173"/>
<rect x="771.3" y="442.6" width="23.2" height="26.3" fill="#482173"/>
<rect x="793.5" y="442.6" width="23.2" height="26.3" fill="#482173"/>
<rect x="815.8" y="442.6" width="23.2" height="26.3" fill="#404687"/>
<rect x="838.0" y="442.6" width="23.2" height="26.3" fill="#404687"/>
<rect x="860.3" y="442.6" width="23.2" height="26.3" fill="#45347F"/>
<rect x="882.5" y="442.6" width="23.2" height="26.3" fill="#404687"/>
<rect x="170.8" y="467.9" width="23.2" height="26.3" fill="#433C84"/>
<rect x="193.1" y="467.9" width="23.2" height="26.3" fill="#482374"/>
<rect x="215.3" y="467.9" width="23.2" height="26.3" fill="#482274"/>
<rect x="237.5" y="467.9" width="23.2" height="26.3" fill="#482173"/>
<rect x="259.8" y="467.9" width="23.2" height="26.3" fill="#482173"/>
<rect x="282.0" y="467.9" width="23.2" height="26.3" fill="#482173"/>
<rect x="304.3" y="467.9" width="23.2" height="26.3" fill="#482173"/>
<rect x="326.5" y="467.9" width="23.2" height="26.3" fill="#482173"/>
<rect x="348.7" y="467.9" width="23.2" height="26.3" fill="#482173"/>
<rect x="371.0" y="467.9" width="23.2" height="26.3" fill="#482173"/>
<rect x="393.2" y="467.9" width="23.2" height="26.3" fill="#482173"/>
<rect x="415.5" y="467.9" width="23.2" height="26.3" fill="#482173"/>
<rect x="437.7" y="467.9" width="23.2" height="26.3" fill="#482173"/>
<rect x="459.9" y="467.9" width="23.2" height="26.3" fill="#482173"/>
<rect x="482.2" y="467.9" width="23.2" height="26.3" fill="#482173"/>
<rect x="504.4" y="467.9" width="23.2" height="26.3" fill="#482173"/>
<rect x="526.7" y="467.9" width="23.2" height="26.3" fill="#45347F"/>
<rect x="548.9" y="467.9" width="23.2" height="26.3" fill="#404687"/>
<rect x="571.1" y="467.9" width="23.2" height="26.3" fill="#404687"/>
<rect x="593.4" y="467.9" width="23.2" height="26.3" fill="#404687"/>
<rect x="615.6" y="467.9" width="23.2" height="26.3" fill="#482173"/>
<rect x="637.9" y="467.9" width="23.2" height="26.3" fill="#404687"/>
<rect x="660.1" y="467.9" width="23.2" height="26.3" fill="#2D6F8E"/>
<rect x="682.3" y="467.9" width="23.2" height="26.3" fill="#22908C"/>
<rect x="704.6" y="467.9" width="23.2" height="26.3" fill="#22908C"/>
<rect x="726.8" y="467.9" width="23.2" height="26.3" fill="#404687"/>
<rect x="749.1" y="467.9" width="23.2" height="26.3" fill="#404687"/>
<rect x="771.3" y="467.9" width="23.2" height="26.3" fill="#482173"/>
<rect x="793.5" y="467.9" width="23.2" height="26.3" fill="#482173"/>
<rect x="815.8" y="467.9" width="23.2" height="26.3" fill="#482173"/>
<rect x="838.0" y="467.9" width="23.2" height="26.3" fill="#482173"/>
<rect x="860.3" y="467.9" width="23.2" height="26.3" fill="#404687"/>
<rect x="882.5" y="467.9" width="23.2" height="26.3" fill="#45347F"/>
<rect x="170.8" y="493.2" width="23.2" height="26.3" fill="#2D6F8E"/>
<rect x="193.1" y="493.2" width="23.2" height="26.3" fill="#433E85"/>
<rect x="215.3" y="493.2" width="23.2" height="26.3" fill="#472777"/>
<rect x="237.5" y="493.2" width="23.2" height="26.3" fill="#472475"/>
<rect x="259.8" y="493.2" width="23.2" height="26.3" fill="#482274"/>
<rect x="282.0" y="493.2" width="23.2" height="26.3" fill="#482173"/>
<rect x="304.3" y="493.2" width="23.2" height="26.3" fill="#482173"/>
<rect x="326.5" y="493.2" width="23.2" height="26.3" fill="#482173"/>
<rect x="348.7" y="493.2" width="23.2" height="26.3" fill="#482173"/>
<rect x="371.0" y="493.2" width="23.2" height="26.3" fill="#482173"/>
<rect x="393.2" y="493.2" width="23.2" height="26.3" fill="#482173"/>
<rect x="415.5" y="493.2" width="23.2" height="26.3" fill="#481D6F"/>
<rect x="437.7" y="493.2" width="23.2" height="26.3" fill="#482173"/>
<rect x="459.9" y="493.2" width="23.2" height="26.3" fill="#482173"/>
<rect x="482.2" y="493.2" width="23.2" height="26.3" fill="#482173"/>
<rect x="504.4" y="493.2" width="23.2" height="26.3" fill="#482173"/>
<rect x="526.7" y="493.2" width="23.2" height="26.3" fill="#482173"/>
<rect x="548.9" y="493.2" width="23.2" height="26.3" fill="#404687"/>
<rect x="571.1" y="493.2" width="23.2" height="26.3" fill="#404687"/>
<rect x="593.4" y="493.2" width="23.2" height="26.3" fill="#404687"/>
<rect x="615.6" y="493.2" width="23.2" height="26.3" fill="#482173"/>
<rect x="637.9" y="493.2" width="23.2" height="26.3" fill="#2D6F8E"/>
<rect x="660.1" y="493.2" width="23.2" height="26.3" fill="#2D6F8E"/>
<rect x="682.3" y="493.2" width="23.2" height="26.3" fill="#2D6F8E"/>
<rect x="704.6" y="493.2" width="23.2" height="26.3" fill="#2D6F8E"/>
<rect x="726.8" y="493.2" width="23.2" height="26.3" fill="#404687"/>
<rect x="749.1" y="493.2" width="23.2" height="26.3" fill="#2D6F8E"/>
<rect x="771.3" y="493.2" width="23.2" height="26.3" fill="#404687"/>
<rect x="793.5" y="493.2" width="23.2" height="26.3" fill="#404687"/>
<rect x="815.8" y="493.2" width="23.2" height="26.3" fill="#404687"/>
<rect x="838.0" y="493.2" width="23.2" height="26.3" fill="#404687"/>
<rect x="860.3" y="493.2" width="23.2" height="26.3" fill="#482173"/>
<rect x="882.5" y="493.2" width="23.2" height="26.3" fill="#33628D"/>
<rect x="170.8" y="518.5" width="23.2" height="26.3" fill="#2B758E"/>
<rect x="193.1" y="518.5" width="23.2" height="26.3" fill="#2D6F8E"/>
<rect x="215.3" y="518.5" width="23.2" height="26.3" fill="#414386"/>
<rect x="237.5" y="518.5" width="23.2" height="26.3" fill="#462F7C"/>
<rect x="259.8" y="518.5" width="23.2" height="26.3" fill="#462B79"/>
<rect x="282.0" y="518.5" width="23.2" height="26.3" fill="#472575"/>
<rect x="304.3" y="518.5" width="23.2" height="26.3" fill="#482173"/>
<rect x="326.5" y="518.5" width="23.2" height="26.3" fill="#482173"/>
<rect x="348.7" y="518.5" width="23.2" height="26.3" fill="#482173"/>
<rect x="371.0" y="518.5" width="23.2" height="26.3" fill="#482173"/>
<rect x="393.2" y="518.5" width="23.2" height="26.3" fill="#481F71"/>
<rect x="415.5" y="518.5" width="23.2" height="26.3" fill="#482173"/>
<rect x="437.7" y="518.5" width="23.2" height="26.3" fill="#471668"/>
<rect x="459.9" y="518.5" width="23.2" height="26.3" fill="#482173"/>
<rect x="482.2" y="518.5" width="23.2" height="26.3" fill="#482173"/>
<rect x="504.4" y="518.5" width="23.2" height="26.3" fill="#482173"/>
<rect x="526.7" y="518.5" width="23.2" height="26.3" fill="#462A79"/>
<rect x="548.9" y="518.5" width="23.2" height="26.3" fill="#3C4F89"/>
<rect x="571.1" y="518.5" width="23.2" height="26.3" fill="#404687"/>
<rect x="593.4" y="518.5" width="23.2" height="26.3" fill="#2D6F8E"/>
<rect x="615.6" y="518.5" width="23.2" height="26.3" fill="#2D6F8E"/>
<rect x="637.9" y="518.5" width="23.2" height="26.3" fill="#22908C"/>
<rect x="660.1" y="518.5" width="23.2" height="26.3" fill="#22908C"/>
<rect x="682.3" y="518.5" width="23.2" height="26.3" fill="#22908C"/>
<rect x="704.6" y="518.5" width="23.2" height="26.3" fill="#2D6F8E"/>
<rect x="726.8" y="518.5" width="23.2" height="26.3" fill="#22908C"/>
<rect x="749.1" y="518.5" width="23.2" height="26.3" fill="#22908C"/>
<rect x="771.3" y="518.5" width="23.2" height="26.3" fill="#2AAF80"/>
<rect x="793.5" y="518.5" width="23.2" height="26.3" fill="#404687"/>
<rect x="815.8" y="518.5" width="23.2" height="26.3" fill="#404687"/>
<rect x="838.0" y="518.5" width="23.2" height="26.3" fill="#2D6F8E"/>
<rect x="860.3" y="518.5" width="23.2" height="26.3" fill="#2AAF80"/>
<rect x="882.5" y="518.5" width="23.2" height="26.3" fill="#297A8E"/>
<rect x="170.8" y="543.8" width="23.2" height="26.3" fill="#297B8E"/>
<rect x="193.1" y="543.8" width="23.2" height="26.3" fill="#2B768E"/>
<rect x="215.3" y="543.8" width="23.2" height="26.3" fill="#2D6F8E"/>
<rect x="237.5" y="543.8" width="23.2" height="26.3" fill="#3C4F89"/>
<rect x="259.8" y="543.8" width="23.2" height="26.3" fill="#424085"/>
<rect x="282.0" y="543.8" width="23.2" height="26.3" fill="#443A83"/>
<rect x="304.3" y="543.8" width="23.2" height="26.3" fill="#462D7B"/>
<rect x="326.5" y="543.8" width="23.2" height="26.3" fill="#482173"/>
<rect x="348.7" y="543.8" width="23.2" height="26.3" fill="#482173"/>
<rect x="371.0" y="543.8" width="23.2" height="26.3" fill="#482173"/>
<rect x="393.2" y="543.8" width="23.2" height="26.3" fill="#482173"/>
<rect x="415.5" y="543.8" width="23.2" height="26.3" fill="#47196B"/>
<rect x="437.7" y="543.8" width="23.2" height="26.3" fill="#482173"/>
<rect x="459.9" y="543.8" width="23.2" height="26.3" fill="#440154"/>
<rect x="482.2" y="543.8" width="23.2" height="26.3" fill="#404687"/>
<rect x="504.4" y="543.8" width="23.2" height="26.3" fill="#440154"/>
<rect x="526.7" y="543.8" width="23.2" height="26.3" fill="#482173"/>
<rect x="548.9" y="543.8" width="23.2" height="26.3" fill="#2D6F8E"/>
<rect x="571.1" y="543.8" width="23.2" height="26.3" fill="#2D6F8E"/>
<rect x="593.4" y="543.8" width="23.2" height="26.3" fill="#22908C"/>
<rect x="615.6" y="543.8" width="23.2" height="26.3" fill="#2AAF80"/>
<rect x="637.9" y="543.8" width="23.2" height="26.3" fill="#22908C"/>
<rect x="660.1" y="543.8" width="23.2" height="26.3" fill="#22908C"/>
<rect x="682.3" y="543.8" width="23.2" height="26.3" fill="#2AAF80"/>
<rect x="704.6" y="543.8" width="23.2" height="26.3" fill="#AEDC2F"/>
<rect x="726.8" y="543.8" width="23.2" height="26.3" fill="#AEDC2F"/>
<rect x="749.1" y="543.8" width="23.2" height="26.3" fill="#64CB5E"/>
<rect x="771.3" y="543.8" width="23.2" height="26.3" fill="#2AAF80"/>
<rect x="793.5" y="543.8" width="23.2" height="26.3" fill="#404687"/>
<rect x="815.8" y="543.8" width="23.2" height="26.3" fill="#404687"/>
<rect x="838.0" y="543.8" width="23.2" height="26.3" fill="#2AAF80"/>
<rect x="860.3" y="543.8" width="23.2" height="26.3" fill="#22908C"/>
<rect x="882.5" y="543.8" width="23.2" height="26.3" fill="#21A088"/>
<rect x="170.8" y="569.1" width="23.2" height="26.3" fill="#297C8E"/>
<rect x="193.1" y="569.1" width="23.2" height="26.3" fill="#297A8E"/>
<rect x="215.3" y="569.1" width="23.2" height="26.3" fill="#2B748E"/>
<rect x="237.5" y="569.1" width="23.2" height="26.3" fill="#2D6F8E"/>
<rect x="259.8" y="569.1" width="23.2" height="26.3" fill="#33648D"/>
<rect x="282.0" y="569.1" width="23.2" height="26.3" fill="#33628D"/>
<rect x="304.3" y="569.1" width="23.2" height="26.3" fill="#33628D"/>
<rect x="326.5" y="569.1" width="23.2" height="26.3" fill="#404687"/>
<rect x="348.7" y="569.1" width="23.2" height="26.3" fill="#482173"/>
<rect x="371.0" y="569.1" width="23.2" height="26.3" fill="#471668"/>
<rect x="393.2" y="569.1" width="23.2" height="26.3" fill="#482173"/>
<rect x="415.5" y="569.1" width="23.2" height="26.3" fill="#482173"/>
<rect x="437.7" y="569.1" width="23.2" height="26.3" fill="#440154"/>
<rect x="459.9" y="569.1" width="23.2" height="26.3" fill="#482173"/>
<rect x="482.2" y="569.1" width="23.2" height="26.3" fill="#482173"/>
<rect x="504.4" y="569.1" width="23.2" height="26.3" fill="#440154"/>
<rect x="526.7" y="569.1" width="23.2" height="26.3" fill="#404687"/>
<rect x="548.9" y="569.1" width="23.2" height="26.3" fill="#2AAF80"/>
<rect x="571.1" y="569.1" width="23.2" height="26.3" fill="#22908C"/>
<rect x="593.4" y="569.1" width="23.2" height="26.3" fill="#2AAF80"/>
<rect x="615.6" y="569.1" width="23.2" height="26.3" fill="#2AAF80"/>
<rect x="637.9" y="569.1" width="23.2" height="26.3" fill="#64CB5E"/>
<rect x="660.1" y="569.1" width="23.2" height="26.3" fill="#64CB5E"/>
<rect x="682.3" y="569.1" width="23.2" height="26.3" fill="#E3E324"/>
<rect x="704.6" y="569.1" width="23.2" height="26.3" fill="#E3E324"/>
<rect x="726.8" y="569.1" width="23.2" height="26.3" fill="#E3E324"/>
<rect x="749.1" y="569.1" width="23.2" height="26.3" fill="#AEDC2F"/>
<rect x="771.3" y="569.1" width="23.2" height="26.3" fill="#2AAF80"/>
<rect x="793.5" y="569.1" width="23.2" height="26.3" fill="#2D6F8E"/>
<rect x="815.8" y="569.1" width="23.2" height="26.3" fill="#404687"/>
<rect x="838.0" y="569.1" width="23.2" height="26.3" fill="#1F968B"/>
<rect x="860.3" y="569.1" width="23.2" height="26.3" fill="#75D054"/>
<rect x="882.5" y="569.1" width="23.2" height="26.3" fill="#94D741"/>
<rect x="170.8" y="594.4" width="23.2" height="26.3" fill="#287D8E"/>
<rect x="193.1" y="594.4" width="23.2" height="26.3" fill="#297B8E"/>
<rect x="215.3" y="594.4" width="23.2" height="26.3" fill="#2B758E"/>
<rect x="237.5" y="594.4" width="23.2" height="26.3" fill="#2D718E"/>
<rect x="259.8" y="594.4" width="23.2" height="26.3" fill="#2D6F8E"/>
<rect x="282.0" y="594.4" width="23.2" height="26.3" fill="#27818E"/>
<rect x="304.3" y="594.4" width="23.2" height="26.3" fill="#22908C"/>
<rect x="326.5" y="594.4" width="23.2" height="26.3" fill="#2AAF80"/>
<rect x="348.7" y="594.4" width="23.2" height="26.3" fill="#482173"/>
<rect x="371.0" y="594.4" width="23.2" height="26.3" fill="#440154"/>
<rect x="393.2" y="594.4" width="23.2" height="26.3" fill="#440154"/>
<rect x="415.5" y="594.4" width="23.2" height="26.3" fill="#440154"/>
<rect x="437.7" y="594.4" width="23.2" height="26.3" fill="#440154"/>
<rect x="459.9" y="594.4" width="23.2" height="26.3" fill="#440154"/>
<rect x="482.2" y="594.4" width="23.2" height="26.3" fill="#482173"/>
<rect x="504.4" y="594.4" width="23.2" height="26.3" fill="#2D6F8E"/>
<rect x="526.7" y="594.4" width="23.2" height="26.3" fill="#22908C"/>
<rect x="548.9" y="594.4" width="23.2" height="26.3" fill="#2AAF80"/>
<rect x="571.1" y="594.4" width="23.2" height="26.3" fill="#2AAF80"/>
<rect x="593.4" y="594.4" width="23.2" height="26.3" fill="#64CB5E"/>
<rect x="615.6" y="594.4" width="23.2" height="26.3" fill="#64CB5E"/>
<rect x="637.9" y="594.4" width="23.2" height="26.3" fill="#64CB5E"/>
<rect x="660.1" y="594.4" width="23.2" height="26.3" fill="#AEDC2F"/>
<rect x="682.3" y="594.4" width="23.2" height="26.3" fill="#E3E324"/>
<rect x="704.6" y="594.4" width="23.2" height="26.3" fill="#E3E324"/>
<rect x="726.8" y="594.4" width="23.2" height="26.3" fill="#E3E324"/>
<rect x="749.1" y="594.4" width="23.2" height="26.3" fill="#AEDC2F"/>
<rect x="771.3" y="594.4" width="23.2" height="26.3" fill="#64CB5E"/>
<rect x="793.5" y="594.4" width="23.2" height="26.3" fill="#22908C"/>
<rect x="815.8" y="594.4" width="23.2" height="26.3" fill="#297A8E"/>
<rect x="838.0" y="594.4" width="23.2" height="26.3" fill="#1F968B"/>
<rect x="860.3" y="594.4" width="23.2" height="26.3" fill="#E3E324"/>
<rect x="882.5" y="594.4" width="23.2" height="26.3" fill="#E3E324"/>
<rect x="170.8" y="619.6" width="23.2" height="26.3" fill="#277F8E"/>
<rect x="193.1" y="619.6" width="23.2" height="26.3" fill="#297A8E"/>
<rect x="215.3" y="619.6" width="23.2" height="26.3" fill="#2A778E"/>
<rect x="237.5" y="619.6" width="23.2" height="26.3" fill="#2D6F8E"/>
<rect x="259.8" y="619.6" width="23.2" height="26.3" fill="#2D6F8E"/>
<rect x="282.0" y="619.6" width="23.2" height="26.3" fill="#2D6F8E"/>
<rect x="304.3" y="619.6" width="23.2" height="26.3" fill="#21A088"/>
<rect x="326.5" y="619.6" width="23.2" height="26.3" fill="#2AAF80"/>
<rect x="348.7" y="619.6" width="23.2" height="26.3" fill="#2D6F8E"/>
<rect x="371.0" y="619.6" width="23.2" height="26.3" fill="#482173"/>
<rect x="393.2" y="619.6" width="23.2" height="26.3" fill="#440154"/>
<rect x="415.5" y="619.6" width="23.2" height="26.3" fill="#440154"/>
<rect x="437.7" y="619.6" width="23.2" height="26.3" fill="#482173"/>
<rect x="459.9" y="619.6" width="23.2" height="26.3" fill="#482173"/>
<rect x="482.2" y="619.6" width="23.2" height="26.3" fill="#404687"/>
<rect x="504.4" y="619.6" width="23.2" height="26.3" fill="#22908C"/>
<rect x="526.7" y="619.6" width="23.2" height="26.3" fill="#2AAF80"/>
<rect x="548.9" y="619.6" width="23.2" height="26.3" fill="#21A088"/>
<rect x="571.1" y="619.6" width="23.2" height="26.3" fill="#44BE71"/>
<rect x="593.4" y="619.6" width="23.2" height="26.3" fill="#64CB5E"/>
<rect x="615.6" y="619.6" width="23.2" height="26.3" fill="#64CB5E"/>
<rect x="637.9" y="619.6" width="23.2" height="26.3" fill="#86D549"/>
<rect x="660.1" y="619.6" width="23.2" height="26.3" fill="#86D549"/>
<rect x="682.3" y="619.6" width="23.2" height="26.3" fill="#AEDC2F"/>
<rect x="704.6" y="619.6" width="23.2" height="26.3" fill="#C9E023"/>
<rect x="726.8" y="619.6" width="23.2" height="26.3" fill="#AEDC2F"/>
<rect x="749.1" y="619.6" width="23.2" height="26.3" fill="#C9E023"/>
<rect x="771.3" y="619.6" width="23.2" height="26.3" fill="#E3E324"/>
<rect x="793.5" y="619.6" width="23.2" height="26.3" fill="#2AAF80"/>
<rect x="815.8" y="619.6" width="23.2" height="26.3" fill="#2D6F8E"/>
<rect x="838.0" y="619.6" width="23.2" height="26.3" fill="#2D6F8E"/>
<rect x="860.3" y="619.6" width="23.2" height="26.3" fill="#2AAF80"/>
<rect x="882.5" y="619.6" width="23.2" height="26.3" fill="#E3E324"/>
<rect x="170.8" y="644.9" width="23.2" height="26.3" fill="#277F8E"/>
<rect x="193.1" y="644.9" width="23.2" height="26.3" fill="#277F8E"/>
<rect x="215.3" y="644.9" width="23.2" height="26.3" fill="#2D6F8E"/>
<rect x="237.5" y="644.9" width="23.2" height="26.3" fill="#27818E"/>
<rect x="259.8" y="644.9" width="23.2" height="26.3" fill="#2A798E"/>
<rect x="282.0" y="644.9" width="23.2" height="26.3" fill="#2D6F8E"/>
<rect x="304.3" y="644.9" width="23.2" height="26.3" fill="#2D6F8E"/>
<rect x="326.5" y="644.9" width="23.2" height="26.3" fill="#2AAF80"/>
<rect x="348.7" y="644.9" width="23.2" height="26.3" fill="#2AAF80"/>
<rect x="371.0" y="644.9" width="23.2" height="26.3" fill="#404687"/>
<rect x="393.2" y="644.9" width="23.2" height="26.3" fill="#440154"/>
<rect x="415.5" y="644.9" width="23.2" height="26.3" fill="#440154"/>
<rect x="437.7" y="644.9" width="23.2" height="26.3" fill="#482173"/>
<rect x="459.9" y="644.9" width="23.2" height="26.3" fill="#404687"/>
<rect x="482.2" y="644.9" width="23.2" height="26.3" fill="#2D6F8E"/>
<rect x="504.4" y="644.9" width="23.2" height="26.3" fill="#22908C"/>
<rect x="526.7" y="644.9" width="23.2" height="26.3" fill="#2AAF80"/>
<rect x="548.9" y="644.9" width="23.2" height="26.3" fill="#22908C"/>
<rect x="571.1" y="644.9" width="23.2" height="26.3" fill="#64CB5E"/>
<rect x="593.4" y="644.9" width="23.2" height="26.3" fill="#86D549"/>
<rect x="615.6" y="644.9" width="23.2" height="26.3" fill="#64CB5E"/>
<rect x="637.9" y="644.9" width="23.2" height="26.3" fill="#AEDC2F"/>
<rect x="660.1" y="644.9" width="23.2" height="26.3" fill="#64CB5E"/>
<rect x="682.3" y="644.9" width="23.2" height="26.3" fill="#AEDC2F"/>
<rect x="704.6" y="644.9" width="23.2" height="26.3" fill="#AEDC2F"/>
<rect x="726.8" y="644.9" width="23.2" height="26.3" fill="#AEDC2F"/>
<rect x="749.1" y="644.9" width="23.2" height="26.3" fill="#C9E023"/>
<rect x="771.3" y="644.9" width="23.2" height="26.3" fill="#E3E324"/>
<rect x="793.5" y="644.9" width="23.2" height="26.3" fill="#64CB5E"/>
<rect x="815.8" y="644.9" width="23.2" height="26.3" fill="#2D6F8E"/>
<rect x="838.0" y="644.9" width="23.2" height="26.3" fill="#404687"/>
<rect x="860.3" y="644.9" width="23.2" height="26.3" fill="#2AAF80"/>
<rect x="882.5" y="644.9" width="23.2" height="26.3" fill="#E3E324"/>
<rect x="170.8" y="670.2" width="23.2" height="26.3" fill="#22908C"/>
<rect x="193.1" y="670.2" width="23.2" height="26.3" fill="#2D6F8E"/>
<rect x="215.3" y="670.2" width="23.2" height="26.3" fill="#277F8E"/>
<rect x="237.5" y="670.2" width="23.2" height="26.3" fill="#22908C"/>
<rect x="259.8" y="670.2" width="23.2" height="26.3" fill="#25858E"/>
<rect x="282.0" y="670.2" width="23.2" height="26.3" fill="#31678D"/>
<rect x="304.3" y="670.2" width="23.2" height="26.3" fill="#2D6F8E"/>
<rect x="326.5" y="670.2" width="23.2" height="26.3" fill="#2D6F8E"/>
<rect x="348.7" y="670.2" width="23.2" height="26.3" fill="#2D6F8E"/>
<rect x="371.0" y="670.2" width="23.2" height="26.3" fill="#2D6F8E"/>
<rect x="393.2" y="670.2" width="23.2" height="26.3" fill="#482173"/>
<rect x="415.5" y="670.2" width="23.2" height="26.3" fill="#440154"/>
<rect x="437.7" y="670.2" width="23.2" height="26.3" fill="#482173"/>
<rect x="459.9" y="670.2" width="23.2" height="26.3" fill="#2D6F8E"/>
<rect x="482.2" y="670.2" width="23.2" height="26.3" fill="#2AAF80"/>
<rect x="504.4" y="670.2" width="23.2" height="26.3" fill="#22908C"/>
<rect x="526.7" y="670.2" width="23.2" height="26.3" fill="#2AAF80"/>
<rect x="548.9" y="670.2" width="23.2" height="26.3" fill="#22908C"/>
<rect x="571.1" y="670.2" width="23.2" height="26.3" fill="#86D549"/>
<rect x="593.4" y="670.2" width="23.2" height="26.3" fill="#AEDC2F"/>
<rect x="615.6" y="670.2" width="23.2" height="26.3" fill="#64CB5E"/>
<rect x="637.9" y="670.2" width="23.2" height="26.3" fill="#64CB5E"/>
<rect x="660.1" y="670.2" width="23.2" height="26.3" fill="#64CB5E"/>
<rect x="682.3" y="670.2" width="23.2" height="26.3" fill="#C9E023"/>
<rect x="704.6" y="670.2" width="23.2" height="26.3" fill="#C9E023"/>
<rect x="726.8" y="670.2" width="23.2" height="26.3" fill="#AEDC2F"/>
<rect x="749.1" y="670.2" width="23.2" height="26.3" fill="#C9E023"/>
<rect x="771.3" y="670.2" width="23.2" height="26.3" fill="#AEDC2F"/>
<rect x="793.5" y="670.2" width="23.2" height="26.3" fill="#2AAF80"/>
<rect x="815.8" y="670.2" width="23.2" height="26.3" fill="#2D6F8E"/>
<rect x="838.0" y="670.2" width="23.2" height="26.3" fill="#404687"/>
<rect x="860.3" y="670.2" width="23.2" height="26.3" fill="#64CB5E"/>
<rect x="882.5" y="670.2" width="23.2" height="26.3" fill="#E3E324"/>
<rect x="170.8" y="695.5" width="23.2" height="26.3" fill="#2AAF80"/>
<rect x="193.1" y="695.5" width="23.2" height="26.3" fill="#2D6F8E"/>
<rect x="215.3" y="695.5" width="23.2" height="26.3" fill="#22908C"/>
<rect x="237.5" y="695.5" width="23.2" height="26.3" fill="#22908C"/>
<rect x="259.8" y="695.5" width="23.2" height="26.3" fill="#22908C"/>
<rect x="282.0" y="695.5" width="23.2" height="26.3" fill="#2D6F8E"/>
<rect x="304.3" y="695.5" width="23.2" height="26.3" fill="#482173"/>
<rect x="326.5" y="695.5" width="23.2" height="26.3" fill="#404687"/>
<rect x="348.7" y="695.5" width="23.2" height="26.3" fill="#404687"/>
<rect x="371.0" y="695.5" width="23.2" height="26.3" fill="#482173"/>
<rect x="393.2" y="695.5" width="23.2" height="26.3" fill="#482173"/>
<rect x="415.5" y="695.5" width="23.2" height="26.3" fill="#440154"/>
<rect x="437.7" y="695.5" width="23.2" height="26.3" fill="#482173"/>
<rect x="459.9" y="695.5" width="23.2" height="26.3" fill="#2D6F8E"/>
<rect x="482.2" y="695.5" width="23.2" height="26.3" fill="#2AAF80"/>
<rect x="504.4" y="695.5" width="23.2" height="26.3" fill="#2AAF80"/>
<rect x="526.7" y="695.5" width="23.2" height="26.3" fill="#2AAF80"/>
<rect x="548.9" y="695.5" width="23.2" height="26.3" fill="#2AAF80"/>
<rect x="571.1" y="695.5" width="23.2" height="26.3" fill="#86D549"/>
<rect x="593.4" y="695.5" width="23.2" height="26.3" fill="#AEDC2F"/>
<rect x="615.6" y="695.5" width="23.2" height="26.3" fill="#64CB5E"/>
<rect x="637.9" y="695.5" width="23.2" height="26.3" fill="#86D549"/>
<rect x="660.1" y="695.5" width="23.2" height="26.3" fill="#44BE71"/>
<rect x="682.3" y="695.5" width="23.2" height="26.3" fill="#2AAF80"/>
<rect x="704.6" y="695.5" width="23.2" height="26.3" fill="#22908C"/>
<rect x="726.8" y="695.5" width="23.2" height="26.3" fill="#44BE71"/>
<rect x="749.1" y="695.5" width="23.2" height="26.3" fill="#C9E023"/>
<rect x="771.3" y="695.5" width="23.2" height="26.3" fill="#AEDC2F"/>
<rect x="793.5" y="695.5" width="23.2" height="26.3" fill="#2AAF80"/>
<rect x="815.8" y="695.5" width="23.2" height="26.3" fill="#2D6F8E"/>
<rect x="838.0" y="695.5" width="23.2" height="26.3" fill="#64CB5E"/>
<rect x="860.3" y="695.5" width="23.2" height="26.3" fill="#E3E324"/>
<rect x="882.5" y="695.5" width="23.2" height="26.3" fill="#C9E023"/>
<rect x="170.8" y="720.8" width="23.2" height="26.3" fill="#2AAF80"/>
<rect x="193.1" y="720.8" width="23.2" height="26.3" fill="#2D6F8E"/>
<rect x="215.3" y="720.8" width="23.2" height="26.3" fill="#2D6F8E"/>
<rect x="237.5" y="720.8" width="23.2" height="26.3" fill="#2D6F8E"/>
<rect x="259.8" y="720.8" width="23.2" height="26.3" fill="#2D6F8E"/>
<rect x="282.0" y="720.8" width="23.2" height="26.3" fill="#2D6F8E"/>
<rect x="304.3" y="720.8" width="23.2" height="26.3" fill="#482173"/>
<rect x="326.5" y="720.8" width="23.2" height="26.3" fill="#482173"/>
<rect x="348.7" y="720.8" width="23.2" height="26.3" fill="#482173"/>
<rect x="371.0" y="720.8" width="23.2" height="26.3" fill="#440154"/>
<rect x="393.2" y="720.8" width="23.2" height="26.3" fill="#482173"/>
<rect x="415.5" y="720.8" width="23.2" height="26.3" fill="#404687"/>
<rect x="437.7" y="720.8" width="23.2" height="26.3" fill="#482173"/>
<rect x="459.9" y="720.8" width="23.2" height="26.3" fill="#22908C"/>
<rect x="482.2" y="720.8" width="23.2" height="26.3" fill="#2AAF80"/>
<rect x="504.4" y="720.8" width="23.2" height="26.3" fill="#2AAF80"/>
<rect x="526.7" y="720.8" width="23.2" height="26.3" fill="#22908C"/>
<rect x="548.9" y="720.8" width="23.2" height="26.3" fill="#44BE71"/>
<rect x="571.1" y="720.8" width="23.2" height="26.3" fill="#64CB5E"/>
<rect x="593.4" y="720.8" width="23.2" height="26.3" fill="#AEDC2F"/>
<rect x="615.6" y="720.8" width="23.2" height="26.3" fill="#64CB5E"/>
<rect x="637.9" y="720.8" width="23.2" height="26.3" fill="#AEDC2F"/>
<rect x="660.1" y="720.8" width="23.2" height="26.3" fill="#64CB5E"/>
<rect x="682.3" y="720.8" width="23.2" height="26.3" fill="#44BE71"/>
<rect x="704.6" y="720.8" width="23.2" height="26.3" fill="#4AC16E"/>
<rect x="726.8" y="720.8" width="23.2" height="26.3" fill="#8DD645"/>
<rect x="749.1" y="720.8" width="23.2" height="26.3" fill="#C9E023"/>
<rect x="771.3" y="720.8" width="23.2" height="26.3" fill="#E3E324"/>
<rect x="793.5" y="720.8" width="23.2" height="26.3" fill="#2AAF80"/>
<rect x="815.8" y="720.8" width="23.2" height="26.3" fill="#64CB5E"/>
<rect x="838.0" y="720.8" width="23.2" height="26.3" fill="#E3E324"/>
<rect x="860.3" y="720.8" width="23.2" height="26.3" fill="#E3E324"/>
<rect x="882.5" y="720.8" width="23.2" height="26.3" fill="#E3E324"/>
<rect x="170.8" y="746.1" width="23.2" height="26.3" fill="#AEDC2F"/>
<rect x="193.1" y="746.1" width="23.2" height="26.3" fill="#22908C"/>
<rect x="215.3" y="746.1" width="23.2" height="26.3" fill="#2D6F8E"/>
<rect x="237.5" y="746.1" width="23.2" height="26.3" fill="#2D6F8E"/>
<rect x="259.8" y="746.1" width="23.2" height="26.3" fill="#2D6F8E"/>
<rect x="282.0" y="746.1" width="23.2" height="26.3" fill="#2D6F8E"/>
<rect x="304.3" y="746.1" width="23.2" height="26.3" fill="#22908C"/>
<rect x="326.5" y="746.1" width="23.2" height="26.3" fill="#2AAF80"/>
<rect x="348.7" y="746.1" width="23.2" height="26.3" fill="#2D6F8E"/>
<rect x="371.0" y="746.1" width="23.2" height="26.3" fill="#482173"/>
<rect x="393.2" y="746.1" width="23.2" height="26.3" fill="#482173"/>
<rect x="415.5" y="746.1" width="23.2" height="26.3" fill="#404687"/>
<rect x="437.7" y="746.1" width="23.2" height="26.3" fill="#2D6F8E"/>
<rect x="459.9" y="746.1" width="23.2" height="26.3" fill="#404687"/>
<rect x="482.2" y="746.1" width="23.2" height="26.3" fill="#22908C"/>
<rect x="504.4" y="746.1" width="23.2" height="26.3" fill="#2AAF80"/>
<rect x="526.7" y="746.1" width="23.2" height="26.3" fill="#2AAF80"/>
<rect x="548.9" y="746.1" width="23.2" height="26.3" fill="#21A088"/>
<rect x="571.1" y="746.1" width="23.2" height="26.3" fill="#2AAF80"/>
<rect x="593.4" y="746.1" width="23.2" height="26.3" fill="#64CB5E"/>
<rect x="615.6" y="746.1" width="23.2" height="26.3" fill="#AEDC2F"/>
<rect x="637.9" y="746.1" width="23.2" height="26.3" fill="#AEDC2F"/>
<rect x="660.1" y="746.1" width="23.2" height="26.3" fill="#AEDC2F"/>
<rect x="682.3" y="746.1" width="23.2" height="26.3" fill="#55C668"/>
<rect x="704.6" y="746.1" width="23.2" height="26.3" fill="#86D549"/>
<rect x="726.8" y="746.1" width="23.2" height="26.3" fill="#E3E324"/>
<rect x="749.1" y="746.1" width="23.2" height="26.3" fill="#AEDC2F"/>
<rect x="771.3" y="746.1" width="23.2" height="26.3" fill="#AEDC2F"/>
<rect x="793.5" y="746.1" width="23.2" height="26.3" fill="#AEDC2F"/>
<rect x="815.8" y="746.1" width="23.2" height="26.3" fill="#E3E324"/>
<rect x="838.0" y="746.1" width="23.2" height="26.3" fill="#E3E324"/>
<rect x="860.3" y="746.1" width="23.2" height="26.3" fill="#E3E324"/>
<rect x="882.5" y="746.1" width="23.2" height="26.3" fill="#E3E324"/>
<rect x="170.8" y="771.4" width="23.2" height="26.3" fill="#51C56A"/>
<rect x="193.1" y="771.4" width="23.2" height="26.3" fill="#21A088"/>
<rect x="215.3" y="771.4" width="23.2" height="26.3" fill="#277F8E"/>
<rect x="237.5" y="771.4" width="23.2" height="26.3" fill="#22908C"/>
<rect x="259.8" y="771.4" width="23.2" height="26.3" fill="#21A088"/>
<rect x="282.0" y="771.4" width="23.2" height="26.3" fill="#22908C"/>
<rect x="304.3" y="771.4" width="23.2" height="26.3" fill="#64CB5E"/>
<rect x="326.5" y="771.4" width="23.2" height="26.3" fill="#64CB5E"/>
<rect x="348.7" y="771.4" width="23.2" height="26.3" fill="#21A088"/>
<rect x="371.0" y="771.4" width="23.2" height="26.3" fill="#22908C"/>
<rect x="393.2" y="771.4" width="23.2" height="26.3" fill="#277F8E"/>
<rect x="415.5" y="771.4" width="23.2" height="26.3" fill="#277F8E"/>
<rect x="437.7" y="771.4" width="23.2" height="26.3" fill="#21A088"/>
<rect x="459.9" y="771.4" width="23.2" height="26.3" fill="#44BE71"/>
<rect x="482.2" y="771.4" width="23.2" height="26.3" fill="#21A088"/>
<rect x="504.4" y="771.4" width="23.2" height="26.3" fill="#2AAF80"/>
<rect x="526.7" y="771.4" width="23.2" height="26.3" fill="#44BE71"/>
<rect x="548.9" y="771.4" width="23.2" height="26.3" fill="#2AAF80"/>
<rect x="571.1" y="771.4" width="23.2" height="26.3" fill="#44BE71"/>
<rect x="593.4" y="771.4" width="23.2" height="26.3" fill="#64CB5E"/>
<rect x="615.6" y="771.4" width="23.2" height="26.3" fill="#AEDC2F"/>
<rect x="637.9" y="771.4" width="23.2" height="26.3" fill="#AEDC2F"/>
<rect x="660.1" y="771.4" width="23.2" height="26.3" fill="#2AAF80"/>
<rect x="682.3" y="771.4" width="23.2" height="26.3" fill="#64CB5E"/>
<rect x="704.6" y="771.4" width="23.2" height="26.3" fill="#2AAF80"/>
<rect x="726.8" y="771.4" width="23.2" height="26.3" fill="#AEDC2F"/>
<rect x="749.1" y="771.4" width="23.2" height="26.3" fill="#64CB5E"/>
<rect x="771.3" y="771.4" width="23.2" height="26.3" fill="#64CB5E"/>
<rect x="793.5" y="771.4" width="23.2" height="26.3" fill="#E3E324"/>
<rect x="815.8" y="771.4" width="23.2" height="26.3" fill="#E3E324"/>
<rect x="838.0" y="771.4" width="23.2" height="26.3" fill="#E3E324"/>
<rect x="860.3" y="771.4" width="23.2" height="26.3" fill="#E3E324"/>
<rect x="882.5" y="771.4" width="23.2" height="26.3" fill="#E3E324"/>
<rect x="170.8" y="796.7" width="23.2" height="26.3" fill="#64CB5E"/>
<rect x="193.1" y="796.7" width="23.2" height="26.3" fill="#C9E023"/>
<rect x="215.3" y="796.7" width="23.2" height="26.3" fill="#21A088"/>
<rect x="237.5" y="796.7" width="23.2" height="26.3" fill="#2D6F8E"/>
<rect x="259.8" y="796.7" width="23.2" height="26.3" fill="#375C8C"/>
<rect x="282.0" y="796.7" width="23.2" height="26.3" fill="#375C8C"/>
<rect x="304.3" y="796.7" width="23.2" height="26.3" fill="#21A088"/>
<rect x="326.5" y="796.7" width="23.2" height="26.3" fill="#64CB5E"/>
<rect x="348.7" y="796.7" width="23.2" height="26.3" fill="#44BE71"/>
<rect x="371.0" y="796.7" width="23.2" height="26.3" fill="#2AAF80"/>
<rect x="393.2" y="796.7" width="23.2" height="26.3" fill="#2AAF80"/>
<rect x="415.5" y="796.7" width="23.2" height="26.3" fill="#21A088"/>
<rect x="437.7" y="796.7" width="23.2" height="26.3" fill="#22908C"/>
<rect x="459.9" y="796.7" width="23.2" height="26.3" fill="#21A088"/>
<rect x="482.2" y="796.7" width="23.2" height="26.3" fill="#44BE71"/>
<rect x="504.4" y="796.7" width="23.2" height="26.3" fill="#2AAF80"/>
<rect x="526.7" y="796.7" width="23.2" height="26.3" fill="#44BE71"/>
<rect x="548.9" y="796.7" width="23.2" height="26.3" fill="#2AAF80"/>
<rect x="571.1" y="796.7" width="23.2" height="26.3" fill="#64CB5E"/>
<rect x="593.4" y="796.7" width="23.2" height="26.3" fill="#AEDC2F"/>
<rect x="615.6" y="796.7" width="23.2" height="26.3" fill="#AEDC2F"/>
<rect x="637.9" y="796.7" width="23.2" height="26.3" fill="#2AAF80"/>
<rect x="660.1" y="796.7" width="23.2" height="26.3" fill="#2AAF80"/>
<rect x="682.3" y="796.7" width="23.2" height="26.3" fill="#2AAF80"/>
<rect x="704.6" y="796.7" width="23.2" height="26.3" fill="#22908C"/>
<rect x="726.8" y="796.7" width="23.2" height="26.3" fill="#22908C"/>
<rect x="749.1" y="796.7" width="23.2" height="26.3" fill="#2D6F8E"/>
<rect x="771.3" y="796.7" width="23.2" height="26.3" fill="#AEDC2F"/>
<rect x="793.5" y="796.7" width="23.2" height="26.3" fill="#E3E324"/>
<rect x="815.8" y="796.7" width="23.2" height="26.3" fill="#E3E324"/>
<rect x="838.0" y="796.7" width="23.2" height="26.3" fill="#E3E324"/>
<rect x="860.3" y="796.7" width="23.2" height="26.3" fill="#E3E324"/>
<rect x="882.5" y="796.7" width="23.2" height="26.3" fill="#E3E324"/>
<rect x="170.8" y="822.0" width="23.2" height="26.3" fill="#C9E023"/>
<rect x="193.1" y="822.0" width="23.2" height="26.3" fill="#86D549"/>
<rect x="215.3" y="822.0" width="23.2" height="26.3" fill="#C9E023"/>
<rect x="237.5" y="822.0" width="23.2" height="26.3" fill="#44BE71"/>
<rect x="259.8" y="822.0" width="23.2" height="26.3" fill="#21A088"/>
<rect x="282.0" y="822.0" width="23.2" height="26.3" fill="#22908C"/>
<rect x="304.3" y="822.0" width="23.2" height="26.3" fill="#22908C"/>
<rect x="326.5" y="822.0" width="23.2" height="26.3" fill="#44BE71"/>
<rect x="348.7" y="822.0" width="23.2" height="26.3" fill="#44BE71"/>
<rect x="371.0" y="822.0" width="23.2" height="26.3" fill="#2AAF80"/>
<rect x="393.2" y="822.0" width="23.2" height="26.3" fill="#2AAF80"/>
<rect x="415.5" y="822.0" width="23.2" height="26.3" fill="#2AAF80"/>
<rect x="437.7" y="822.0" width="23.2" height="26.3" fill="#21A088"/>
<rect x="459.9" y="822.0" width="23.2" height="26.3" fill="#86D549"/>
<rect x="482.2" y="822.0" width="23.2" height="26.3" fill="#64CB5E"/>
<rect x="504.4" y="822.0" width="23.2" height="26.3" fill="#64CB5E"/>
<rect x="526.7" y="822.0" width="23.2" height="26.3" fill="#64CB5E"/>
<rect x="548.9" y="822.0" width="23.2" height="26.3" fill="#44BE71"/>
<rect x="571.1" y="822.0" width="23.2" height="26.3" fill="#44BE71"/>
<rect x="593.4" y="822.0" width="23.2" height="26.3" fill="#AEDC2F"/>
<rect x="615.6" y="822.0" width="23.2" height="26.3" fill="#64CB5E"/>
<rect x="637.9" y="822.0" width="23.2" height="26.3" fill="#2AAF80"/>
<rect x="660.1" y="822.0" width="23.2" height="26.3" fill="#2AAF80"/>
<rect x="682.3" y="822.0" width="23.2" height="26.3" fill="#2AAF80"/>
<rect x="704.6" y="822.0" width="23.2" height="26.3" fill="#22908C"/>
<rect x="726.8" y="822.0" width="23.2" height="26.3" fill="#22908C"/>
<rect x="749.1" y="822.0" width="23.2" height="26.3" fill="#2AAF80"/>
<rect x="771.3" y="822.0" width="23.2" height="26.3" fill="#E3E324"/>
<rect x="793.5" y="822.0" width="23.2" height="26.3" fill="#D2E124"/>
<rect x="815.8" y="822.0" width="23.2" height="26.3" fill="#E3E324"/>
<rect x="838.0" y="822.0" width="23.2" height="26.3" fill="#E3E324"/>
<rect x="860.3" y="822.0" width="23.2" height="26.3" fill="#E3E324"/>
<rect x="882.5" y="822.0" width="23.2" height="26.3" fill="#E3E324"/>
<rect x="170.8" y="847.3" width="23.2" height="26.3" fill="#C3DF23"/>
<rect x="193.1" y="847.3" width="23.2" height="26.3" fill="#C9E023"/>
<rect x="215.3" y="847.3" width="23.2" height="26.3" fill="#BCDE27"/>
<rect x="237.5" y="847.3" width="23.2" height="26.3" fill="#E3E324"/>
<rect x="259.8" y="847.3" width="23.2" height="26.3" fill="#AEDC2F"/>
<rect x="282.0" y="847.3" width="23.2" height="26.3" fill="#44BE71"/>
<rect x="304.3" y="847.3" width="23.2" height="26.3" fill="#21A088"/>
<rect x="326.5" y="847.3" width="23.2" height="26.3" fill="#64CB5E"/>
<rect x="348.7" y="847.3" width="23.2" height="26.3" fill="#2AAF80"/>
<rect x="371.0" y="847.3" width="23.2" height="26.3" fill="#44BE71"/>
<rect x="393.2" y="847.3" width="23.2" height="26.3" fill="#64CB5E"/>
<rect x="415.5" y="847.3" width="23.2" height="26.3" fill="#2AAF80"/>
<rect x="437.7" y="847.3" width="23.2" height="26.3" fill="#44BE71"/>
<rect x="459.9" y="847.3" width="23.2" height="26.3" fill="#2AAF80"/>
<rect x="482.2" y="847.3" width="23.2" height="26.3" fill="#2AAF80"/>
<rect x="504.4" y="847.3" width="23.2" height="26.3" fill="#64CB5E"/>
<rect x="526.7" y="847.3" width="23.2" height="26.3" fill="#64CB5E"/>
<rect x="548.9" y="847.3" width="23.2" height="26.3" fill="#2AAF80"/>
<rect x="571.1" y="847.3" width="23.2" height="26.3" fill="#2AAF80"/>
<rect x="593.4" y="847.3" width="23.2" height="26.3" fill="#2AAF80"/>
<rect x="615.6" y="847.3" width="23.2" height="26.3" fill="#22908C"/>
<rect x="637.9" y="847.3" width="23.2" height="26.3" fill="#22908C"/>
<rect x="660.1" y="847.3" width="23.2" height="26.3" fill="#22908C"/>
<rect x="682.3" y="847.3" width="23.2" height="26.3" fill="#22908C"/>
<rect x="704.6" y="847.3" width="23.2" height="26.3" fill="#22908C"/>
<rect x="726.8" y="847.3" width="23.2" height="26.3" fill="#22908C"/>
<rect x="749.1" y="847.3" width="23.2" height="26.3" fill="#E3E324"/>
<rect x="771.3" y="847.3" width="23.2" height="26.3" fill="#AEDC2F"/>
<rect x="793.5" y="847.3" width="23.2" height="26.3" fill="#E3E324"/>
<rect x="815.8" y="847.3" width="23.2" height="26.3" fill="#DDE324"/>
<rect x="838.0" y="847.3" width="23.2" height="26.3" fill="#E3E324"/>
<rect x="860.3" y="847.3" width="23.2" height="26.3" fill="#E3E324"/>
<rect x="882.5" y="847.3" width="23.2" height="26.3" fill="#E3E324"/>
<rect x="170.8" y="872.6" width="23.2" height="26.3" fill="#DAE224"/>
<rect x="193.1" y="872.6" width="23.2" height="26.3" fill="#E3E324"/>
<rect x="215.3" y="872.6" width="23.2" height="26.3" fill="#E3E324"/>
<rect x="237.5" y="872.6" width="23.2" height="26.3" fill="#E3E324"/>
<rect x="259.8" y="872.6" width="23.2" height="26.3" fill="#C9E023"/>
<rect x="282.0" y="872.6" width="23.2" height="26.3" fill="#64CB5E"/>
<rect x="304.3" y="872.6" width="23.2" height="26.3" fill="#277F8E"/>
<rect x="326.5" y="872.6" width="23.2" height="26.3" fill="#21A088"/>
<rect x="348.7" y="872.6" width="23.2" height="26.3" fill="#64CB5E"/>
<rect x="371.0" y="872.6" width="23.2" height="26.3" fill="#2AAF80"/>
<rect x="393.2" y="872.6" width="23.2" height="26.3" fill="#21A088"/>
<rect x="415.5" y="872.6" width="23.2" height="26.3" fill="#22908C"/>
<rect x="437.7" y="872.6" width="23.2" height="26.3" fill="#22908C"/>
<rect x="459.9" y="872.6" width="23.2" height="26.3" fill="#21A088"/>
<rect x="482.2" y="872.6" width="23.2" height="26.3" fill="#21A088"/>
<rect x="504.4" y="872.6" width="23.2" height="26.3" fill="#2AAF80"/>
<rect x="526.7" y="872.6" width="23.2" height="26.3" fill="#2AAF80"/>
<rect x="548.9" y="872.6" width="23.2" height="26.3" fill="#2AAF80"/>
<rect x="571.1" y="872.6" width="23.2" height="26.3" fill="#2AAF80"/>
<rect x="593.4" y="872.6" width="23.2" height="26.3" fill="#64CB5E"/>
<rect x="615.6" y="872.6" width="23.2" height="26.3" fill="#64CB5E"/>
<rect x="637.9" y="872.6" width="23.2" height="26.3" fill="#22908C"/>
<rect x="660.1" y="872.6" width="23.2" height="26.3" fill="#22908C"/>
<rect x="682.3" y="872.6" width="23.2" height="26.3" fill="#22908C"/>
<rect x="704.6" y="872.6" width="23.2" height="26.3" fill="#64CB5E"/>
<rect x="726.8" y="872.6" width="23.2" height="26.3" fill="#E3E324"/>
<rect x="749.1" y="872.6" width="23.2" height="26.3" fill="#94D741"/>
<rect x="771.3" y="872.6" width="23.2" height="26.3" fill="#E3E324"/>
<rect x="793.5" y="872.6" width="23.2" height="26.3" fill="#D2E124"/>
<rect x="815.8" y="872.6" width="23.2" height="26.3" fill="#E3E324"/>
<rect x="838.0" y="872.6" width="23.2" height="26.3" fill="#E1E324"/>
<rect x="860.3" y="872.6" width="23.2" height="26.3" fill="#E3E324"/>
<rect x="882.5" y="872.6" width="23.2" height="26.3" fill="#E3E324"/>
<rect x="170.8" y="897.9" width="23.2" height="26.3" fill="#E3E324"/>
<rect x="193.1" y="897.9" width="23.2" height="26.3" fill="#E3E324"/>
<rect x="215.3" y="897.9" width="23.2" height="26.3" fill="#E3E324"/>
<rect x="237.5" y="897.9" width="23.2" height="26.3" fill="#E3E324"/>
<rect x="259.8" y="897.9" width="23.2" height="26.3" fill="#AEDC2F"/>
<rect x="282.0" y="897.9" width="23.2" height="26.3" fill="#64CB5E"/>
<rect x="304.3" y="897.9" width="23.2" height="26.3" fill="#22908C"/>
<rect x="326.5" y="897.9" width="23.2" height="26.3" fill="#375C8C"/>
<rect x="348.7" y="897.9" width="23.2" height="26.3" fill="#22908C"/>
<rect x="371.0" y="897.9" width="23.2" height="26.3" fill="#277F8E"/>
<rect x="393.2" y="897.9" width="23.2" height="26.3" fill="#21A088"/>
<rect x="415.5" y="897.9" width="23.2" height="26.3" fill="#22908C"/>
<rect x="437.7" y="897.9" width="23.2" height="26.3" fill="#21A088"/>
<rect x="459.9" y="897.9" width="23.2" height="26.3" fill="#21A088"/>
<rect x="482.2" y="897.9" width="23.2" height="26.3" fill="#2AAF80"/>
<rect x="504.4" y="897.9" width="23.2" height="26.3" fill="#21A088"/>
<rect x="526.7" y="897.9" width="23.2" height="26.3" fill="#22908C"/>
<rect x="548.9" y="897.9" width="23.2" height="26.3" fill="#21A088"/>
<rect x="571.1" y="897.9" width="23.2" height="26.3" fill="#21A088"/>
<rect x="593.4" y="897.9" width="23.2" height="26.3" fill="#22908C"/>
<rect x="615.6" y="897.9" width="23.2" height="26.3" fill="#22908C"/>
<rect x="637.9" y="897.9" width="23.2" height="26.3" fill="#2AAF80"/>
<rect x="660.1" y="897.9" width="23.2" height="26.3" fill="#64CB5E"/>
<rect x="682.3" y="897.9" width="23.2" height="26.3" fill="#E3E324"/>
<rect x="704.6" y="897.9" width="23.2" height="26.3" fill="#86D549"/>
<rect x="726.8" y="897.9" width="23.2" height="26.3" fill="#AEDC2F"/>
<rect x="749.1" y="897.9" width="23.2" height="26.3" fill="#E3E324"/>
<rect x="771.3" y="897.9" width="23.2" height="26.3" fill="#CCE023"/>
<rect x="793.5" y="897.9" width="23.2" height="26.3" fill="#E3E324"/>
<rect x="815.8" y="897.9" width="23.2" height="26.3" fill="#DDE324"/>
<rect x="838.0" y="897.9" width="23.2" height="26.3" fill="#E3E324"/>
<rect x="860.3" y="897.9" width="23.2" height="26.3" fill="#E2E324"/>
<rect x="882.5" y="897.9" width="23.2" height="26.3" fill="#E3E324"/>
<rect x="170.8" y="923.2" width="23.2" height="26.3" fill="#E3E324"/>
<rect x="193.1" y="923.2" width="23.2" height="26.3" fill="#E3E324"/>
<rect x="215.3" y="923.2" width="23.2" height="26.3" fill="#E3E324"/>
<rect x="237.5" y="923.2" width="23.2" height="26.3" fill="#86D549"/>
<rect x="259.8" y="923.2" width="23.2" height="26.3" fill="#64CB5E"/>
<rect x="282.0" y="923.2" width="23.2" height="26.3" fill="#86D549"/>
<rect x="304.3" y="923.2" width="23.2" height="26.3" fill="#2AAF80"/>
<rect x="326.5" y="923.2" width="23.2" height="26.3" fill="#277F8E"/>
<rect x="348.7" y="923.2" width="23.2" height="26.3" fill="#22908C"/>
<rect x="371.0" y="923.2" width="23.2" height="26.3" fill="#2D6F8E"/>
<rect x="393.2" y="923.2" width="23.2" height="26.3" fill="#277F8E"/>
<rect x="415.5" y="923.2" width="23.2" height="26.3" fill="#21A088"/>
<rect x="437.7" y="923.2" width="23.2" height="26.3" fill="#2AAF80"/>
<rect x="459.9" y="923.2" width="23.2" height="26.3" fill="#2AAF80"/>
<rect x="482.2" y="923.2" width="23.2" height="26.3" fill="#22908C"/>
<rect x="504.4" y="923.2" width="23.2" height="26.3" fill="#22908C"/>
<rect x="526.7" y="923.2" width="23.2" height="26.3" fill="#22908C"/>
<rect x="548.9" y="923.2" width="23.2" height="26.3" fill="#2AAF80"/>
<rect x="571.1" y="923.2" width="23.2" height="26.3" fill="#21A088"/>
<rect x="593.4" y="923.2" width="23.2" height="26.3" fill="#22908C"/>
<rect x="615.6" y="923.2" width="23.2" height="26.3" fill="#22908C"/>
<rect x="637.9" y="923.2" width="23.2" height="26.3" fill="#2AAF80"/>
<rect x="660.1" y="923.2" width="23.2" height="26.3" fill="#E3E324"/>
<rect x="682.3" y="923.2" width="23.2" height="26.3" fill="#C0DF24"/>
<rect x="704.6" y="923.2" width="23.2" height="26.3" fill="#E3E324"/>
<rect x="726.8" y="923.2" width="23.2" height="26.3" fill="#C3DF23"/>
<rect x="749.1" y="923.2" width="23.2" height="26.3" fill="#C9E023"/>
<rect x="771.3" y="923.2" width="23.2" height="26.3" fill="#E3E324"/>
<rect x="793.5" y="923.2" width="23.2" height="26.3" fill="#DBE224"/>
<rect x="815.8" y="923.2" width="23.2" height="26.3" fill="#E3E324"/>
<rect x="838.0" y="923.2" width="23.2" height="26.3" fill="#E1E324"/>
<rect x="860.3" y="923.2" width="23.2" height="26.3" fill="#E3E324"/>
<rect x="882.5" y="923.2" width="23.2" height="26.3" fill="#E3E324"/>
<rect x="170.8" y="948.5" width="23.2" height="26.3" fill="#E3E324"/>
<rect x="193.1" y="948.5" width="23.2" height="26.3" fill="#E3E324"/>
<rect x="215.3" y="948.5" width="23.2" height="26.3" fill="#D0E123"/>
<rect x="237.5" y="948.5" width="23.2" height="26.3" fill="#E3E324"/>
<rect x="259.8" y="948.5" width="23.2" height="26.3" fill="#C9E023"/>
<rect x="282.0" y="948.5" width="23.2" height="26.3" fill="#AEDC2F"/>
<rect x="304.3" y="948.5" width="23.2" height="26.3" fill="#86D549"/>
<rect x="326.5" y="948.5" width="23.2" height="26.3" fill="#64CB5E"/>
<rect x="348.7" y="948.5" width="23.2" height="26.3" fill="#44BE71"/>
<rect x="371.0" y="948.5" width="23.2" height="26.3" fill="#64CB5E"/>
<rect x="393.2" y="948.5" width="23.2" height="26.3" fill="#64CB5E"/>
<rect x="415.5" y="948.5" width="23.2" height="26.3" fill="#86D549"/>
<rect x="437.7" y="948.5" width="23.2" height="26.3" fill="#44BE71"/>
<rect x="459.9" y="948.5" width="23.2" height="26.3" fill="#21A088"/>
<rect x="482.2" y="948.5" width="23.2" height="26.3" fill="#21A088"/>
<rect x="504.4" y="948.5" width="23.2" height="26.3" fill="#22908C"/>
<rect x="526.7" y="948.5" width="23.2" height="26.3" fill="#22908C"/>
<rect x="548.9" y="948.5" width="23.2" height="26.3" fill="#44BE71"/>
<rect x="571.1" y="948.5" width="23.2" height="26.3" fill="#64CB5E"/>
<rect x="593.4" y="948.5" width="23.2" height="26.3" fill="#2AAF80"/>
<rect x="615.6" y="948.5" width="23.2" height="26.3" fill="#AEDC2F"/>
<rect x="637.9" y="948.5" width="23.2" height="26.3" fill="#E3E324"/>
<rect x="660.1" y="948.5" width="23.2" height="26.3" fill="#AEDC2F"/>
<rect x="682.3" y="948.5" width="23.2" height="26.3" fill="#E3E324"/>
<rect x="704.6" y="948.5" width="23.2" height="26.3" fill="#D8E224"/>
<rect x="726.8" y="948.5" width="23.2" height="26.3" fill="#E3E324"/>
<rect x="749.1" y="948.5" width="23.2" height="26.3" fill="#D4E224"/>
<rect x="771.3" y="948.5" width="23.2" height="26.3" fill="#D6E224"/>
<rect x="793.5" y="948.5" width="23.2" height="26.3" fill="#E3E324"/>
<rect x="815.8" y="948.5" width="23.2" height="26.3" fill="#E0E324"/>
<rect x="838.0" y="948.5" width="23.2" height="26.3" fill="#E3E324"/>
<rect x="860.3" y="948.5" width="23.2" height="26.3" fill="#E2E324"/>
<rect x="882.5" y="948.5" width="23.2" height="26.3" fill="#E3E324"/>
<rect x="170.8" y="973.8" width="23.2" height="26.3" fill="#E3E324"/>
<rect x="193.1" y="973.8" width="23.2" height="26.3" fill="#DEE324"/>
<rect x="215.3" y="973.8" width="23.2" height="26.3" fill="#E3E324"/>
<rect x="237.5" y="973.8" width="23.2" height="26.3" fill="#E3E324"/>
<rect x="259.8" y="973.8" width="23.2" height="26.3" fill="#E3E324"/>
<rect x="282.0" y="973.8" width="23.2" height="26.3" fill="#E3E324"/>
<rect x="304.3" y="973.8" width="23.2" height="26.3" fill="#86D549"/>
<rect x="326.5" y="973.8" width="23.2" height="26.3" fill="#AEDC2F"/>
<rect x="348.7" y="973.8" width="23.2" height="26.3" fill="#E3E324"/>
<rect x="371.0" y="973.8" width="23.2" height="26.3" fill="#E3E324"/>
<rect x="393.2" y="973.8" width="23.2" height="26.3" fill="#E3E324"/>
<rect x="415.5" y="973.8" width="23.2" height="26.3" fill="#E3E324"/>
<rect x="437.7" y="973.8" width="23.2" height="26.3" fill="#6CCD59"/>
<rect x="459.9" y="973.8" width="23.2" height="26.3" fill="#27AA82"/>
<rect x="482.2" y="973.8" width="23.2" height="26.3" fill="#1E9A8A"/>
<rect x="504.4" y="973.8" width="23.2" height="26.3" fill="#2FB27D"/>
<rect x="526.7" y="973.8" width="23.2" height="26.3" fill="#E3E324"/>
<rect x="548.9" y="973.8" width="23.2" height="26.3" fill="#E3E324"/>
<rect x="571.1" y="973.8" width="23.2" height="26.3" fill="#E3E324"/>
<rect x="593.4" y="973.8" width="23.2" height="26.3" fill="#86D549"/>
<rect x="615.6" y="973.8" width="23.2" height="26.3" fill="#94D741"/>
<rect x="637.9" y="973.8" width="23.2" height="26.3" fill="#C9E023"/>
<rect x="660.1" y="973.8" width="23.2" height="26.3" fill="#E3E324"/>
<rect x="682.3" y="973.8" width="23.2" height="26.3" fill="#D2E124"/>
<rect x="704.6" y="973.8" width="23.2" height="26.3" fill="#E3E324"/>
<rect x="726.8" y="973.8" width="23.2" height="26.3" fill="#DFE324"/>
<rect x="749.1" y="973.8" width="23.2" height="26.3" fill="#E3E324"/>
<rect x="771.3" y="973.8" width="23.2" height="26.3" fill="#DCE324"/>
<rect x="793.5" y="973.8" width="23.2" height="26.3" fill="#DDE324"/>
<rect x="815.8" y="973.8" width="23.2" height="26.3" fill="#E3E324"/>
<rect x="838.0" y="973.8" width="23.2" height="26.3" fill="#E2E324"/>
<rect x="860.3" y="973.8" width="23.2" height="26.3" fill="#E3E324"/>
<rect x="882.5" y="973.8" width="23.2" height="26.3" fill="#E3E324"/>
<rect x="170.8" y="999.1" width="23.2" height="26.3" fill="#E1E324"/>
<rect x="193.1" y="999.1" width="23.2" height="26.3" fill="#E3E324"/>
<rect x="215.3" y="999.1" width="23.2" height="26.3" fill="#E3E324"/>
<rect x="237.5" y="999.1" width="23.2" height="26.3" fill="#E3E324"/>
<rect x="259.8" y="999.1" width="23.2" height="26.3" fill="#E3E324"/>
<rect x="282.0" y="999.1" width="23.2" height="26.3" fill="#E3E324"/>
<rect x="304.3" y="999.1" width="23.2" height="26.3" fill="#AEDC2F"/>
<rect x="326.5" y="999.1" width="23.2" height="26.3" fill="#E3E324"/>
<rect x="348.7" y="999.1" width="23.2" height="26.3" fill="#D6E224"/>
<rect x="371.0" y="999.1" width="23.2" height="26.3" fill="#E3E324"/>
<rect x="393.2" y="999.1" width="23.2" height="26.3" fill="#E3E324"/>
<rect x="415.5" y="999.1" width="23.2" height="26.3" fill="#E3E324"/>
<rect x="437.7" y="999.1" width="23.2" height="26.3" fill="#E3E324"/>
<rect x="459.9" y="999.1" width="23.2" height="26.3" fill="#57C767"/>
<rect x="482.2" y="999.1" width="23.2" height="26.3" fill="#47C06F"/>
<rect x="504.4" y="999.1" width="23.2" height="26.3" fill="#E3E324"/>
<rect x="526.7" y="999.1" width="23.2" height="26.3" fill="#E3E324"/>
<rect x="548.9" y="999.1" width="23.2" height="26.3" fill="#E3E324"/>
<rect x="571.1" y="999.1" width="23.2" height="26.3" fill="#E3E324"/>
<rect x="593.4" y="999.1" width="23.2" height="26.3" fill="#E3E324"/>
<rect x="615.6" y="999.1" width="23.2" height="26.3" fill="#B7DD2A"/>
<rect x="637.9" y="999.1" width="23.2" height="26.3" fill="#C3DF23"/>
<rect x="660.1" y="999.1" width="23.2" height="26.3" fill="#D6E224"/>
<rect x="682.3" y="999.1" width="23.2" height="26.3" fill="#E3E324"/>
<rect x="704.6" y="999.1" width="23.2" height="26.3" fill="#DDE324"/>
<rect x="726.8" y="999.1" width="23.2" height="26.3" fill="#E3E324"/>
<rect x="749.1" y="999.1" width="23.2" height="26.3" fill="#E2E324"/>
<rect x="771.3" y="999.1" width="23.2" height="26.3" fill="#E3E324"/>
<rect x="793.5" y="999.1" width="23.2" height="26.3" fill="#E0E324"/>
<rect x="815.8" y="999.1" width="23.2" height="26.3" fill="#E0E324"/>
<rect x="838.0" y="999.1" width="23.2" height="26.3" fill="#E3E324"/>
<rect x="860.3" y="999.1" width="23.2" height="26.3" fill="#E3E324"/>
<rect x="882.5" y="999.1" width="23.2" height="26.3" fill="#E3E324"/>
</g>
<polyline points="901.7,611.8 901.7,628.5 897.9,629.0 897.9,636.9 894.2,637.4 894.2,649.5 890.9,650.0 890.9,670.5 887.2,670.9 887.2,683.1 883.5,683.5 883.5,695.6 879.8,696.1 879.8,704.0 871.8,704.5 866.4,711.6 849.0,723.2 834.5,742.0 820.0,769.6 808.4,787.0 801.2,800.0 786.7,823.2 772.2,839.1 753.3,856.5 738.8,872.5 727.2,884.1 715.7,895.7 701.2,908.7 689.6,920.3 675.1,930.4 656.2,943.5 646.1,952.2 634.5,956.5 627.3,957.6 619.5,957.6 619.5,961.5 605.5,961.5 605.5,965.4 586.9,965.4 583.0,970.1 583.0,978.6 564.4,978.6 564.4,974.7 549.6,974.7 545.7,978.6 545.7,987.1 527.1,987.1 527.1,983.3 516.2,982.5 516.2,978.6 493.7,978.6 493.7,974.7 482.9,974.7 482.9,977.8 479.0,978.6 479.0,982.5 468.1,982.5 468.1,978.6 423.9,978.6 423.9,982.5 416.1,987.1 412.2,991.0 412.2,994.9 389.7,995.7 389.7,999.6 378.8,999.6 378.8,995.7 368.0,995.7 368.0,999.6 349.3,999.6 345.4,1003.4 345.4,1007.3 337.8,1011.7 331.0,1012.4 331.0,1016.1 308.6,1016.1 308.6,1012.4 304.9,1011.7 304.9,1008.0 294.3,1007.4 294.3,1003.7 286.3,999.9 286.3,995.6 271.4,995.0 271.4,978.8 264.5,981.9 260.2,982.5 260.2,995.0 257.1,995.0 257.1,991.2 253.4,990.6 253.4,983.2 249.6,982.5 249.6,974.5 253.4,973.9 253.4,962.0 257.1,961.4 257.1,957.7 253.4,957.1 253.4,954.0 249.6,953.4 249.6,945.3 242.2,944.7 242.2,940.3 238.4,936.0 234.7,931.6 231.0,927.9 231.0,907.4 242.2,907.4 242.2,911.1 245.9,907.4 249.6,907.4 249.6,898.7 252.7,898.1 252.7,895.0 249.6,894.3 249.6,865.2 245.9,864.5 242.2,856.5 238.4,852.1 234.7,847.8 231.0,843.4 227.3,834.7 223.5,831.0 219.8,822.3 216.1,817.3 212.4,809.9 208.6,801.2 204.9,796.2 204.7,784.5 201.0,784.0 201.0,776.1 197.3,775.6 197.3,763.5 194.0,763.1 194.0,751.0 190.3,750.5 190.3,742.6 186.6,742.1 186.6,730.0 182.8,729.5 182.8,725.8 179.1,725.3 179.1,717.4 175.4,716.9 175.4,713.2 171.6,712.7 171.6,704.8 167.9,704.3 167.9,696.0 175.4,696.0 175.4,692.2 182.8,691.8 182.8,679.2 186.6,678.7 186.6,670.8 201.0,670.8 201.0,675.0 204.7,675.0 204.7,678.7 212.2,679.2 212.2,696.0 215.9,696.4 215.9,704.3 227.1,704.8 227.1,708.5 242.0,709.0 242.0,713.2 286.3,713.2 286.3,716.9 290.5,716.9 290.5,709.0 294.2,708.5 294.2,704.8 301.2,704.3 301.2,700.6 304.9,700.1 304.9,696.4 312.4,696.0 312.4,692.2 323.6,691.8" fill="none" stroke="#F4E52A" stroke-width="14" stroke-linejoin="round" filter="url(#bl2)"/>
<rect x="160" y="360" width="750" height="670" fill="#EBEBEB" fill-opacity="0.12"/>
</g></g>
</g>
<g transform="translate(830,802)">
<rect x="131" y="270" width="807" height="69" fill="#D9D9D9"/>
<text x="534.5" y="316.8" text-anchor="middle" font-family="DejaVu Sans" font-size="36.67" fill="#1A1A1A">ub</text>
<rect x="131" y="339" width="807" height="710" fill="#EBEBEB"/>
<rect x="324.78" y="339" width="4.44" height="710" fill="#FFFFFF"/>
<rect x="547.18" y="339" width="4.44" height="710" fill="#FFFFFF"/>
<rect x="769.58" y="339" width="4.44" height="710" fill="#FFFFFF"/>
<rect x="131" y="364.98" width="807" height="4.44" fill="#FFFFFF"/>
<rect x="131" y="466.16" width="807" height="4.44" fill="#FFFFFF"/>
<rect x="131" y="567.34" width="807" height="4.44" fill="#FFFFFF"/>
<rect x="131" y="668.52" width="807" height="4.44" fill="#FFFFFF"/>
<rect x="131" y="769.70" width="807" height="4.44" fill="#FFFFFF"/>
<rect x="131" y="870.88" width="807" height="4.44" fill="#FFFFFF"/>
<rect x="131" y="972.06" width="807" height="4.44" fill="#FFFFFF"/>
<g clip-path="url(#sa)"><g>
<g filter="url(#bl)">
<rect x="170.8" y="366.7" width="23.2" height="26.3" fill="#3F4787"/>
<rect x="193.1" y="366.7" width="23.2" height="26.3" fill="#3F4787"/>
<rect x="215.3" y="366.7" width="23.2" height="26.3" fill="#404687"/>
<rect x="237.5" y="366.7" width="23.2" height="26.3" fill="#404587"/>
<rect x="259.8" y="366.7" width="23.2" height="26.3" fill="#404487"/>
<rect x="282.0" y="366.7" width="23.2" height="26.3" fill="#424186"/>
<rect x="304.3" y="366.7" width="23.2" height="26.3" fill="#433D85"/>
<rect x="326.5" y="366.7" width="23.2" height="26.3" fill="#443781"/>
<rect x="348.7" y="366.7" width="23.2" height="26.3" fill="#45317D"/>
<rect x="371.0" y="366.7" width="23.2" height="26.3" fill="#462A79"/>
<rect x="393.2" y="366.7" width="23.2" height="26.3" fill="#472676"/>
<rect x="415.5" y="366.7" width="23.2" height="26.3" fill="#482374"/>
<rect x="437.7" y="366.7" width="23.2" height="26.3" fill="#482274"/>
<rect x="459.9" y="366.7" width="23.2" height="26.3" fill="#45347F"/>
<rect x="482.2" y="366.7" width="23.2" height="26.3" fill="#404687"/>
<rect x="504.4" y="366.7" width="23.2" height="26.3" fill="#404687"/>
<rect x="526.7" y="366.7" width="23.2" height="26.3" fill="#375B8C"/>
<rect x="548.9" y="366.7" width="23.2" height="26.3" fill="#2D6F8E"/>
<rect x="571.1" y="366.7" width="23.2" height="26.3" fill="#375B8C"/>
<rect x="593.4" y="366.7" width="23.2" height="26.3" fill="#404687"/>
<rect x="615.6" y="366.7" width="23.2" height="26.3" fill="#433D85"/>
<rect x="637.9" y="366.7" width="23.2" height="26.3" fill="#433D85"/>
<rect x="660.1" y="366.7" width="23.2" height="26.3" fill="#404687"/>
<rect x="682.3" y="366.7" width="23.2" height="26.3" fill="#462D7B"/>
<rect x="704.6" y="366.7" width="23.2" height="26.3" fill="#482173"/>
<rect x="726.8" y="366.7" width="23.2" height="26.3" fill="#482173"/>
<rect x="749.1" y="366.7" width="23.2" height="26.3" fill="#482173"/>
<rect x="771.3" y="366.7" width="23.2" height="26.3" fill="#482173"/>
<rect x="793.5" y="366.7" width="23.2" height="26.3" fill="#482173"/>
<rect x="815.8" y="366.7" width="23.2" height="26.3" fill="#2D6F8E"/>
<rect x="838.0" y="366.7" width="23.2" height="26.3" fill="#443A83"/>
<rect x="860.3" y="366.7" width="23.2" height="26.3" fill="#482173"/>
<rect x="882.5" y="366.7" width="23.2" height="26.3" fill="#482173"/>
<rect x="170.8" y="392.0" width="23.2" height="26.3" fill="#3F4888"/>
<rect x="193.1" y="392.0" width="23.2" height="26.3" fill="#3F4887"/>
<rect x="215.3" y="392.0" width="23.2" height="26.3" fill="#3F4888"/>
<rect x="237.5" y="392.0" width="23.2" height="26.3" fill="#404687"/>
<rect x="259.8" y="392.0" width="23.2" height="26.3" fill="#404487"/>
<rect x="282.0" y="392.0" width="23.2" height="26.3" fill="#414386"/>
<rect x="304.3" y="392.0" width="23.2" height="26.3" fill="#433E85"/>
<rect x="326.5" y="392.0" width="23.2" height="26.3" fill="#443881"/>
<rect x="348.7" y="392.0" width="23.2" height="26.3" fill="#45307C"/>
<rect x="371.0" y="392.0" width="23.2" height="26.3" fill="#462A79"/>
<rect x="393.2" y="392.0" width="23.2" height="26.3" fill="#472575"/>
<rect x="415.5" y="392.0" width="23.2" height="26.3" fill="#482374"/>
<rect x="437.7" y="392.0" width="23.2" height="26.3" fill="#482173"/>
<rect x="459.9" y="392.0" width="23.2" height="26.3" fill="#462E7B"/>
<rect x="482.2" y="392.0" width="23.2" height="26.3" fill="#404687"/>
<rect x="504.4" y="392.0" width="23.2" height="26.3" fill="#404687"/>
<rect x="526.7" y="392.0" width="23.2" height="26.3" fill="#404687"/>
<rect x="548.9" y="392.0" width="23.2" height="26.3" fill="#385A8C"/>
<rect x="571.1" y="392.0" width="23.2" height="26.3" fill="#2D6F8E"/>
<rect x="593.4" y="392.0" width="23.2" height="26.3" fill="#385A8C"/>
<rect x="615.6" y="392.0" width="23.2" height="26.3" fill="#404687"/>
<rect x="637.9" y="392.0" width="23.2" height="26.3" fill="#45347F"/>
<rect x="660.1" y="392.0" width="23.2" height="26.3" fill="#45347F"/>
<rect x="682.3" y="392.0" width="23.2" height="26.3" fill="#404687"/>
<rect x="704.6" y="392.0" width="23.2" height="26.3" fill="#482173"/>
<rect x="726.8" y="392.0" width="23.2" height="26.3" fill="#482173"/>
<rect x="749.1" y="392.0" width="23.2" height="26.3" fill="#440154"/>
<rect x="771.3" y="392.0" width="23.2" height="26.3" fill="#482173"/>
<rect x="793.5" y="392.0" width="23.2" height="26.3" fill="#482173"/>
<rect x="815.8" y="392.0" width="23.2" height="26.3" fill="#482173"/>
<rect x="838.0" y="392.0" width="23.2" height="26.3" fill="#482173"/>
<rect x="860.3" y="392.0" width="23.2" height="26.3" fill="#482173"/>
<rect x="882.5" y="392.0" width="23.2" height="26.3" fill="#472575"/>
<rect x="170.8" y="417.3" width="23.2" height="26.3" fill="#3E4A88"/>
<rect x="193.1" y="417.3" width="23.2" height="26.3" fill="#3E4A88"/>
<rect x="215.3" y="417.3" width="23.2" height="26.3" fill="#3F4988"/>
<rect x="237.5" y="417.3" width="23.2" height="26.3" fill="#3E4988"/>
<rect x="259.8" y="417.3" width="23.2" height="26.3" fill="#404687"/>
<rect x="282.0" y="417.3" width="23.2" height="26.3" fill="#414286"/>
<rect x="304.3" y="417.3" width="23.2" height="26.3" fill="#423F85"/>
<rect x="326.5" y="417.3" width="23.2" height="26.3" fill="#443781"/>
<rect x="348.7" y="417.3" width="23.2" height="26.3" fill="#45317D"/>
<rect x="371.0" y="417.3" width="23.2" height="26.3" fill="#472877"/>
<rect x="393.2" y="417.3" width="23.2" height="26.3" fill="#472576"/>
<rect x="415.5" y="417.3" width="23.2" height="26.3" fill="#482173"/>
<rect x="437.7" y="417.3" width="23.2" height="26.3" fill="#482274"/>
<rect x="459.9" y="417.3" width="23.2" height="26.3" fill="#472777"/>
<rect x="482.2" y="417.3" width="23.2" height="26.3" fill="#443580"/>
<rect x="504.4" y="417.3" width="23.2" height="26.3" fill="#404687"/>
<rect x="526.7" y="417.3" width="23.2" height="26.3" fill="#404687"/>
<rect x="548.9" y="417.3" width="23.2" height="26.3" fill="#404687"/>
<rect x="571.1" y="417.3" width="23.2" height="26.3" fill="#3A558B"/>
<rect x="593.4" y="417.3" width="23.2" height="26.3" fill="#2D6F8E"/>
<rect x="615.6" y="417.3" width="23.2" height="26.3" fill="#3A558B"/>
<rect x="637.9" y="417.3" width="23.2" height="26.3" fill="#404687"/>
<rect x="660.1" y="417.3" width="23.2" height="26.3" fill="#482173"/>
<rect x="682.3" y="417.3" width="23.2" height="26.3" fill="#482173"/>
<rect x="704.6" y="417.3" width="23.2" height="26.3" fill="#440154"/>
<rect x="726.8" y="417.3" width="23.2" height="26.3" fill="#482173"/>
<rect x="749.1" y="417.3" width="23.2" height="26.3" fill="#482173"/>
<rect x="771.3" y="417.3" width="23.2" height="26.3" fill="#440154"/>
<rect x="793.5" y="417.3" width="23.2" height="26.3" fill="#482173"/>
<rect x="815.8" y="417.3" width="23.2" height="26.3" fill="#482173"/>
<rect x="838.0" y="417.3" width="23.2" height="26.3" fill="#482173"/>
<rect x="860.3" y="417.3" width="23.2" height="26.3" fill="#462D7B"/>
<rect x="882.5" y="417.3" width="23.2" height="26.3" fill="#45327E"/>
<rect x="170.8" y="442.6" width="23.2" height="26.3" fill="#3D4E89"/>
<rect x="193.1" y="442.6" width="23.2" height="26.3" fill="#3D4D89"/>
<rect x="215.3" y="442.6" width="23.2" height="26.3" fill="#3D4C89"/>
<rect x="237.5" y="442.6" width="23.2" height="26.3" fill="#3E4B88"/>
<rect x="259.8" y="442.6" width="23.2" height="26.3" fill="#3D4C89"/>
<rect x="282.0" y="442.6" width="23.2" height="26.3" fill="#404687"/>
<rect x="304.3" y="442.6" width="23.2" height="26.3" fill="#433D85"/>
<rect x="326.5" y="442.6" width="23.2" height="26.3" fill="#443A83"/>
<rect x="348.7" y="442.6" width="23.2" height="26.3" fill="#462D7B"/>
<rect x="371.0" y="442.6" width="23.2" height="26.3" fill="#462A79"/>
<rect x="393.2" y="442.6" width="23.2" height="26.3" fill="#482173"/>
<rect x="415.5" y="442.6" width="23.2" height="26.3" fill="#482173"/>
<rect x="437.7" y="442.6" width="23.2" height="26.3" fill="#482274"/>
<rect x="459.9" y="442.6" width="23.2" height="26.3" fill="#472676"/>
<rect x="482.2" y="442.6" width="23.2" height="26.3" fill="#462D7B"/>
<rect x="504.4" y="442.6" width="23.2" height="26.3" fill="#433B83"/>
<rect x="526.7" y="442.6" width="23.2" height="26.3" fill="#404687"/>
<rect x="548.9" y="442.6" width="23.2" height="26.3" fill="#404687"/>
<rect x="571.1" y="442.6" width="23.2" height="26.3" fill="#404687"/>
<rect x="593.4" y="442.6" width="23.2" height="26.3" fill="#404687"/>
<rect x="615.6" y="442.6" width="23.2" height="26.3" fill="#2D6F8E"/>
<rect x="637.9" y="442.6" width="23.2" height="26.3" fill="#404687"/>
<rect x="660.1" y="442.6" width="23.2" height="26.3" fill="#404687"/>
<rect x="682.3" y="442.6" width="23.2" height="26.3" fill="#404687"/>
<rect x="704.6" y="442.6" width="23.2" height="26.3" fill="#404687"/>
<rect x="726.8" y="442.6" width="23.2" height="26.3" fill="#404687"/>
<rect x="749.1" y="442.6" width="23.2" height="26.3" fill="#482173"/>
<rect x="771.3" y="442.6" width="23.2" height="26.3" fill="#404687"/>
<rect x="793.5" y="442.6" width="23.2" height="26.3" fill="#482173"/>
<rect x="815.8" y="442.6" width="23.2" height="26.3" fill="#404687"/>
<rect x="838.0" y="442.6" width="23.2" height="26.3" fill="#404687"/>
<rect x="860.3" y="442.6" width="23.2" height="26.3" fill="#45347F"/>
<rect x="882.5" y="442.6" width="23.2" height="26.3" fill="#404687"/>
<rect x="170.8" y="467.9" width="23.2" height="26.3" fill="#30698D"/>
<rect x="193.1" y="467.9" width="23.2" height="26.3" fill="#3A538A"/>
<rect x="215.3" y="467.9" width="23.2" height="26.3" fill="#3B518A"/>
<rect x="237.5" y="467.9" width="23.2" height="26.3" fill="#3B508A"/>
<rect x="259.8" y="467.9" width="23.2" height="26.3" fill="#3C4E89"/>
<rect x="282.0" y="467.9" width="23.2" height="26.3" fill="#3B528A"/>
<rect x="304.3" y="467.9" width="23.2" height="26.3" fill="#404687"/>
<rect x="326.5" y="467.9" width="23.2" height="26.3" fill="#45347F"/>
<rect x="348.7" y="467.9" width="23.2" height="26.3" fill="#45347F"/>
<rect x="371.0" y="467.9" width="23.2" height="26.3" fill="#482173"/>
<rect x="393.2" y="467.9" width="23.2" height="26.3" fill="#482173"/>
<rect x="415.5" y="467.9" width="23.2" height="26.3" fill="#482173"/>
<rect x="437.7" y="467.9" width="23.2" height="26.3" fill="#482173"/>
<rect x="459.9" y="467.9" width="23.2" height="26.3" fill="#472575"/>
<rect x="482.2" y="467.9" width="23.2" height="26.3" fill="#462B79"/>
<rect x="504.4" y="467.9" width="23.2" height="26.3" fill="#443881"/>
<rect x="526.7" y="467.9" width="23.2" height="26.3" fill="#414286"/>
<rect x="548.9" y="467.9" width="23.2" height="26.3" fill="#404687"/>
<rect x="571.1" y="467.9" width="23.2" height="26.3" fill="#404687"/>
<rect x="593.4" y="467.9" width="23.2" height="26.3" fill="#404687"/>
<rect x="615.6" y="467.9" width="23.2" height="26.3" fill="#482173"/>
<rect x="637.9" y="467.9" width="23.2" height="26.3" fill="#404687"/>
<rect x="660.1" y="467.9" width="23.2" height="26.3" fill="#2D6F8E"/>
<rect x="682.3" y="467.9" width="23.2" height="26.3" fill="#22908C"/>
<rect x="704.6" y="467.9" width="23.2" height="26.3" fill="#22908C"/>
<rect x="726.8" y="467.9" width="23.2" height="26.3" fill="#404687"/>
<rect x="749.1" y="467.9" width="23.2" height="26.3" fill="#404687"/>
<rect x="771.3" y="467.9" width="23.2" height="26.3" fill="#482173"/>
<rect x="793.5" y="467.9" width="23.2" height="26.3" fill="#482173"/>
<rect x="815.8" y="467.9" width="23.2" height="26.3" fill="#482173"/>
<rect x="838.0" y="467.9" width="23.2" height="26.3" fill="#482173"/>
<rect x="860.3" y="467.9" width="23.2" height="26.3" fill="#404687"/>
<rect x="882.5" y="467.9" width="23.2" height="26.3" fill="#45347F"/>
<rect x="170.8" y="493.2" width="23.2" height="26.3" fill="#22908C"/>
<rect x="193.1" y="493.2" width="23.2" height="26.3" fill="#2E6E8E"/>
<rect x="215.3" y="493.2" width="23.2" height="26.3" fill="#375B8C"/>
<rect x="237.5" y="493.2" width="23.2" height="26.3" fill="#38598C"/>
<rect x="259.8" y="493.2" width="23.2" height="26.3" fill="#39578C"/>
<rect x="282.0" y="493.2" width="23.2" height="26.3" fill="#3B538A"/>
<rect x="304.3" y="493.2" width="23.2" height="26.3" fill="#375C8C"/>
<rect x="326.5" y="493.2" width="23.2" height="26.3" fill="#404687"/>
<rect x="348.7" y="493.2" width="23.2" height="26.3" fill="#482173"/>
<rect x="371.0" y="493.2" width="23.2" height="26.3" fill="#482173"/>
<rect x="393.2" y="493.2" width="23.2" height="26.3" fill="#462A79"/>
<rect x="415.5" y="493.2" width="23.2" height="26.3" fill="#443680"/>
<rect x="437.7" y="493.2" width="23.2" height="26.3" fill="#482173"/>
<rect x="459.9" y="493.2" width="23.2" height="26.3" fill="#482173"/>
<rect x="482.2" y="493.2" width="23.2" height="26.3" fill="#462D7B"/>
<rect x="504.4" y="493.2" width="23.2" height="26.3" fill="#45347F"/>
<rect x="526.7" y="493.2" width="23.2" height="26.3" fill="#404687"/>
<rect x="548.9" y="493.2" width="23.2" height="26.3" fill="#404687"/>
<rect x="571.1" y="493.2" width="23.2" height="26.3" fill="#404687"/>
<rect x="593.4" y="493.2" width="23.2" height="26.3" fill="#404687"/>
<rect x="615.6" y="493.2" width="23.2" height="26.3" fill="#482173"/>
<rect x="637.9" y="493.2" width="23.2" height="26.3" fill="#2D6F8E"/>
<rect x="660.1" y="493.2" width="23.2" height="26.3" fill="#2D6F8E"/>
<rect x="682.3" y="493.2" width="23.2" height="26.3" fill="#2D6F8E"/>
<rect x="704.6" y="493.2" width="23.2" height="26.3" fill="#2D6F8E"/>
<rect x="726.8" y="493.2" width="23.2" height="26.3" fill="#404687"/>
<rect x="749.1" y="493.2" width="23.2" height="26.3" fill="#2D6F8E"/>
<rect x="771.3" y="493.2" width="23.2" height="26.3" fill="#404687"/>
<rect x="793.5" y="493.2" width="23.2" height="26.3" fill="#404687"/>
<rect x="815.8" y="493.2" width="23.2" height="26.3" fill="#404687"/>
<rect x="838.0" y="493.2" width="23.2" height="26.3" fill="#404687"/>
<rect x="860.3" y="493.2" width="23.2" height="26.3" fill="#482173"/>
<rect x="882.5" y="493.2" width="23.2" height="26.3" fill="#33628D"/>
<rect x="170.8" y="518.5" width="23.2" height="26.3" fill="#238A8D"/>
<rect x="193.1" y="518.5" width="23.2" height="26.3" fill="#22908C"/>
<rect x="215.3" y="518.5" width="23.2" height="26.3" fill="#2B748E"/>
<rect x="237.5" y="518.5" width="23.2" height="26.3" fill="#32678D"/>
<rect x="259.8" y="518.5" width="23.2" height="26.3" fill="#33628D"/>
<rect x="282.0" y="518.5" width="23.2" height="26.3" fill="#34608D"/>
<rect x="304.3" y="518.5" width="23.2" height="26.3" fill="#3A558B"/>
<rect x="326.5" y="518.5" width="23.2" height="26.3" fill="#2D6F8E"/>
<rect x="348.7" y="518.5" width="23.2" height="26.3" fill="#482173"/>
<rect x="371.0" y="518.5" width="23.2" height="26.3" fill="#482173"/>
<rect x="393.2" y="518.5" width="23.2" height="26.3" fill="#45347F"/>
<rect x="415.5" y="518.5" width="23.2" height="26.3" fill="#404687"/>
<rect x="437.7" y="518.5" width="23.2" height="26.3" fill="#443A83"/>
<rect x="459.9" y="518.5" width="23.2" height="26.3" fill="#482173"/>
<rect x="482.2" y="518.5" width="23.2" height="26.3" fill="#482173"/>
<rect x="504.4" y="518.5" width="23.2" height="26.3" fill="#404687"/>
<rect x="526.7" y="518.5" width="23.2" height="26.3" fill="#404687"/>
<rect x="548.9" y="518.5" width="23.2" height="26.3" fill="#35608D"/>
<rect x="571.1" y="518.5" width="23.2" height="26.3" fill="#404687"/>
<rect x="593.4" y="518.5" width="23.2" height="26.3" fill="#2D6F8E"/>
<rect x="615.6" y="518.5" width="23.2" height="26.3" fill="#2D6F8E"/>
<rect x="637.9" y="518.5" width="23.2" height="26.3" fill="#22908C"/>
<rect x="660.1" y="518.5" width="23.2" height="26.3" fill="#22908C"/>
<rect x="682.3" y="518.5" width="23.2" height="26.3" fill="#22908C"/>
<rect x="704.6" y="518.5" width="23.2" height="26.3" fill="#2D6F8E"/>
<rect x="726.8" y="518.5" width="23.2" height="26.3" fill="#22908C"/>
<rect x="749.1" y="518.5" width="23.2" height="26.3" fill="#22908C"/>
<rect x="771.3" y="518.5" width="23.2" height="26.3" fill="#2AAF80"/>
<rect x="793.5" y="518.5" width="23.2" height="26.3" fill="#404687"/>
<rect x="815.8" y="518.5" width="23.2" height="26.3" fill="#404687"/>
<rect x="838.0" y="518.5" width="23.2" height="26.3" fill="#2D6F8E"/>
<rect x="860.3" y="518.5" width="23.2" height="26.3" fill="#2AAF80"/>
<rect x="882.5" y="518.5" width="23.2" height="26.3" fill="#297A8E"/>
<rect x="170.8" y="543.8" width="23.2" height="26.3" fill="#25868E"/>
<rect x="193.1" y="543.8" width="23.2" height="26.3" fill="#24888D"/>
<rect x="215.3" y="543.8" width="23.2" height="26.3" fill="#22908C"/>
<rect x="237.5" y="543.8" width="23.2" height="26.3" fill="#277F8E"/>
<rect x="259.8" y="543.8" width="23.2" height="26.3" fill="#2A788E"/>
<rect x="282.0" y="543.8" width="23.2" height="26.3" fill="#2C738E"/>
<rect x="304.3" y="543.8" width="23.2" height="26.3" fill="#2D6F8E"/>
<rect x="326.5" y="543.8" width="23.2" height="26.3" fill="#404687"/>
<rect x="348.7" y="543.8" width="23.2" height="26.3" fill="#482173"/>
<rect x="371.0" y="543.8" width="23.2" height="26.3" fill="#482173"/>
<rect x="393.2" y="543.8" width="23.2" height="26.3" fill="#404687"/>
<rect x="415.5" y="543.8" width="23.2" height="26.3" fill="#404687"/>
<rect x="437.7" y="543.8" width="23.2" height="26.3" fill="#404687"/>
<rect x="459.9" y="543.8" width="23.2" height="26.3" fill="#404687"/>
<rect x="482.2" y="543.8" width="23.2" height="26.3" fill="#2D6F8E"/>
<rect x="504.4" y="543.8" width="23.2" height="26.3" fill="#482173"/>
<rect x="526.7" y="543.8" width="23.2" height="26.3" fill="#2D6F8E"/>
<rect x="548.9" y="543.8" width="23.2" height="26.3" fill="#404687"/>
<rect x="571.1" y="543.8" width="23.2" height="26.3" fill="#22908C"/>
<rect x="593.4" y="543.8" width="23.2" height="26.3" fill="#2AAF80"/>
<rect x="615.6" y="543.8" width="23.2" height="26.3" fill="#22908C"/>
<rect x="637.9" y="543.8" width="23.2" height="26.3" fill="#2D6F8E"/>
<rect x="660.1" y="543.8" width="23.2" height="26.3" fill="#2D6F8E"/>
<rect x="682.3" y="543.8" width="23.2" height="26.3" fill="#22908C"/>
<rect x="704.6" y="543.8" width="23.2" height="26.3" fill="#64CB5E"/>
<rect x="726.8" y="543.8" width="23.2" height="26.3" fill="#AEDC2F"/>
<rect x="749.1" y="543.8" width="23.2" height="26.3" fill="#64CB5E"/>
<rect x="771.3" y="543.8" width="23.2" height="26.3" fill="#2AAF80"/>
<rect x="793.5" y="543.8" width="23.2" height="26.3" fill="#404687"/>
<rect x="815.8" y="543.8" width="23.2" height="26.3" fill="#404687"/>
<rect x="838.0" y="543.8" width="23.2" height="26.3" fill="#2AAF80"/>
<rect x="860.3" y="543.8" width="23.2" height="26.3" fill="#22908C"/>
<rect x="882.5" y="543.8" width="23.2" height="26.3" fill="#21A088"/>
<rect x="170.8" y="569.1" width="23.2" height="26.3" fill="#24888D"/>
<rect x="193.1" y="569.1" width="23.2" height="26.3" fill="#25848E"/>
<rect x="215.3" y="569.1" width="23.2" height="26.3" fill="#25858E"/>
<rect x="237.5" y="569.1" width="23.2" height="26.3" fill="#22908C"/>
<rect x="259.8" y="569.1" width="23.2" height="26.3" fill="#228F8C"/>
<rect x="282.0" y="569.1" width="23.2" height="26.3" fill="#20938B"/>
<rect x="304.3" y="569.1" width="23.2" height="26.3" fill="#22908C"/>
<rect x="326.5" y="569.1" width="23.2" height="26.3" fill="#22908C"/>
<rect x="348.7" y="569.1" width="23.2" height="26.3" fill="#482173"/>
<rect x="371.0" y="569.1" width="23.2" height="26.3" fill="#443881"/>
<rect x="393.2" y="569.1" width="23.2" height="26.3" fill="#404687"/>
<rect x="415.5" y="569.1" width="23.2" height="26.3" fill="#404687"/>
<rect x="437.7" y="569.1" width="23.2" height="26.3" fill="#404687"/>
<rect x="459.9" y="569.1" width="23.2" height="26.3" fill="#404687"/>
<rect x="482.2" y="569.1" width="23.2" height="26.3" fill="#482173"/>
<rect x="504.4" y="569.1" width="23.2" height="26.3" fill="#404687"/>
<rect x="526.7" y="569.1" width="23.2" height="26.3" fill="#22908C"/>
<rect x="548.9" y="569.1" width="23.2" height="26.3" fill="#22908C"/>
<rect x="571.1" y="569.1" width="23.2" height="26.3" fill="#22908C"/>
<rect x="593.4" y="569.1" width="23.2" height="26.3" fill="#2AAF80"/>
<rect x="615.6" y="569.1" width="23.2" height="26.3" fill="#22908C"/>
<rect x="637.9" y="569.1" width="23.2" height="26.3" fill="#2AAF80"/>
<rect x="660.1" y="569.1" width="23.2" height="26.3" fill="#2AAF80"/>
<rect x="682.3" y="569.1" width="23.2" height="26.3" fill="#E3E324"/>
<rect x="704.6" y="569.1" width="23.2" height="26.3" fill="#E3E324"/>
<rect x="726.8" y="569.1" width="23.2" height="26.3" fill="#E3E324"/>
<rect x="749.1" y="569.1" width="23.2" height="26.3" fill="#AEDC2F"/>
<rect x="771.3" y="569.1" width="23.2" height="26.3" fill="#2AAF80"/>
<rect x="793.5" y="569.1" width="23.2" height="26.3" fill="#2D6F8E"/>
<rect x="815.8" y="569.1" width="23.2" height="26.3" fill="#404687"/>
<rect x="838.0" y="569.1" width="23.2" height="26.3" fill="#1F968B"/>
<rect x="860.3" y="569.1" width="23.2" height="26.3" fill="#75D054"/>
<rect x="882.5" y="569.1" width="23.2" height="26.3" fill="#94D741"/>
<rect x="170.8" y="594.4" width="23.2" height="26.3" fill="#238A8D"/>
<rect x="193.1" y="594.4" width="23.2" height="26.3" fill="#24878E"/>
<rect x="215.3" y="594.4" width="23.2" height="26.3" fill="#297C8E"/>
<rect x="237.5" y="594.4" width="23.2" height="26.3" fill="#26838E"/>
<rect x="259.8" y="594.4" width="23.2" height="26.3" fill="#22908C"/>
<rect x="282.0" y="594.4" width="23.2" height="26.3" fill="#24A485"/>
<rect x="304.3" y="594.4" width="23.2" height="26.3" fill="#3AB976"/>
<rect x="326.5" y="594.4" width="23.2" height="26.3" fill="#64CB5E"/>
<rect x="348.7" y="594.4" width="23.2" height="26.3" fill="#404687"/>
<rect x="371.0" y="594.4" width="23.2" height="26.3" fill="#404687"/>
<rect x="393.2" y="594.4" width="23.2" height="26.3" fill="#404687"/>
<rect x="415.5" y="594.4" width="23.2" height="26.3" fill="#404687"/>
<rect x="437.7" y="594.4" width="23.2" height="26.3" fill="#404687"/>
<rect x="459.9" y="594.4" width="23.2" height="26.3" fill="#482173"/>
<rect x="482.2" y="594.4" width="23.2" height="26.3" fill="#404687"/>
<rect x="504.4" y="594.4" width="23.2" height="26.3" fill="#22908C"/>
<rect x="526.7" y="594.4" width="23.2" height="26.3" fill="#2AAF80"/>
<rect x="548.9" y="594.4" width="23.2" height="26.3" fill="#22908C"/>
<rect x="571.1" y="594.4" width="23.2" height="26.3" fill="#2AAF80"/>
<rect x="593.4" y="594.4" width="23.2" height="26.3" fill="#64CB5E"/>
<rect x="615.6" y="594.4" width="23.2" height="26.3" fill="#2AAF80"/>
<rect x="637.9" y="594.4" width="23.2" height="26.3" fill="#64CB5E"/>
<rect x="660.1" y="594.4" width="23.2" height="26.3" fill="#AEDC2F"/>
<rect x="682.3" y="594.4" width="23.2" height="26.3" fill="#E3E324"/>
<rect x="704.6" y="594.4" width="23.2" height="26.3" fill="#E3E324"/>
<rect x="726.8" y="594.4" width="23.2" height="26.3" fill="#E3E324"/>
<rect x="749.1" y="594.4" width="23.2" height="26.3" fill="#AEDC2F"/>
<rect x="771.3" y="594.4" width="23.2" height="26.3" fill="#64CB5E"/>
<rect x="793.5" y="594.4" width="23.2" height="26.3" fill="#22908C"/>
<rect x="815.8" y="594.4" width="23.2" height="26.3" fill="#25858E"/>
<rect x="838.0" y="594.4" width="23.2" height="26.3" fill="#23A386"/>
<rect x="860.3" y="594.4" width="23.2" height="26.3" fill="#E3E324"/>
<rect x="882.5" y="594.4" width="23.2" height="26.3" fill="#E3E324"/>
<rect x="170.8" y="619.6" width="23.2" height="26.3" fill="#22908C"/>
<rect x="193.1" y="619.6" width="23.2" height="26.3" fill="#25858E"/>
<rect x="215.3" y="619.6" width="23.2" height="26.3" fill="#277F8E"/>
<rect x="237.5" y="619.6" width="23.2" height="26.3" fill="#2D6F8E"/>
<rect x="259.8" y="619.6" width="23.2" height="26.3" fill="#22908C"/>
<rect x="282.0" y="619.6" width="23.2" height="26.3" fill="#22908C"/>
<rect x="304.3" y="619.6" width="23.2" height="26.3" fill="#36B679"/>
<rect x="326.5" y="619.6" width="23.2" height="26.3" fill="#64CB5E"/>
<rect x="348.7" y="619.6" width="23.2" height="26.3" fill="#2AAF80"/>
<rect x="371.0" y="619.6" width="23.2" height="26.3" fill="#404687"/>
<rect x="393.2" y="619.6" width="23.2" height="26.3" fill="#482173"/>
<rect x="415.5" y="619.6" width="23.2" height="26.3" fill="#404687"/>
<rect x="437.7" y="619.6" width="23.2" height="26.3" fill="#404687"/>
<rect x="459.9" y="619.6" width="23.2" height="26.3" fill="#404687"/>
<rect x="482.2" y="619.6" width="23.2" height="26.3" fill="#2D6F8E"/>
<rect x="504.4" y="619.6" width="23.2" height="26.3" fill="#2AAF80"/>
<rect x="526.7" y="619.6" width="23.2" height="26.3" fill="#64CB5E"/>
<rect x="548.9" y="619.6" width="23.2" height="26.3" fill="#2AAF80"/>
<rect x="571.1" y="619.6" width="23.2" height="26.3" fill="#64CB5E"/>
<rect x="593.4" y="619.6" width="23.2" height="26.3" fill="#2AAF80"/>
<rect x="615.6" y="619.6" width="23.2" height="26.3" fill="#AEDC2F"/>
<rect x="637.9" y="619.6" width="23.2" height="26.3" fill="#AEDC2F"/>
<rect x="660.1" y="619.6" width="23.2" height="26.3" fill="#AEDC2F"/>
<rect x="682.3" y="619.6" width="23.2" height="26.3" fill="#AEDC2F"/>
<rect x="704.6" y="619.6" width="23.2" height="26.3" fill="#E3E324"/>
<rect x="726.8" y="619.6" width="23.2" height="26.3" fill="#AEDC2F"/>
<rect x="749.1" y="619.6" width="23.2" height="26.3" fill="#E3E324"/>
<rect x="771.3" y="619.6" width="23.2" height="26.3" fill="#E3E324"/>
<rect x="793.5" y="619.6" width="23.2" height="26.3" fill="#64CB5E"/>
<rect x="815.8" y="619.6" width="23.2" height="26.3" fill="#22908C"/>
<rect x="838.0" y="619.6" width="23.2" height="26.3" fill="#2D6F8E"/>
<rect x="860.3" y="619.6" width="23.2" height="26.3" fill="#64CB5E"/>
<rect x="882.5" y="619.6" width="23.2" height="26.3" fill="#E3E324"/>
<rect x="170.8" y="644.9" width="23.2" height="26.3" fill="#22908C"/>
<rect x="193.1" y="644.9" width="23.2" height="26.3" fill="#22908C"/>
<rect x="215.3" y="644.9" width="23.2" height="26.3" fill="#2D6F8E"/>
<rect x="237.5" y="644.9" width="23.2" height="26.3" fill="#1F978B"/>
<rect x="259.8" y="644.9" width="23.2" height="26.3" fill="#1F998A"/>
<rect x="282.0" y="644.9" width="23.2" height="26.3" fill="#22908C"/>
<rect x="304.3" y="644.9" width="23.2" height="26.3" fill="#22908C"/>
<rect x="326.5" y="644.9" width="23.2" height="26.3" fill="#2AAF80"/>
<rect x="348.7" y="644.9" width="23.2" height="26.3" fill="#64CB5E"/>
<rect x="371.0" y="644.9" width="23.2" height="26.3" fill="#22908C"/>
<rect x="393.2" y="644.9" width="23.2" height="26.3" fill="#482173"/>
<rect x="415.5" y="644.9" width="23.2" height="26.3" fill="#482173"/>
<rect x="437.7" y="644.9" width="23.2" height="26.3" fill="#482173"/>
<rect x="459.9" y="644.9" width="23.2" height="26.3" fill="#2D6F8E"/>
<rect x="482.2" y="644.9" width="23.2" height="26.3" fill="#22908C"/>
<rect x="504.4" y="644.9" width="23.2" height="26.3" fill="#2AAF80"/>
<rect x="526.7" y="644.9" width="23.2" height="26.3" fill="#64CB5E"/>
<rect x="548.9" y="644.9" width="23.2" height="26.3" fill="#22908C"/>
<rect x="571.1" y="644.9" width="23.2" height="26.3" fill="#64CB5E"/>
<rect x="593.4" y="644.9" width="23.2" height="26.3" fill="#64CB5E"/>
<rect x="615.6" y="644.9" width="23.2" height="26.3" fill="#AEDC2F"/>
<rect x="637.9" y="644.9" width="23.2" height="26.3" fill="#AEDC2F"/>
<rect x="660.1" y="644.9" width="23.2" height="26.3" fill="#AEDC2F"/>
<rect x="682.3" y="644.9" width="23.2" height="26.3" fill="#AEDC2F"/>
<rect x="704.6" y="644.9" width="23.2" height="26.3" fill="#E3E324"/>
<rect x="726.8" y="644.9" width="23.2" height="26.3" fill="#E3E324"/>
<rect x="749.1" y="644.9" width="23.2" height="26.3" fill="#E3E324"/>
<rect x="771.3" y="644.9" width="23.2" height="26.3" fill="#E3E324"/>
<rect x="793.5" y="644.9" width="23.2" height="26.3" fill="#AEDC2F"/>
<rect x="815.8" y="644.9" width="23.2" height="26.3" fill="#22908C"/>
<rect x="838.0" y="644.9" width="23.2" height="26.3" fill="#2D6F8E"/>
<rect x="860.3" y="644.9" width="23.2" height="26.3" fill="#64CB5E"/>
<rect x="882.5" y="644.9" width="23.2" height="26.3" fill="#E3E324"/>
<rect x="170.8" y="670.2" width="23.2" height="26.3" fill="#2AAF80"/>
<rect x="193.1" y="670.2" width="23.2" height="26.3" fill="#2D6F8E"/>
<rect x="215.3" y="670.2" width="23.2" height="26.3" fill="#1F988B"/>
<rect x="237.5" y="670.2" width="23.2" height="26.3" fill="#2AAF80"/>
<rect x="259.8" y="670.2" width="23.2" height="26.3" fill="#24A585"/>
<rect x="282.0" y="670.2" width="23.2" height="26.3" fill="#24898D"/>
<rect x="304.3" y="670.2" width="23.2" height="26.3" fill="#22908C"/>
<rect x="326.5" y="670.2" width="23.2" height="26.3" fill="#2AAF80"/>
<rect x="348.7" y="670.2" width="23.2" height="26.3" fill="#2AAF80"/>
<rect x="371.0" y="670.2" width="23.2" height="26.3" fill="#22908C"/>
<rect x="393.2" y="670.2" width="23.2" height="26.3" fill="#482173"/>
<rect x="415.5" y="670.2" width="23.2" height="26.3" fill="#482173"/>
<rect x="437.7" y="670.2" width="23.2" height="26.3" fill="#404687"/>
<rect x="459.9" y="670.2" width="23.2" height="26.3" fill="#22908C"/>
<rect x="482.2" y="670.2" width="23.2" height="26.3" fill="#64CB5E"/>
<rect x="504.4" y="670.2" width="23.2" height="26.3" fill="#2AAF80"/>
<rect x="526.7" y="670.2" width="23.2" height="26.3" fill="#2AAF80"/>
<rect x="548.9" y="670.2" width="23.2" height="26.3" fill="#22908C"/>
<rect x="571.1" y="670.2" width="23.2" height="26.3" fill="#64CB5E"/>
<rect x="593.4" y="670.2" width="23.2" height="26.3" fill="#AEDC2F"/>
<rect x="615.6" y="670.2" width="23.2" height="26.3" fill="#AEDC2F"/>
<rect x="637.9" y="670.2" width="23.2" height="26.3" fill="#64CB5E"/>
<rect x="660.1" y="670.2" width="23.2" height="26.3" fill="#AEDC2F"/>
<rect x="682.3" y="670.2" width="23.2" height="26.3" fill="#AEDC2F"/>
<rect x="704.6" y="670.2" width="23.2" height="26.3" fill="#E3E324"/>
<rect x="726.8" y="670.2" width="23.2" height="26.3" fill="#E3E324"/>
<rect x="749.1" y="670.2" width="23.2" height="26.3" fill="#E3E324"/>
<rect x="771.3" y="670.2" width="23.2" height="26.3" fill="#E3E324"/>
<rect x="793.5" y="670.2" width="23.2" height="26.3" fill="#AEDC2F"/>
<rect x="815.8" y="670.2" width="23.2" height="26.3" fill="#2AAF80"/>
<rect x="838.0" y="670.2" width="23.2" height="26.3" fill="#2D6F8E"/>
<rect x="860.3" y="670.2" width="23.2" height="26.3" fill="#AEDC2F"/>
<rect x="882.5" y="670.2" width="23.2" height="26.3" fill="#E3E324"/>
<rect x="170.8" y="695.5" width="23.2" height="26.3" fill="#64CB5E"/>
<rect x="193.1" y="695.5" width="23.2" height="26.3" fill="#22908C"/>
<rect x="215.3" y="695.5" width="23.2" height="26.3" fill="#2AAF80"/>
<rect x="237.5" y="695.5" width="23.2" height="26.3" fill="#2AAF80"/>
<rect x="259.8" y="695.5" width="23.2" height="26.3" fill="#2AAF80"/>
<rect x="282.0" y="695.5" width="23.2" height="26.3" fill="#22908C"/>
<rect x="304.3" y="695.5" width="23.2" height="26.3" fill="#404687"/>
<rect x="326.5" y="695.5" width="23.2" height="26.3" fill="#404687"/>
<rect x="348.7" y="695.5" width="23.2" height="26.3" fill="#2D6F8E"/>
<rect x="371.0" y="695.5" width="23.2" height="26.3" fill="#404687"/>
<rect x="393.2" y="695.5" width="23.2" height="26.3" fill="#404687"/>
<rect x="415.5" y="695.5" width="23.2" height="26.3" fill="#482173"/>
<rect x="437.7" y="695.5" width="23.2" height="26.3" fill="#404687"/>
<rect x="459.9" y="695.5" width="23.2" height="26.3" fill="#22908C"/>
<rect x="482.2" y="695.5" width="23.2" height="26.3" fill="#2AAF80"/>
<rect x="504.4" y="695.5" width="23.2" height="26.3" fill="#2AAF80"/>
<rect x="526.7" y="695.5" width="23.2" height="26.3" fill="#64CB5E"/>
<rect x="548.9" y="695.5" width="23.2" height="26.3" fill="#2AAF80"/>
<rect x="571.1" y="695.5" width="23.2" height="26.3" fill="#AEDC2F"/>
<rect x="593.4" y="695.5" width="23.2" height="26.3" fill="#AEDC2F"/>
<rect x="615.6" y="695.5" width="23.2" height="26.3" fill="#AEDC2F"/>
<rect x="637.9" y="695.5" width="23.2" height="26.3" fill="#AEDC2F"/>
<rect x="660.1" y="695.5" width="23.2" height="26.3" fill="#AEDC2F"/>
<rect x="682.3" y="695.5" width="23.2" height="26.3" fill="#64CB5E"/>
<rect x="704.6" y="695.5" width="23.2" height="26.3" fill="#2AAF80"/>
<rect x="726.8" y="695.5" width="23.2" height="26.3" fill="#AEDC2F"/>
<rect x="749.1" y="695.5" width="23.2" height="26.3" fill="#E3E324"/>
<rect x="771.3" y="695.5" width="23.2" height="26.3" fill="#E3E324"/>
<rect x="793.5" y="695.5" width="23.2" height="26.3" fill="#64CB5E"/>
<rect x="815.8" y="695.5" width="23.2" height="26.3" fill="#22908C"/>
<rect x="838.0" y="695.5" width="23.2" height="26.3" fill="#AEDC2F"/>
<rect x="860.3" y="695.5" width="23.2" height="26.3" fill="#E3E324"/>
<rect x="882.5" y="695.5" width="23.2" height="26.3" fill="#D6E224"/>
<rect x="170.8" y="720.8" width="23.2" height="26.3" fill="#64CB5E"/>
<rect x="193.1" y="720.8" width="23.2" height="26.3" fill="#22908C"/>
<rect x="215.3" y="720.8" width="23.2" height="26.3" fill="#22908C"/>
<rect x="237.5" y="720.8" width="23.2" height="26.3" fill="#22908C"/>
<rect x="259.8" y="720.8" width="23.2" height="26.3" fill="#2AAF80"/>
<rect x="282.0" y="720.8" width="23.2" height="26.3" fill="#2D6F8E"/>
<rect x="304.3" y="720.8" width="23.2" height="26.3" fill="#2D6F8E"/>
<rect x="326.5" y="720.8" width="23.2" height="26.3" fill="#404687"/>
<rect x="348.7" y="720.8" width="23.2" height="26.3" fill="#2D6F8E"/>
<rect x="371.0" y="720.8" width="23.2" height="26.3" fill="#404687"/>
<rect x="393.2" y="720.8" width="23.2" height="26.3" fill="#404687"/>
<rect x="415.5" y="720.8" width="23.2" height="26.3" fill="#482173"/>
<rect x="437.7" y="720.8" width="23.2" height="26.3" fill="#404687"/>
<rect x="459.9" y="720.8" width="23.2" height="26.3" fill="#22908C"/>
<rect x="482.2" y="720.8" width="23.2" height="26.3" fill="#2AAF80"/>
<rect x="504.4" y="720.8" width="23.2" height="26.3" fill="#2AAF80"/>
<rect x="526.7" y="720.8" width="23.2" height="26.3" fill="#64CB5E"/>
<rect x="548.9" y="720.8" width="23.2" height="26.3" fill="#2AAF80"/>
<rect x="571.1" y="720.8" width="23.2" height="26.3" fill="#64CB5E"/>
<rect x="593.4" y="720.8" width="23.2" height="26.3" fill="#64CB5E"/>
<rect x="615.6" y="720.8" width="23.2" height="26.3" fill="#AEDC2F"/>
<rect x="637.9" y="720.8" width="23.2" height="26.3" fill="#AEDC2F"/>
<rect x="660.1" y="720.8" width="23.2" height="26.3" fill="#AEDC2F"/>
<rect x="682.3" y="720.8" width="23.2" height="26.3" fill="#75D054"/>
<rect x="704.6" y="720.8" width="23.2" height="26.3" fill="#86D549"/>
<rect x="726.8" y="720.8" width="23.2" height="26.3" fill="#B7DD2A"/>
<rect x="749.1" y="720.8" width="23.2" height="26.3" fill="#E3E324"/>
<rect x="771.3" y="720.8" width="23.2" height="26.3" fill="#E3E324"/>
<rect x="793.5" y="720.8" width="23.2" height="26.3" fill="#64CB5E"/>
<rect x="815.8" y="720.8" width="23.2" height="26.3" fill="#2AAF80"/>
<rect x="838.0" y="720.8" width="23.2" height="26.3" fill="#E3E324"/>
<rect x="860.3" y="720.8" width="23.2" height="26.3" fill="#E3E324"/>
<rect x="882.5" y="720.8" width="23.2" height="26.3" fill="#E3E324"/>
<rect x="170.8" y="746.1" width="23.2" height="26.3" fill="#E3E324"/>
<rect x="193.1" y="746.1" width="23.2" height="26.3" fill="#64CB5E"/>
<rect x="215.3" y="746.1" width="23.2" height="26.3" fill="#2AAF80"/>
<rect x="237.5" y="746.1" width="23.2" height="26.3" fill="#2AAF80"/>
<rect x="259.8" y="746.1" width="23.2" height="26.3" fill="#2AAF80"/>
<rect x="282.0" y="746.1" width="23.2" height="26.3" fill="#2AAF80"/>
<rect x="304.3" y="746.1" width="23.2" height="26.3" fill="#64CB5E"/>
<rect x="326.5" y="746.1" width="23.2" height="26.3" fill="#64CB5E"/>
<rect x="348.7" y="746.1" width="23.2" height="26.3" fill="#2AAF80"/>
<rect x="371.0" y="746.1" width="23.2" height="26.3" fill="#2D6F8E"/>
<rect x="393.2" y="746.1" width="23.2" height="26.3" fill="#2D6F8E"/>
<rect x="415.5" y="746.1" width="23.2" height="26.3" fill="#2D6F8E"/>
<rect x="437.7" y="746.1" width="23.2" height="26.3" fill="#2D6F8E"/>
<rect x="459.9" y="746.1" width="23.2" height="26.3" fill="#2D6F8E"/>
<rect x="482.2" y="746.1" width="23.2" height="26.3" fill="#22908C"/>
<rect x="504.4" y="746.1" width="23.2" height="26.3" fill="#64CB5E"/>
<rect x="526.7" y="746.1" width="23.2" height="26.3" fill="#64CB5E"/>
<rect x="548.9" y="746.1" width="23.2" height="26.3" fill="#22908C"/>
<rect x="571.1" y="746.1" width="23.2" height="26.3" fill="#2AAF80"/>
<rect x="593.4" y="746.1" width="23.2" height="26.3" fill="#AEDC2F"/>
<rect x="615.6" y="746.1" width="23.2" height="26.3" fill="#AEDC2F"/>
<rect x="637.9" y="746.1" width="23.2" height="26.3" fill="#E3E324"/>
<rect x="660.1" y="746.1" width="23.2" height="26.3" fill="#A1DA38"/>
<rect x="682.3" y="746.1" width="23.2" height="26.3" fill="#75D054"/>
<rect x="704.6" y="746.1" width="23.2" height="26.3" fill="#AEDC2F"/>
<rect x="726.8" y="746.1" width="23.2" height="26.3" fill="#E3E324"/>
<rect x="749.1" y="746.1" width="23.2" height="26.3" fill="#AEDC2F"/>
<rect x="771.3" y="746.1" width="23.2" height="26.3" fill="#AEDC2F"/>
<rect x="793.5" y="746.1" width="23.2" height="26.3" fill="#64CB5E"/>
<rect x="815.8" y="746.1" width="23.2" height="26.3" fill="#E3E324"/>
<rect x="838.0" y="746.1" width="23.2" height="26.3" fill="#E3E324"/>
<rect x="860.3" y="746.1" width="23.2" height="26.3" fill="#E3E324"/>
<rect x="882.5" y="746.1" width="23.2" height="26.3" fill="#E3E324"/>
<rect x="170.8" y="771.4" width="23.2" height="26.3" fill="#BCDE27"/>
<rect x="193.1" y="771.4" width="23.2" height="26.3" fill="#AEDC2F"/>
<rect x="215.3" y="771.4" width="23.2" height="26.3" fill="#2AAF80"/>
<rect x="237.5" y="771.4" width="23.2" height="26.3" fill="#2AAF80"/>
<rect x="259.8" y="771.4" width="23.2" height="26.3" fill="#2AAF80"/>
<rect x="282.0" y="771.4" width="23.2" height="26.3" fill="#22908C"/>
<rect x="304.3" y="771.4" width="23.2" height="26.3" fill="#AEDC2F"/>
<rect x="326.5" y="771.4" width="23.2" height="26.3" fill="#AEDC2F"/>
<rect x="348.7" y="771.4" width="23.2" height="26.3" fill="#64CB5E"/>
<rect x="371.0" y="771.4" width="23.2" height="26.3" fill="#2AAF80"/>
<rect x="393.2" y="771.4" width="23.2" height="26.3" fill="#64CB5E"/>
<rect x="415.5" y="771.4" width="23.2" height="26.3" fill="#2AAF80"/>
<rect x="437.7" y="771.4" width="23.2" height="26.3" fill="#2AAF80"/>
<rect x="459.9" y="771.4" width="23.2" height="26.3" fill="#64CB5E"/>
<rect x="482.2" y="771.4" width="23.2" height="26.3" fill="#2AAF80"/>
<rect x="504.4" y="771.4" width="23.2" height="26.3" fill="#64CB5E"/>
<rect x="526.7" y="771.4" width="23.2" height="26.3" fill="#64CB5E"/>
<rect x="548.9" y="771.4" width="23.2" height="26.3" fill="#2AAF80"/>
<rect x="571.1" y="771.4" width="23.2" height="26.3" fill="#2AAF80"/>
<rect x="593.4" y="771.4" width="23.2" height="26.3" fill="#64CB5E"/>
<rect x="615.6" y="771.4" width="23.2" height="26.3" fill="#AEDC2F"/>
<rect x="637.9" y="771.4" width="23.2" height="26.3" fill="#AEDC2F"/>
<rect x="660.1" y="771.4" width="23.2" height="26.3" fill="#64CB5E"/>
<rect x="682.3" y="771.4" width="23.2" height="26.3" fill="#64CB5E"/>
<rect x="704.6" y="771.4" width="23.2" height="26.3" fill="#64CB5E"/>
<rect x="726.8" y="771.4" width="23.2" height="26.3" fill="#E3E324"/>
<rect x="749.1" y="771.4" width="23.2" height="26.3" fill="#AEDC2F"/>
<rect x="771.3" y="771.4" width="23.2" height="26.3" fill="#AEDC2F"/>
<rect x="793.5" y="771.4" width="23.2" height="26.3" fill="#E3E324"/>
<rect x="815.8" y="771.4" width="23.2" height="26.3" fill="#E3E324"/>
<rect x="838.0" y="771.4" width="23.2" height="26.3" fill="#E3E324"/>
<rect x="860.3" y="771.4" width="23.2" height="26.3" fill="#E3E324"/>
<rect x="882.5" y="771.4" width="23.2" height="26.3" fill="#E3E324"/>
<rect x="170.8" y="796.7" width="23.2" height="26.3" fill="#C9E023"/>
<rect x="193.1" y="796.7" width="23.2" height="26.3" fill="#E3E324"/>
<rect x="215.3" y="796.7" width="23.2" height="26.3" fill="#64CB5E"/>
<rect x="237.5" y="796.7" width="23.2" height="26.3" fill="#2AAF80"/>
<rect x="259.8" y="796.7" width="23.2" height="26.3" fill="#22908C"/>
<rect x="282.0" y="796.7" width="23.2" height="26.3" fill="#22908C"/>
<rect x="304.3" y="796.7" width="23.2" height="26.3" fill="#2AAF80"/>
<rect x="326.5" y="796.7" width="23.2" height="26.3" fill="#AEDC2F"/>
<rect x="348.7" y="796.7" width="23.2" height="26.3" fill="#AEDC2F"/>
<rect x="371.0" y="796.7" width="23.2" height="26.3" fill="#2AAF80"/>
<rect x="393.2" y="796.7" width="23.2" height="26.3" fill="#64CB5E"/>
<rect x="415.5" y="796.7" width="23.2" height="26.3" fill="#2AAF80"/>
<rect x="437.7" y="796.7" width="23.2" height="26.3" fill="#2AAF80"/>
<rect x="459.9" y="796.7" width="23.2" height="26.3" fill="#2AAF80"/>
<rect x="482.2" y="796.7" width="23.2" height="26.3" fill="#64CB5E"/>
<rect x="504.4" y="796.7" width="23.2" height="26.3" fill="#64CB5E"/>
<rect x="526.7" y="796.7" width="23.2" height="26.3" fill="#64CB5E"/>
<rect x="548.9" y="796.7" width="23.2" height="26.3" fill="#2AAF80"/>
<rect x="571.1" y="796.7" width="23.2" height="26.3" fill="#64CB5E"/>
<rect x="593.4" y="796.7" width="23.2" height="26.3" fill="#AEDC2F"/>
<rect x="615.6" y="796.7" width="23.2" height="26.3" fill="#AEDC2F"/>
<rect x="637.9" y="796.7" width="23.2" height="26.3" fill="#64CB5E"/>
<rect x="660.1" y="796.7" width="23.2" height="26.3" fill="#2AAF80"/>
<rect x="682.3" y="796.7" width="23.2" height="26.3" fill="#2AAF80"/>
<rect x="704.6" y="796.7" width="23.2" height="26.3" fill="#2AAF80"/>
<rect x="726.8" y="796.7" width="23.2" height="26.3" fill="#2AAF80"/>
<rect x="749.1" y="796.7" width="23.2" height="26.3" fill="#22908C"/>
<rect x="771.3" y="796.7" width="23.2" height="26.3" fill="#AEDC2F"/>
<rect x="793.5" y="796.7" width="23.2" height="26.3" fill="#E3E324"/>
<rect x="815.8" y="796.7" width="23.2" height="26.3" fill="#E3E324"/>
<rect x="838.0" y="796.7" width="23.2" height="26.3" fill="#E3E324"/>
<rect x="860.3" y="796.7" width="23.2" height="26.3" fill="#E3E324"/>
<rect x="882.5" y="796.7" width="23.2" height="26.3" fill="#E3E324"/>
<rect x="170.8" y="822.0" width="23.2" height="26.3" fill="#E3E324"/>
<rect x="193.1" y="822.0" width="23.2" height="26.3" fill="#C0DF24"/>
<rect x="215.3" y="822.0" width="23.2" height="26.3" fill="#E3E324"/>
<rect x="237.5" y="822.0" width="23.2" height="26.3" fill="#64CB5E"/>
<rect x="259.8" y="822.0" width="23.2" height="26.3" fill="#2AAF80"/>
<rect x="282.0" y="822.0" width="23.2" height="26.3" fill="#2AAF80"/>
<rect x="304.3" y="822.0" width="23.2" height="26.3" fill="#2AAF80"/>
<rect x="326.5" y="822.0" width="23.2" height="26.3" fill="#AEDC2F"/>
<rect x="348.7" y="822.0" width="23.2" height="26.3" fill="#AEDC2F"/>
<rect x="371.0" y="822.0" width="23.2" height="26.3" fill="#2AAF80"/>
<rect x="393.2" y="822.0" width="23.2" height="26.3" fill="#64CB5E"/>
<rect x="415.5" y="822.0" width="23.2" height="26.3" fill="#64CB5E"/>
<rect x="437.7" y="822.0" width="23.2" height="26.3" fill="#64CB5E"/>
<rect x="459.9" y="822.0" width="23.2" height="26.3" fill="#AEDC2F"/>
<rect x="482.2" y="822.0" width="23.2" height="26.3" fill="#AEDC2F"/>
<rect x="504.4" y="822.0" width="23.2" height="26.3" fill="#64CB5E"/>
<rect x="526.7" y="822.0" width="23.2" height="26.3" fill="#64CB5E"/>
<rect x="548.9" y="822.0" width="23.2" height="26.3" fill="#22908C"/>
<rect x="571.1" y="822.0" width="23.2" height="26.3" fill="#64CB5E"/>
<rect x="593.4" y="822.0" width="23.2" height="26.3" fill="#AEDC2F"/>
<rect x="615.6" y="822.0" width="23.2" height="26.3" fill="#AEDC2F"/>
<rect x="637.9" y="822.0" width="23.2" height="26.3" fill="#64CB5E"/>
<rect x="660.1" y="822.0" width="23.2" height="26.3" fill="#64CB5E"/>
<rect x="682.3" y="822.0" width="23.2" height="26.3" fill="#2AAF80"/>
<rect x="704.6" y="822.0" width="23.2" height="26.3" fill="#2AAF80"/>
<rect x="726.8" y="822.0" width="23.2" height="26.3" fill="#2AAF80"/>
<rect x="749.1" y="822.0" width="23.2" height="26.3" fill="#2AAF80"/>
<rect x="771.3" y="822.0" width="23.2" height="26.3" fill="#E3E324"/>
<rect x="793.5" y="822.0" width="23.2" height="26.3" fill="#D2E124"/>
<rect x="815.8" y="822.0" width="23.2" height="26.3" fill="#E3E324"/>
<rect x="838.0" y="822.0" width="23.2" height="26.3" fill="#E3E324"/>
<rect x="860.3" y="822.0" width="23.2" height="26.3" fill="#E3E324"/>
<rect x="882.5" y="822.0" width="23.2" height="26.3" fill="#E3E324"/>
<rect x="170.8" y="847.3" width="23.2" height="26.3" fill="#DAE224"/>
<rect x="193.1" y="847.3" width="23.2" height="26.3" fill="#E3E324"/>
<rect x="215.3" y="847.3" width="23.2" height="26.3" fill="#C9E023"/>
<rect x="237.5" y="847.3" width="23.2" height="26.3" fill="#E3E324"/>
<rect x="259.8" y="847.3" width="23.2" height="26.3" fill="#AEDC2F"/>
<rect x="282.0" y="847.3" width="23.2" height="26.3" fill="#64CB5E"/>
<rect x="304.3" y="847.3" width="23.2" height="26.3" fill="#2AAF80"/>
<rect x="326.5" y="847.3" width="23.2" height="26.3" fill="#64CB5E"/>
<rect x="348.7" y="847.3" width="23.2" height="26.3" fill="#64CB5E"/>
<rect x="371.0" y="847.3" width="23.2" height="26.3" fill="#AEDC2F"/>
<rect x="393.2" y="847.3" width="23.2" height="26.3" fill="#AEDC2F"/>
<rect x="415.5" y="847.3" width="23.2" height="26.3" fill="#64CB5E"/>
<rect x="437.7" y="847.3" width="23.2" height="26.3" fill="#64CB5E"/>
<rect x="459.9" y="847.3" width="23.2" height="26.3" fill="#2AAF80"/>
<rect x="482.2" y="847.3" width="23.2" height="26.3" fill="#2AAF80"/>
<rect x="504.4" y="847.3" width="23.2" height="26.3" fill="#2AAF80"/>
<rect x="526.7" y="847.3" width="23.2" height="26.3" fill="#2AAF80"/>
<rect x="548.9" y="847.3" width="23.2" height="26.3" fill="#22908C"/>
<rect x="571.1" y="847.3" width="23.2" height="26.3" fill="#64CB5E"/>
<rect x="593.4" y="847.3" width="23.2" height="26.3" fill="#2AAF80"/>
<rect x="615.6" y="847.3" width="23.2" height="26.3" fill="#2AAF80"/>
<rect x="637.9" y="847.3" width="23.2" height="26.3" fill="#2AAF80"/>
<rect x="660.1" y="847.3" width="23.2" height="26.3" fill="#2AAF80"/>
<rect x="682.3" y="847.3" width="23.2" height="26.3" fill="#2AAF80"/>
<rect x="704.6" y="847.3" width="23.2" height="26.3" fill="#2AAF80"/>
<rect x="726.8" y="847.3" width="23.2" height="26.3" fill="#64CB5E"/>
<rect x="749.1" y="847.3" width="23.2" height="26.3" fill="#E3E324"/>
<rect x="771.3" y="847.3" width="23.2" height="26.3" fill="#AEDC2F"/>
<rect x="793.5" y="847.3" width="23.2" height="26.3" fill="#E3E324"/>
<rect x="815.8" y="847.3" width="23.2" height="26.3" fill="#DDE324"/>
<rect x="838.0" y="847.3" width="23.2" height="26.3" fill="#E3E324"/>
<rect x="860.3" y="847.3" width="23.2" height="26.3" fill="#E3E324"/>
<rect x="882.5" y="847.3" width="23.2" height="26.3" fill="#E3E324"/>
<rect x="170.8" y="872.6" width="23.2" height="26.3" fill="#E3E324"/>
<rect x="193.1" y="872.6" width="23.2" height="26.3" fill="#E3E324"/>
<rect x="215.3" y="872.6" width="23.2" height="26.3" fill="#E3E324"/>
<rect x="237.5" y="872.6" width="23.2" height="26.3" fill="#E3E324"/>
<rect x="259.8" y="872.6" width="23.2" height="26.3" fill="#E3E324"/>
<rect x="282.0" y="872.6" width="23.2" height="26.3" fill="#AEDC2F"/>
<rect x="304.3" y="872.6" width="23.2" height="26.3" fill="#2AAF80"/>
<rect x="326.5" y="872.6" width="23.2" height="26.3" fill="#2AAF80"/>
<rect x="348.7" y="872.6" width="23.2" height="26.3" fill="#64CB5E"/>
<rect x="371.0" y="872.6" width="23.2" height="26.3" fill="#64CB5E"/>
<rect x="393.2" y="872.6" width="23.2" height="26.3" fill="#2AAF80"/>
<rect x="415.5" y="872.6" width="23.2" height="26.3" fill="#2AAF80"/>
<rect x="437.7" y="872.6" width="23.2" height="26.3" fill="#2AAF80"/>
<rect x="459.9" y="872.6" width="23.2" height="26.3" fill="#64CB5E"/>
<rect x="482.2" y="872.6" width="23.2" height="26.3" fill="#2AAF80"/>
<rect x="504.4" y="872.6" width="23.2" height="26.3" fill="#2AAF80"/>
<rect x="526.7" y="872.6" width="23.2" height="26.3" fill="#64CB5E"/>
<rect x="548.9" y="872.6" width="23.2" height="26.3" fill="#22908C"/>
<rect x="571.1" y="872.6" width="23.2" height="26.3" fill="#2AAF80"/>
<rect x="593.4" y="872.6" width="23.2" height="26.3" fill="#64CB5E"/>
<rect x="615.6" y="872.6" width="23.2" height="26.3" fill="#64CB5E"/>
<rect x="637.9" y="872.6" width="23.2" height="26.3" fill="#22908C"/>
<rect x="660.1" y="872.6" width="23.2" height="26.3" fill="#22908C"/>
<rect x="682.3" y="872.6" width="23.2" height="26.3" fill="#2AAF80"/>
<rect x="704.6" y="872.6" width="23.2" height="26.3" fill="#64CB5E"/>
<rect x="726.8" y="872.6" width="23.2" height="26.3" fill="#E3E324"/>
<rect x="749.1" y="872.6" width="23.2" height="26.3" fill="#C0DF24"/>
<rect x="771.3" y="872.6" width="23.2" height="26.3" fill="#E3E324"/>
<rect x="793.5" y="872.6" width="23.2" height="26.3" fill="#D2E124"/>
<rect x="815.8" y="872.6" width="23.2" height="26.3" fill="#E3E324"/>
<rect x="838.0" y="872.6" width="23.2" height="26.3" fill="#E1E324"/>
<rect x="860.3" y="872.6" width="23.2" height="26.3" fill="#E3E324"/>
<rect x="882.5" y="872.6" width="23.2" height="26.3" fill="#E3E324"/>
<rect x="170.8" y="897.9" width="23.2" height="26.3" fill="#E3E324"/>
<rect x="193.1" y="897.9" width="23.2" height="26.3" fill="#E3E324"/>
<rect x="215.3" y="897.9" width="23.2" height="26.3" fill="#E3E324"/>
<rect x="237.5" y="897.9" width="23.2" height="26.3" fill="#E3E324"/>
<rect x="259.8" y="897.9" width="23.2" height="26.3" fill="#AEDC2F"/>
<rect x="282.0" y="897.9" width="23.2" height="26.3" fill="#AEDC2F"/>
<rect x="304.3" y="897.9" width="23.2" height="26.3" fill="#22908C"/>
<rect x="326.5" y="897.9" width="23.2" height="26.3" fill="#22908C"/>
<rect x="348.7" y="897.9" width="23.2" height="26.3" fill="#64CB5E"/>
<rect x="371.0" y="897.9" width="23.2" height="26.3" fill="#22908C"/>
<rect x="393.2" y="897.9" width="23.2" height="26.3" fill="#22908C"/>
<rect x="415.5" y="897.9" width="23.2" height="26.3" fill="#2AAF80"/>
<rect x="437.7" y="897.9" width="23.2" height="26.3" fill="#2AAF80"/>
<rect x="459.9" y="897.9" width="23.2" height="26.3" fill="#64CB5E"/>
<rect x="482.2" y="897.9" width="23.2" height="26.3" fill="#2AAF80"/>
<rect x="504.4" y="897.9" width="23.2" height="26.3" fill="#2AAF80"/>
<rect x="526.7" y="897.9" width="23.2" height="26.3" fill="#22908C"/>
<rect x="548.9" y="897.9" width="23.2" height="26.3" fill="#22908C"/>
<rect x="571.1" y="897.9" width="23.2" height="26.3" fill="#22908C"/>
<rect x="593.4" y="897.9" width="23.2" height="26.3" fill="#2AAF80"/>
<rect x="615.6" y="897.9" width="23.2" height="26.3" fill="#2AAF80"/>
<rect x="637.9" y="897.9" width="23.2" height="26.3" fill="#64CB5E"/>
<rect x="660.1" y="897.9" width="23.2" height="26.3" fill="#64CB5E"/>
<rect x="682.3" y="897.9" width="23.2" height="26.3" fill="#E3E324"/>
<rect x="704.6" y="897.9" width="23.2" height="26.3" fill="#9AD83C"/>
<rect x="726.8" y="897.9" width="23.2" height="26.3" fill="#AEDC2F"/>
<rect x="749.1" y="897.9" width="23.2" height="26.3" fill="#E3E324"/>
<rect x="771.3" y="897.9" width="23.2" height="26.3" fill="#D8E224"/>
<rect x="793.5" y="897.9" width="23.2" height="26.3" fill="#E3E324"/>
<rect x="815.8" y="897.9" width="23.2" height="26.3" fill="#DDE324"/>
<rect x="838.0" y="897.9" width="23.2" height="26.3" fill="#E3E324"/>
<rect x="860.3" y="897.9" width="23.2" height="26.3" fill="#E2E324"/>
<rect x="882.5" y="897.9" width="23.2" height="26.3" fill="#E3E324"/>
<rect x="170.8" y="923.2" width="23.2" height="26.3" fill="#E3E324"/>
<rect x="193.1" y="923.2" width="23.2" height="26.3" fill="#E3E324"/>
<rect x="215.3" y="923.2" width="23.2" height="26.3" fill="#E3E324"/>
<rect x="237.5" y="923.2" width="23.2" height="26.3" fill="#AEDC2F"/>
<rect x="259.8" y="923.2" width="23.2" height="26.3" fill="#AEDC2F"/>
<rect x="282.0" y="923.2" width="23.2" height="26.3" fill="#AEDC2F"/>
<rect x="304.3" y="923.2" width="23.2" height="26.3" fill="#64CB5E"/>
<rect x="326.5" y="923.2" width="23.2" height="26.3" fill="#2AAF80"/>
<rect x="348.7" y="923.2" width="23.2" height="26.3" fill="#22908C"/>
<rect x="371.0" y="923.2" width="23.2" height="26.3" fill="#2AAF80"/>
<rect x="393.2" y="923.2" width="23.2" height="26.3" fill="#2AAF80"/>
<rect x="415.5" y="923.2" width="23.2" height="26.3" fill="#64CB5E"/>
<rect x="437.7" y="923.2" width="23.2" height="26.3" fill="#64CB5E"/>
<rect x="459.9" y="923.2" width="23.2" height="26.3" fill="#64CB5E"/>
<rect x="482.2" y="923.2" width="23.2" height="26.3" fill="#2AAF80"/>
<rect x="504.4" y="923.2" width="23.2" height="26.3" fill="#22908C"/>
<rect x="526.7" y="923.2" width="23.2" height="26.3" fill="#2AAF80"/>
<rect x="548.9" y="923.2" width="23.2" height="26.3" fill="#2AAF80"/>
<rect x="571.1" y="923.2" width="23.2" height="26.3" fill="#2AAF80"/>
<rect x="593.4" y="923.2" width="23.2" height="26.3" fill="#22908C"/>
<rect x="615.6" y="923.2" width="23.2" height="26.3" fill="#64CB5E"/>
<rect x="637.9" y="923.2" width="23.2" height="26.3" fill="#64CB5E"/>
<rect x="660.1" y="923.2" width="23.2" height="26.3" fill="#E3E324"/>
<rect x="682.3" y="923.2" width="23.2" height="26.3" fill="#C0DF24"/>
<rect x="704.6" y="923.2" width="23.2" height="26.3" fill="#E3E324"/>
<rect x="726.8" y="923.2" width="23.2" height="26.3" fill="#C6E023"/>
<rect x="749.1" y="923.2" width="23.2" height="26.3" fill="#C9E023"/>
<rect x="771.3" y="923.2" width="23.2" height="26.3" fill="#E3E324"/>
<rect x="793.5" y="923.2" width="23.2" height="26.3" fill="#DFE324"/>
<rect x="815.8" y="923.2" width="23.2" height="26.3" fill="#E3E324"/>
<rect x="838.0" y="923.2" width="23.2" height="26.3" fill="#E1E324"/>
<rect x="860.3" y="923.2" width="23.2" height="26.3" fill="#E3E324"/>
<rect x="882.5" y="923.2" width="23.2" height="26.3" fill="#E3E324"/>
<rect x="170.8" y="948.5" width="23.2" height="26.3" fill="#E3E324"/>
<rect x="193.1" y="948.5" width="23.2" height="26.3" fill="#E3E324"/>
<rect x="215.3" y="948.5" width="23.2" height="26.3" fill="#C9E023"/>
<rect x="237.5" y="948.5" width="23.2" height="26.3" fill="#E3E324"/>
<rect x="259.8" y="948.5" width="23.2" height="26.3" fill="#E3E324"/>
<rect x="282.0" y="948.5" width="23.2" height="26.3" fill="#AEDC2F"/>
<rect x="304.3" y="948.5" width="23.2" height="26.3" fill="#AEDC2F"/>
<rect x="326.5" y="948.5" width="23.2" height="26.3" fill="#64CB5E"/>
<rect x="348.7" y="948.5" width="23.2" height="26.3" fill="#64CB5E"/>
<rect x="371.0" y="948.5" width="23.2" height="26.3" fill="#AEDC2F"/>
<rect x="393.2" y="948.5" width="23.2" height="26.3" fill="#AEDC2F"/>
<rect x="415.5" y="948.5" width="23.2" height="26.3" fill="#AEDC2F"/>
<rect x="437.7" y="948.5" width="23.2" height="26.3" fill="#AEDC2F"/>
<rect x="459.9" y="948.5" width="23.2" height="26.3" fill="#2AAF80"/>
<rect x="482.2" y="948.5" width="23.2" height="26.3" fill="#2AAF80"/>
<rect x="504.4" y="948.5" width="23.2" height="26.3" fill="#22908C"/>
<rect x="526.7" y="948.5" width="23.2" height="26.3" fill="#22908C"/>
<rect x="548.9" y="948.5" width="23.2" height="26.3" fill="#2AAF80"/>
<rect x="571.1" y="948.5" width="23.2" height="26.3" fill="#64CB5E"/>
<rect x="593.4" y="948.5" width="23.2" height="26.3" fill="#AEDC2F"/>
<rect x="615.6" y="948.5" width="23.2" height="26.3" fill="#AEDC2F"/>
<rect x="637.9" y="948.5" width="23.2" height="26.3" fill="#E3E324"/>
<rect x="660.1" y="948.5" width="23.2" height="26.3" fill="#C0DF24"/>
<rect x="682.3" y="948.5" width="23.2" height="26.3" fill="#E3E324"/>
<rect x="704.6" y="948.5" width="23.2" height="26.3" fill="#D8E224"/>
<rect x="726.8" y="948.5" width="23.2" height="26.3" fill="#E3E324"/>
<rect x="749.1" y="948.5" width="23.2" height="26.3" fill="#D5E224"/>
<rect x="771.3" y="948.5" width="23.2" height="26.3" fill="#D6E224"/>
<rect x="793.5" y="948.5" width="23.2" height="26.3" fill="#E3E324"/>
<rect x="815.8" y="948.5" width="23.2" height="26.3" fill="#E2E324"/>
<rect x="838.0" y="948.5" width="23.2" height="26.3" fill="#E3E324"/>
<rect x="860.3" y="948.5" width="23.2" height="26.3" fill="#E2E324"/>
<rect x="882.5" y="948.5" width="23.2" height="26.3" fill="#E3E324"/>
<rect x="170.8" y="973.8" width="23.2" height="26.3" fill="#E3E324"/>
<rect x="193.1" y="973.8" width="23.2" height="26.3" fill="#C9E023"/>
<rect x="215.3" y="973.8" width="23.2" height="26.3" fill="#C9E023"/>
<rect x="237.5" y="973.8" width="23.2" height="26.3" fill="#AEDC2F"/>
<rect x="259.8" y="973.8" width="23.2" height="26.3" fill="#E3E324"/>
<rect x="282.0" y="973.8" width="23.2" height="26.3" fill="#E3E324"/>
<rect x="304.3" y="973.8" width="23.2" height="26.3" fill="#AEDC2F"/>
<rect x="326.5" y="973.8" width="23.2" height="26.3" fill="#AEDC2F"/>
<rect x="348.7" y="973.8" width="23.2" height="26.3" fill="#E3E324"/>
<rect x="371.0" y="973.8" width="23.2" height="26.3" fill="#E3E324"/>
<rect x="393.2" y="973.8" width="23.2" height="26.3" fill="#E3E324"/>
<rect x="415.5" y="973.8" width="23.2" height="26.3" fill="#E3E324"/>
<rect x="437.7" y="973.8" width="23.2" height="26.3" fill="#9AD83C"/>
<rect x="459.9" y="973.8" width="23.2" height="26.3" fill="#4DC36C"/>
<rect x="482.2" y="973.8" width="23.2" height="26.3" fill="#24A585"/>
<rect x="504.4" y="973.8" width="23.2" height="26.3" fill="#36B679"/>
<rect x="526.7" y="973.8" width="23.2" height="26.3" fill="#E3E324"/>
<rect x="548.9" y="973.8" width="23.2" height="26.3" fill="#AEDC2F"/>
<rect x="571.1" y="973.8" width="23.2" height="26.3" fill="#E3E324"/>
<rect x="593.4" y="973.8" width="23.2" height="26.3" fill="#AEDC2F"/>
<rect x="615.6" y="973.8" width="23.2" height="26.3" fill="#C0DF24"/>
<rect x="637.9" y="973.8" width="23.2" height="26.3" fill="#C9E023"/>
<rect x="660.1" y="973.8" width="23.2" height="26.3" fill="#E3E324"/>
<rect x="682.3" y="973.8" width="23.2" height="26.3" fill="#D8E224"/>
<rect x="704.6" y="973.8" width="23.2" height="26.3" fill="#E3E324"/>
<rect x="726.8" y="973.8" width="23.2" height="26.3" fill="#DFE324"/>
<rect x="749.1" y="973.8" width="23.2" height="26.3" fill="#E3E324"/>
<rect x="771.3" y="973.8" width="23.2" height="26.3" fill="#DCE324"/>
<rect x="793.5" y="973.8" width="23.2" height="26.3" fill="#DDE324"/>
<rect x="815.8" y="973.8" width="23.2" height="26.3" fill="#E3E324"/>
<rect x="838.0" y="973.8" width="23.2" height="26.3" fill="#E3E324"/>
<rect x="860.3" y="973.8" width="23.2" height="26.3" fill="#E3E324"/>
<rect x="882.5" y="973.8" width="23.2" height="26.3" fill="#E3E324"/>
<rect x="170.8" y="999.1" width="23.2" height="26.3" fill="#CDE123"/>
<rect x="193.1" y="999.1" width="23.2" height="26.3" fill="#BCDE27"/>
<rect x="215.3" y="999.1" width="23.2" height="26.3" fill="#AEDC2F"/>
<rect x="237.5" y="999.1" width="23.2" height="26.3" fill="#C9E023"/>
<rect x="259.8" y="999.1" width="23.2" height="26.3" fill="#D6E224"/>
<rect x="282.0" y="999.1" width="23.2" height="26.3" fill="#E3E324"/>
<rect x="304.3" y="999.1" width="23.2" height="26.3" fill="#AEDC2F"/>
<rect x="326.5" y="999.1" width="23.2" height="26.3" fill="#E3E324"/>
<rect x="348.7" y="999.1" width="23.2" height="26.3" fill="#D6E224"/>
<rect x="371.0" y="999.1" width="23.2" height="26.3" fill="#E3E324"/>
<rect x="393.2" y="999.1" width="23.2" height="26.3" fill="#E3E324"/>
<rect x="415.5" y="999.1" width="23.2" height="26.3" fill="#E3E324"/>
<rect x="437.7" y="999.1" width="23.2" height="26.3" fill="#E3E324"/>
<rect x="459.9" y="999.1" width="23.2" height="26.3" fill="#76D053"/>
<rect x="482.2" y="999.1" width="23.2" height="26.3" fill="#5CC863"/>
<rect x="504.4" y="999.1" width="23.2" height="26.3" fill="#E3E324"/>
<rect x="526.7" y="999.1" width="23.2" height="26.3" fill="#C9E023"/>
<rect x="548.9" y="999.1" width="23.2" height="26.3" fill="#D2E124"/>
<rect x="571.1" y="999.1" width="23.2" height="26.3" fill="#C9E023"/>
<rect x="593.4" y="999.1" width="23.2" height="26.3" fill="#E3E324"/>
<rect x="615.6" y="999.1" width="23.2" height="26.3" fill="#C7E023"/>
<rect x="637.9" y="999.1" width="23.2" height="26.3" fill="#CFE123"/>
<rect x="660.1" y="999.1" width="23.2" height="26.3" fill="#D6E224"/>
<rect x="682.3" y="999.1" width="23.2" height="26.3" fill="#E3E324"/>
<rect x="704.6" y="999.1" width="23.2" height="26.3" fill="#DFE324"/>
<rect x="726.8" y="999.1" width="23.2" height="26.3" fill="#E3E324"/>
<rect x="749.1" y="999.1" width="23.2" height="26.3" fill="#E2E324"/>
<rect x="771.3" y="999.1" width="23.2" height="26.3" fill="#E3E324"/>
<rect x="793.5" y="999.1" width="23.2" height="26.3" fill="#E0E324"/>
<rect x="815.8" y="999.1" width="23.2" height="26.3" fill="#E0E324"/>
<rect x="838.0" y="999.1" width="23.2" height="26.3" fill="#E3E324"/>
<rect x="860.3" y="999.1" width="23.2" height="26.3" fill="#E3E324"/>
<rect x="882.5" y="999.1" width="23.2" height="26.3" fill="#E3E324"/>
</g>
<polyline points="901.7,611.8 901.7,628.5 897.9,629.0 897.9,636.9 894.2,637.4 894.2,649.5 890.9,650.0 890.9,670.5 887.2,670.9 887.2,683.1 883.5,683.5 883.5,695.6 879.8,696.1 879.8,704.0 871.8,704.5 866.4,711.6 849.0,723.2 834.5,742.0 820.0,769.6 808.4,787.0 801.2,800.0 786.7,823.2 772.2,839.1 753.3,856.5 738.8,872.5 727.2,884.1 715.7,895.7 701.2,908.7 689.6,920.3 675.1,930.4 656.2,943.5 646.1,952.2 634.5,956.5 627.3,957.6 619.5,957.6 619.5,961.5 605.5,961.5 605.5,965.4 586.9,965.4 583.0,970.1 583.0,978.6 564.4,978.6 564.4,974.7 549.6,974.7 545.7,978.6 545.7,987.1 527.1,987.1 527.1,983.3 516.2,982.5 516.2,978.6 493.7,978.6 493.7,974.7 482.9,974.7 482.9,977.8 479.0,978.6 479.0,982.5 468.1,982.5 468.1,978.6 423.9,978.6 423.9,982.5 416.1,987.1 412.2,991.0 412.2,994.9 389.7,995.7 389.7,999.6 378.8,999.6 378.8,995.7 368.0,995.7 368.0,999.6 349.3,999.6 345.4,1003.4 345.4,1007.3 337.8,1011.7 331.0,1012.4 331.0,1016.1 308.6,1016.1 308.6,1012.4 304.9,1011.7 304.9,1008.0 294.3,1007.4 294.3,1003.7 286.3,999.9 286.3,995.6 271.4,995.0 271.4,978.8 264.5,981.9 260.2,982.5 260.2,995.0 257.1,995.0 257.1,991.2 253.4,990.6 253.4,983.2 249.6,982.5 249.6,974.5 253.4,973.9 253.4,962.0 257.1,961.4 257.1,957.7 253.4,957.1 253.4,954.0 249.6,953.4 249.6,945.3 242.2,944.7 242.2,940.3 238.4,936.0 234.7,931.6 231.0,927.9 231.0,907.4 242.2,907.4 242.2,911.1 245.9,907.4 249.6,907.4 249.6,898.7 252.7,898.1 252.7,895.0 249.6,894.3 249.6,865.2 245.9,864.5 242.2,856.5 238.4,852.1 234.7,847.8 231.0,843.4 227.3,834.7 223.5,831.0 219.8,822.3 216.1,817.3 212.4,809.9 208.6,801.2 204.9,796.2 204.7,784.5 201.0,784.0 201.0,776.1 197.3,775.6 197.3,763.5 194.0,763.1 194.0,751.0 190.3,750.5 190.3,742.6 186.6,742.1 186.6,730.0 182.8,729.5 182.8,725.8 179.1,725.3 179.1,717.4 175.4,716.9 175.4,713.2 171.6,712.7 171.6,704.8 167.9,704.3 167.9,696.0 175.4,696.0 175.4,692.2 182.8,691.8 182.8,679.2 186.6,678.7 186.6,670.8 201.0,670.8 201.0,675.0 204.7,675.0 204.7,678.7 212.2,679.2 212.2,696.0 215.9,696.4 215.9,704.3 227.1,704.8 227.1,708.5 242.0,709.0 242.0,713.2 286.3,713.2 286.3,716.9 290.5,716.9 290.5,709.0 294.2,708.5 294.2,704.8 301.2,704.3 301.2,700.6 304.9,700.1 304.9,696.4 312.4,696.0 312.4,692.2 323.6,691.8" fill="none" stroke="#F4E52A" stroke-width="14" stroke-linejoin="round" filter="url(#bl2)"/>
<rect x="160" y="360" width="750" height="670" fill="#EBEBEB" fill-opacity="0.12"/>
</g></g>
</g>
<rect x="119.5" y="364.98" width="11.5" height="4.44" fill="#333333"/>
<text x="110.4" y="380.20" text-anchor="end" font-family="DejaVu Sans" font-size="36.67" fill="#4D4D4D">22°S</text>
<rect x="119.5" y="466.16" width="11.5" height="4.44" fill="#333333"/>
<text x="110.4" y="481.38" text-anchor="end" font-family="DejaVu Sans" font-size="36.67" fill="#4D4D4D">24°S</text>
<rect x="119.5" y="567.34" width="11.5" height="4.44" fill="#333333"/>
<text x="110.4" y="582.56" text-anchor="end" font-family="DejaVu Sans" font-size="36.67" fill="#4D4D4D">26°S</text>
<rect x="119.5" y="668.52" width="11.5" height="4.44" fill="#333333"/>
<text x="110.4" y="683.74" text-anchor="end" font-family="DejaVu Sans" font-size="36.67" fill="#4D4D4D">28°S</text>
<rect x="119.5" y="769.70" width="11.5" height="4.44" fill="#333333"/>
<text x="110.4" y="784.92" text-anchor="end" font-family="DejaVu Sans" font-size="36.67" fill="#4D4D4D">30°S</text>
<rect x="119.5" y="870.88" width="11.5" height="4.44" fill="#333333"/>
<text x="110.4" y="886.10" text-anchor="end" font-family="DejaVu Sans" font-size="36.67" fill="#4D4D4D">32°S</text>
<rect x="119.5" y="972.06" width="11.5" height="4.44" fill="#333333"/>
<text x="110.4" y="987.28" text-anchor="end" font-family="DejaVu Sans" font-size="36.67" fill="#4D4D4D">34°S</text>
<rect x="119.5" y="1166.98" width="11.5" height="4.44" fill="#333333"/>
<text x="110.4" y="1182.20" text-anchor="end" font-family="DejaVu Sans" font-size="36.67" fill="#4D4D4D">22°S</text>
<rect x="119.5" y="1268.16" width="11.5" height="4.44" fill="#333333"/>
<text x="110.4" y="1283.38" text-anchor="end" font-family="DejaVu Sans" font-size="36.67" fill="#4D4D4D">24°S</text>
<rect x="119.5" y="1369.34" width="11.5" height="4.44" fill="#333333"/>
<text x="110.4" y="1384.56" text-anchor="end" font-family="DejaVu Sans" font-size="36.67" fill="#4D4D4D">26°S</text>
<rect x="119.5" y="1470.52" width="11.5" height="4.44" fill="#333333"/>
<text x="110.4" y="1485.74" text-anchor="end" font-family="DejaVu Sans" font-size="36.67" fill="#4D4D4D">28°S</text>
<rect x="119.5" y="1571.70" width="11.5" height="4.44" fill="#333333"/>
<text x="110.4" y="1586.92" text-anchor="end" font-family="DejaVu Sans" font-size="36.67" fill="#4D4D4D">30°S</text>
<rect x="119.5" y="1672.88" width="11.5" height="4.44" fill="#333333"/>
<text x="110.4" y="1688.10" text-anchor="end" font-family="DejaVu Sans" font-size="36.67" fill="#4D4D4D">32°S</text>
<rect x="119.5" y="1774.06" width="11.5" height="4.44" fill="#333333"/>
<text x="110.4" y="1789.28" text-anchor="end" font-family="DejaVu Sans" font-size="36.67" fill="#4D4D4D">34°S</text>
<rect x="324.78" y="1851" width="4.44" height="11.5" fill="#333333"/>
<text x="327.00" y="1897" text-anchor="middle" font-family="DejaVu Sans" font-size="36.67" fill="#4D4D4D">20°E</text>
<rect x="547.18" y="1851" width="4.44" height="11.5" fill="#333333"/>
<text x="549.40" y="1897" text-anchor="middle" font-family="DejaVu Sans" font-size="36.67" fill="#4D4D4D">25°E</text>
<rect x="769.58" y="1851" width="4.44" height="11.5" fill="#333333"/>
<text x="771.80" y="1897" text-anchor="middle" font-family="DejaVu Sans" font-size="36.67" fill="#4D4D4D">30°E</text>
<rect x="1154.78" y="1851" width="4.44" height="11.5" fill="#333333"/>
<text x="1157.00" y="1897" text-anchor="middle" font-family="DejaVu Sans" font-size="36.67" fill="#4D4D4D">20°E</text>
<rect x="1377.18" y="1851" width="4.44" height="11.5" fill="#333333"/>
<text x="1379.40" y="1897" text-anchor="middle" font-family="DejaVu Sans" font-size="36.67" fill="#4D4D4D">25°E</text>
<rect x="1599.58" y="1851" width="4.44" height="11.5" fill="#333333"/>
<text x="1601.80" y="1897" text-anchor="middle" font-family="DejaVu Sans" font-size="36.67" fill="#4D4D4D">30°E</text>
<text x="1836" y="919.6" font-family="DejaVu Sans" font-size="45.83" fill="#000000">real_occu</text>
<rect x="1836.8" y="948" width="72" height="358" fill="url(#vg)"/>
<rect x="1836.8" y="1304.90" width="14.4" height="2.2" fill="#FFFFFF" fill-opacity="0.9"/>
<rect x="1894.4" y="1304.90" width="14.4" height="2.2" fill="#FFFFFF" fill-opacity="0.9"/>
<text x="1931.5" y="1319.00" font-family="DejaVu Sans" font-size="36.67" fill="#000000">0.00</text>
<rect x="1836.8" y="1215.40" width="14.4" height="2.2" fill="#FFFFFF" fill-opacity="0.9"/>
<rect x="1894.4" y="1215.40" width="14.4" height="2.2" fill="#FFFFFF" fill-opacity="0.9"/>
<text x="1931.5" y="1229.50" font-family="DejaVu Sans" font-size="36.67" fill="#000000">0.25</text>
<rect x="1836.8" y="1125.90" width="14.4" height="2.2" fill="#FFFFFF" fill-opacity="0.9"/>
<rect x="1894.4" y="1125.90" width="14.4" height="2.2" fill="#FFFFFF" fill-opacity="0.9"/>
<text x="1931.5" y="1140.00" font-family="DejaVu Sans" font-size="36.67" fill="#000000">0.50</text>
<rect x="1836.8" y="1036.40" width="14.4" height="2.2" fill="#FFFFFF" fill-opacity="0.9"/>
<rect x="1894.4" y="1036.40" width="14.4" height="2.2" fill="#FFFFFF" fill-opacity="0.9"/>
<text x="1931.5" y="1050.50" font-family="DejaVu Sans" font-size="36.67" fill="#000000">0.75</text>
<rect x="1836.8" y="946.90" width="14.4" height="2.2" fill="#FFFFFF" fill-opacity="0.9"/>
<rect x="1894.4" y="946.90" width="14.4" height="2.2" fill="#FFFFFF" fill-opacity="0.9"/>
<text x="1931.5" y="961.00" font-family="DejaVu Sans" font-size="36.67" fill="#000000">1.00</text>
</svg>
</body></html>
